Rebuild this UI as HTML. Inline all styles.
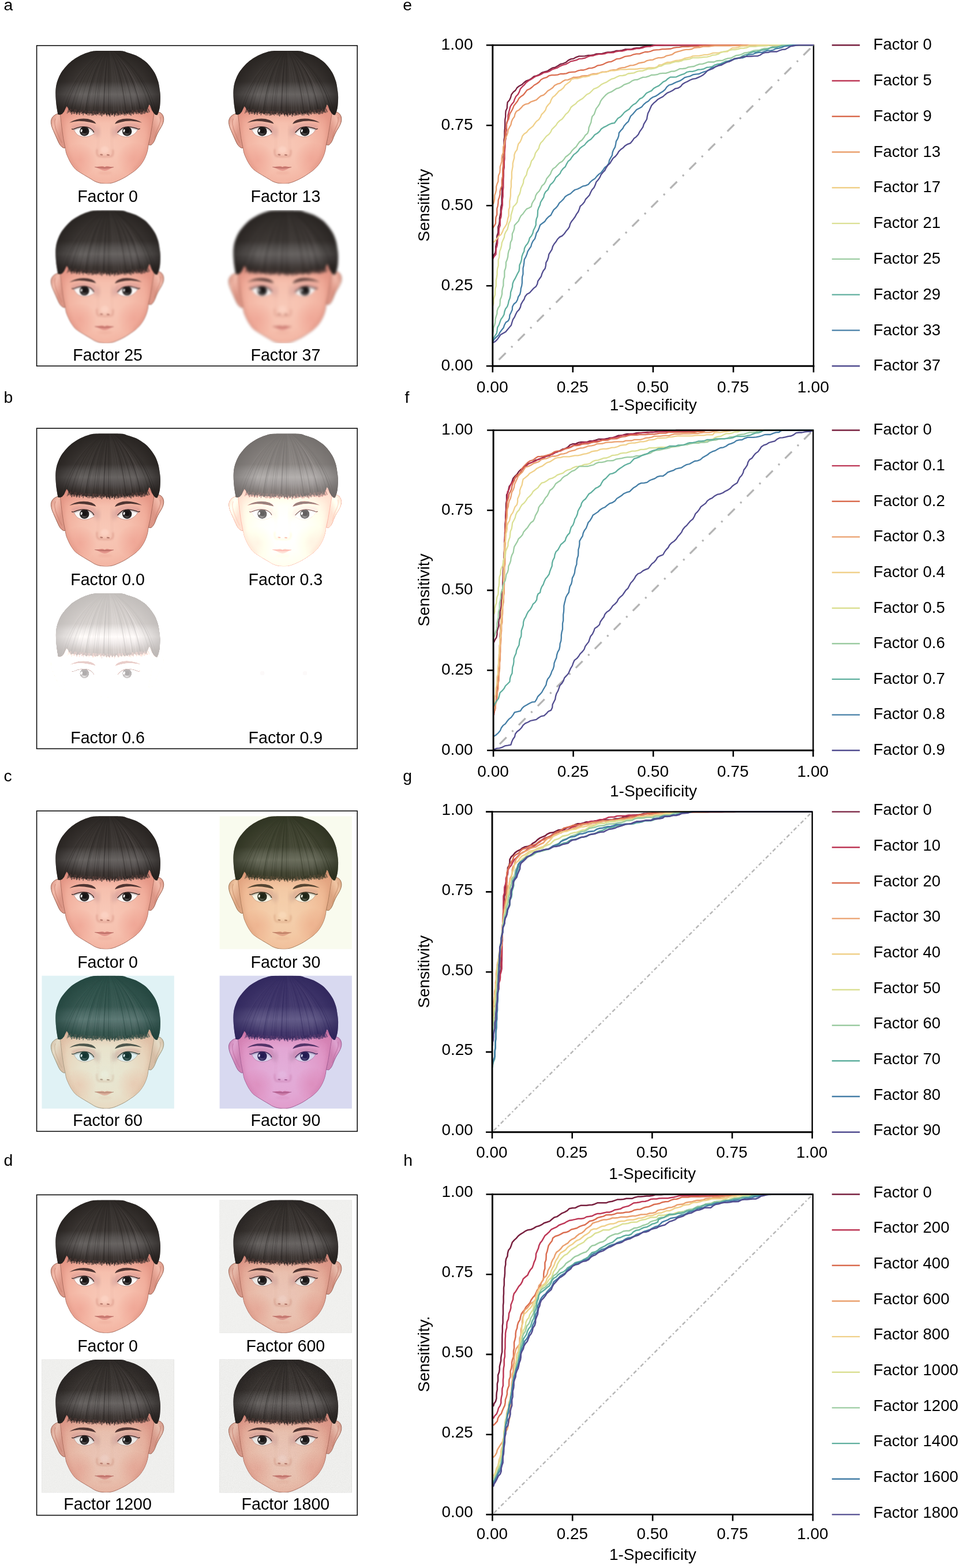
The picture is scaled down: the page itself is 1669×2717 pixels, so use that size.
<!DOCTYPE html>
<html lang="en"><head><meta charset="utf-8"><title>Figure</title>
<style>html,body{margin:0;padding:0;background:#fff}svg{display:block}</style></head><body>
<svg width="1669" height="2717" viewBox="0 0 1669 2717">
<rect width="1669" height="2717" fill="#fff"/>
<defs>
<radialGradient id="skin" gradientUnits="userSpaceOnUse" cx="110" cy="168" r="92">
<stop offset="0" stop-color="#f8c9b8"/><stop offset="0.45" stop-color="#f6c0ae"/><stop offset="0.8" stop-color="#f1ae9c"/><stop offset="1" stop-color="#e89b8a"/></radialGradient>
<radialGradient id="blushL" gradientUnits="userSpaceOnUse" cx="66" cy="190" r="30">
<stop offset="0" stop-color="#ec9a8b" stop-opacity="0.55"/><stop offset="1" stop-color="#ec9485" stop-opacity="0"/></radialGradient>
<radialGradient id="blushR" gradientUnits="userSpaceOnUse" cx="160" cy="188" r="30">
<stop offset="0" stop-color="#ec9a8b" stop-opacity="0.55"/><stop offset="1" stop-color="#ec9485" stop-opacity="0"/></radialGradient>
<linearGradient id="earL" gradientUnits="userSpaceOnUse" x1="17" y1="118" x2="40" y2="128">
<stop offset="0" stop-color="#dd9b8b"/><stop offset="0.35" stop-color="#f2bcac"/><stop offset="0.7" stop-color="#e8a797"/><stop offset="1" stop-color="#dc9686"/></linearGradient>
<linearGradient id="earR" gradientUnits="userSpaceOnUse" x1="211" y1="116" x2="189" y2="126">
<stop offset="0" stop-color="#dd9b8b"/><stop offset="0.35" stop-color="#f2bcac"/><stop offset="0.7" stop-color="#e8a797"/><stop offset="1" stop-color="#dc9686"/></linearGradient>
<linearGradient id="hairg" gradientUnits="userSpaceOnUse" x1="0" y1="0" x2="0" y2="112">
<stop offset="0" stop-color="#2e2a27"/><stop offset="0.3" stop-color="#37322f"/><stop offset="0.48" stop-color="#3d3835"/><stop offset="0.58" stop-color="#575351"/><stop offset="0.68" stop-color="#686462"/><stop offset="0.78" stop-color="#565150"/><stop offset="0.88" stop-color="#3f3835"/><stop offset="1" stop-color="#332b28"/></linearGradient>
<radialGradient id="hairsh" gradientUnits="userSpaceOnUse" cx="115" cy="70" r="100" fx="115" fy="60">
<stop offset="0.5" stop-color="#1d1917" stop-opacity="0"/><stop offset="1" stop-color="#1d1917" stop-opacity="0.8"/></radialGradient>
<radialGradient id="iris" gradientUnits="userSpaceOnUse" cx="-0.5" cy="4.2" r="9.5">
<stop offset="0" stop-color="#545252"/><stop offset="0.28" stop-color="#3f3c3c"/><stop offset="0.55" stop-color="#292525"/><stop offset="1" stop-color="#1f1b1b"/></radialGradient>
<linearGradient id="fhsh" gradientUnits="userSpaceOnUse" x1="0" y1="98" x2="0" y2="126">
<stop offset="0" stop-color="#b8665e" stop-opacity="0.55"/><stop offset="0.3" stop-color="#d88476" stop-opacity="0.3"/><stop offset="1" stop-color="#e8a090" stop-opacity="0"/></linearGradient>
<filter id="soft" x="-20%" y="-20%" width="140%" height="140%" color-interpolation-filters="sRGB"><feGaussianBlur stdDeviation="1.6"/></filter>
<filter id="soft2" x="-30%" y="-30%" width="160%" height="160%" color-interpolation-filters="sRGB"><feGaussianBlur stdDeviation="3"/></filter>
<filter id="soft05" x="-10%" y="-10%" width="120%" height="120%" color-interpolation-filters="sRGB"><feGaussianBlur stdDeviation="0.45"/></filter>
<clipPath id="faceclip"><path d="M31 88 L33 115 L35 132 L37.8 152 L41.3 169.8 C41.6 171.1 42.1 175.2 42.9 177.8 C43.7 180.5 44.8 182.8 46.1 185.7 C47.4 188.6 49.0 192.1 50.9 195.2 C52.8 198.2 55.3 201.8 57.2 204.0 C59.1 206.2 60.7 207.2 62.5 208.5 C64.3 209.8 65.6 210.6 68.0 212.1 C70.4 213.6 73.9 215.7 76.9 217.5 C79.9 219.3 83.4 221.3 85.9 222.8 C88.4 224.3 89.8 225.4 91.8 226.4 C93.8 227.4 95.8 228.2 97.8 228.8 C99.8 229.4 101.7 229.8 103.7 230.1 C105.7 230.4 107.7 230.6 109.7 230.7 C111.7 230.8 113.6 230.8 115.6 230.6 C117.6 230.4 119.5 230.1 121.6 229.6 C123.7 229.1 125.2 228.7 128.0 227.6 C130.8 226.5 135.5 224.4 138.6 222.9 C141.7 221.4 143.8 220.2 146.5 218.6 C149.2 217.0 151.9 215.1 154.5 213.3 C157.1 211.6 159.4 210.1 161.9 208.1 C164.4 206.1 167.2 203.5 169.3 201.2 C171.4 198.9 173.0 196.7 174.6 194.3 C176.2 191.9 177.6 189.5 178.8 186.9 C180.0 184.3 181.1 181.7 182.0 179.0 C182.9 176.3 183.6 173.6 184.1 171.0 C184.6 168.4 184.9 164.8 185.1 163.6 L188.5 148 L191.5 130 L194.5 112 L197 88 Z"/></clipPath>
<clipPath id="imgclip"><rect x="0.5" y="0.6" width="229.3" height="230.2"/></clipPath>
<g id="face">
<path d="M35 106 C31.5 108.5 27 109.6 23.9 111.4 C19.5 113.6 16.2 118.5 16.4 124 C16.6 129.5 18.4 134.2 20.6 139 C23 144.4 25.6 150.6 28.3 156.5 C30.6 161.8 33.2 166.8 38.6 169 L42.4 168.4 L40 150 Z" fill="url(#earL)" stroke="#98604f" stroke-width="1"/>
<path d="M193 104 C197 105.2 203 105.8 206.6 108.2 C210.6 111 212.2 116 211.6 121.2 C211 126.5 208.2 131 205.6 135.5 C202.6 140 200.2 145 198.2 150 C196.2 155.8 193.6 161.6 189.6 163.8 L185.2 163.4 L189.5 140 Z" fill="url(#earR)" stroke="#98604f" stroke-width="1"/>
<path d="M24 118 C21.5 124 23.5 134 27.5 143 C30 149 32.5 155 35.5 160" fill="none" stroke="#c98070" stroke-width="1.6" stroke-opacity="0.6" filter="url(#soft05)"/>
<path d="M205.5 115 C207.5 121 205 128 201.5 134.5 C199 140 197.5 146 195.5 152" fill="none" stroke="#c98070" stroke-width="1.6" stroke-opacity="0.6" filter="url(#soft05)"/>
<path d="M31 88 L33 115 L35 132 L37.8 152 L41.3 169.8 C41.6 171.1 42.1 175.2 42.9 177.8 C43.7 180.5 44.8 182.8 46.1 185.7 C47.4 188.6 49.0 192.1 50.9 195.2 C52.8 198.2 55.3 201.8 57.2 204.0 C59.1 206.2 60.7 207.2 62.5 208.5 C64.3 209.8 65.6 210.6 68.0 212.1 C70.4 213.6 73.9 215.7 76.9 217.5 C79.9 219.3 83.4 221.3 85.9 222.8 C88.4 224.3 89.8 225.4 91.8 226.4 C93.8 227.4 95.8 228.2 97.8 228.8 C99.8 229.4 101.7 229.8 103.7 230.1 C105.7 230.4 107.7 230.6 109.7 230.7 C111.7 230.8 113.6 230.8 115.6 230.6 C117.6 230.4 119.5 230.1 121.6 229.6 C123.7 229.1 125.2 228.7 128.0 227.6 C130.8 226.5 135.5 224.4 138.6 222.9 C141.7 221.4 143.8 220.2 146.5 218.6 C149.2 217.0 151.9 215.1 154.5 213.3 C157.1 211.6 159.4 210.1 161.9 208.1 C164.4 206.1 167.2 203.5 169.3 201.2 C171.4 198.9 173.0 196.7 174.6 194.3 C176.2 191.9 177.6 189.5 178.8 186.9 C180.0 184.3 181.1 181.7 182.0 179.0 C182.9 176.3 183.6 173.6 184.1 171.0 C184.6 168.4 184.9 164.8 185.1 163.6 L188.5 148 L191.5 130 L194.5 112 L197 88 Z" fill="url(#skin)" stroke="#9d6152" stroke-width="0.9"/>
<g clip-path="url(#faceclip)">
<rect x="28" y="96" width="172" height="30" fill="url(#fhsh)"/>
<ellipse cx="66" cy="190" rx="30" ry="28" fill="url(#blushL)"/>
<ellipse cx="160" cy="188" rx="30" ry="28" fill="url(#blushR)"/>
<path d="M33 112 L38 152 L42 172 Q48 194 64 211" fill="none" stroke="#dd8f80" stroke-width="7" stroke-opacity="0.55" filter="url(#soft2)"/>
<path d="M195 110 L189 148 L185 168 Q180 190 160 210" fill="none" stroke="#dd8f80" stroke-width="7" stroke-opacity="0.55" filter="url(#soft2)"/>
<path d="M52 131 Q72 121 93 130 Q95 139 92 146 Q72 128 54 138 Z" fill="#cf9292" fill-opacity="0.42" filter="url(#soft)"/>
<path d="M129 146 Q127 139 129 131 Q149 121 171 130 L168 138 Q150 128 129 146 Z" fill="#cf9292" fill-opacity="0.42" filter="url(#soft)"/>
<ellipse cx="96.5" cy="141" rx="4.5" ry="9" fill="#c99a98" fill-opacity="0.5" filter="url(#soft2)"/>
<ellipse cx="126" cy="141" rx="4.5" ry="9" fill="#c99a98" fill-opacity="0.5" filter="url(#soft2)"/>
<path d="M98 128 Q101 150 97 170 Q95 178 99 183" fill="none" stroke="#e8a595" stroke-width="4" stroke-opacity="0.2" filter="url(#soft2)"/>
<path d="M122 128 Q119 150 123 170 Q125.5 178 121 183" fill="none" stroke="#e8a595" stroke-width="4" stroke-opacity="0.2" filter="url(#soft2)"/>
<ellipse cx="109.5" cy="172" rx="7" ry="6" fill="#fbd3c4" fill-opacity="0.8" filter="url(#soft)"/>
<ellipse cx="110" cy="212" rx="12" ry="3" fill="#eaa595" fill-opacity="0.35" filter="url(#soft)"/>
</g>
<path d="M96.2 171 Q94.6 178.5 97.6 182.2 Q100.5 184 103 183.2 Q109 184.6 116 183.6 Q119.5 184 122.5 182.3 Q125 178.5 123.6 172" fill="none" stroke="#d48f7f" stroke-width="2" stroke-opacity="0.7" filter="url(#soft)"/>
<ellipse cx="103.8" cy="180.4" rx="2.6" ry="1.0" fill="#a3665a" filter="url(#soft05)" transform="rotate(8 103.8 180.4)"/>
<ellipse cx="115.4" cy="180.9" rx="2.7" ry="1.0" fill="#a3665a" filter="url(#soft05)" transform="rotate(6 115.4 180.9)"/>
<path d="M93 201.9 Q99 201 104.5 200.7 Q107.5 200.6 109.4 202 Q111.3 200.6 114.3 200.7 Q119.5 201.2 124.2 202.2 Q120 204.2 116.5 206.2 Q112.5 208.2 109.4 208.2 Q105.5 208.1 102 206 Q97.5 203.8 93 201.9 Z" fill="#e3958b"/>
<path d="M93 201.9 Q99 201 104.5 200.7 Q107.5 200.6 109.4 202 Q111.3 200.6 114.3 200.7 Q119.5 201.2 124.2 202.2 Q117 203.8 109.4 204.1 Q101 203.8 93 201.9 Z" fill="#cf7d74"/>
<path d="M92.2 201.8 Q101 203.6 109.4 203.9 Q117.5 203.7 125 202.1" fill="none" stroke="#a65e58" stroke-width="0.8"/>
<path d="M48.3 125.3 Q56 120.2 66 118.5 Q78 117.1 87 120.4 Q92 122.4 94.6 126.9 Q89 125.3 83.5 124.2 Q74 122.4 65 122.2 Q56 122.6 48.3 125.3 Z" fill="#4f3532" filter="url(#soft05)"/>
<path d="M127 127.3 Q129.2 122.4 134.5 120.3 Q143 116.9 154 118.3 Q165 119.7 174 124.9 Q165 122.6 155 122.1 Q145 122.2 137.5 124.2 Q132 125.8 127 127.3 Z" fill="#4f3532" filter="url(#soft05)"/>
<clipPath id="eyeLc"><path d="M55.3 136.5 C56.5 136.1 60.2 134.7 62.8 134.0 C65.4 133.3 68.1 132.8 70.8 132.6 C73.5 132.4 76.4 132.5 78.7 133.0 C81.0 133.5 83.1 134.5 84.7 135.4 C86.3 136.3 87.4 137.1 88.6 138.5 C89.8 139.9 91.3 143.1 91.8 144.0 L91.8 144.0 C91.3 144.3 90.1 145.1 88.6 145.9 C87.1 146.7 85.0 147.9 82.7 148.6 C80.4 149.2 77.4 149.9 74.7 149.8 C72.0 149.8 69.1 149.2 66.8 148.3 C64.5 147.5 62.8 146.7 60.9 144.7 C59.0 142.7 56.2 137.9 55.3 136.5 Z"/></clipPath>
<path d="M55.3 136.5 C56.5 136.1 60.2 134.7 62.8 134.0 C65.4 133.3 68.1 132.8 70.8 132.6 C73.5 132.4 76.4 132.5 78.7 133.0 C81.0 133.5 83.1 134.5 84.7 135.4 C86.3 136.3 87.4 137.1 88.6 138.5 C89.8 139.9 91.3 143.1 91.8 144.0 L91.8 144.0 C91.3 144.3 90.1 145.1 88.6 145.9 C87.1 146.7 85.0 147.9 82.7 148.6 C80.4 149.2 77.4 149.9 74.7 149.8 C72.0 149.8 69.1 149.2 66.8 148.3 C64.5 147.5 62.8 146.7 60.9 144.7 C59.0 142.7 56.2 137.9 55.3 136.5 Z" fill="#fbf7f5" stroke="#d9a79c" stroke-width="0.7"/>
<g clip-path="url(#eyeLc)">
<path d="M52.6 136.0 C53.0 136.1 53.6 136.7 55.3 136.3 C57.0 135.9 60.2 134.3 62.8 133.6 C65.4 132.9 68.1 132.4 70.8 132.2 C73.5 132.0 76.4 132.1 78.7 132.6 C81.0 133.1 83.1 134.1 84.7 135.0 C86.3 135.9 87.6 137.1 88.6 138.2 C89.6 139.3 90.3 140.9 90.6 141.4" fill="none" stroke="#a89a9c" stroke-width="3.2" stroke-opacity="0.5" filter="url(#soft05)" transform="translate(0 1.3)"/>
<g transform="translate(74.3 140.0)"><circle r="8.2" fill="#1f1b1b"/><circle r="7.3" fill="url(#iris)"/><circle cx="0.3" cy="-0.4" r="4" fill="#171414"/><ellipse cx="-5.1" cy="-1.0" rx="1.5" ry="2.5" fill="#fff" fill-opacity="0.96" transform="rotate(14 -5.1 -1)"/></g>
</g>
<path d="M52.6 136.0 C53.0 136.1 53.6 136.7 55.3 136.3 C57.0 135.9 60.2 134.3 62.8 133.6 C65.4 132.9 68.1 132.4 70.8 132.2 C73.5 132.0 76.4 132.1 78.7 132.6 C81.0 133.1 83.1 134.1 84.7 135.0 C86.3 135.9 87.6 137.1 88.6 138.2 C89.6 139.3 90.3 140.9 90.6 141.4" fill="none" stroke="#2f1d1b" stroke-width="1.25" stroke-linecap="round"/>
<path d="M91.8 144.0 C91.3 144.3 90.1 145.1 88.6 145.9 C87.1 146.7 85.0 147.9 82.7 148.6 C80.4 149.2 77.4 149.9 74.7 149.8 C72.0 149.8 69.1 149.2 66.8 148.3 C64.5 147.5 62.8 146.7 60.9 144.7 C59.0 142.7 56.2 137.9 55.3 136.5" fill="none" stroke="#c48a80" stroke-width="0.7" stroke-opacity="0.8"/>
<clipPath id="eyeRc"><path d="M130.7 144.0 C131.6 143.0 134.1 139.8 135.9 138.1 C137.8 136.4 139.5 135.0 141.8 134.1 C144.1 133.2 147.2 132.6 149.8 132.5 C152.5 132.4 155.4 133.1 157.7 133.5 C160.0 133.9 162.0 134.6 163.7 135.1 C165.3 135.6 166.9 136.3 167.6 136.5 L167.6 136.5 C167.3 137.0 166.6 138.2 165.6 139.4 C164.6 140.6 163.3 142.5 161.7 143.9 C160.0 145.3 158.0 146.8 155.7 147.8 C153.4 148.8 150.8 149.7 147.8 149.8 C144.8 149.9 140.8 149.3 137.9 148.3 C135.1 147.3 131.9 144.7 130.7 144.0 Z"/></clipPath>
<path d="M130.7 144.0 C131.6 143.0 134.1 139.8 135.9 138.1 C137.8 136.4 139.5 135.0 141.8 134.1 C144.1 133.2 147.2 132.6 149.8 132.5 C152.5 132.4 155.4 133.1 157.7 133.5 C160.0 133.9 162.0 134.6 163.7 135.1 C165.3 135.6 166.9 136.3 167.6 136.5 L167.6 136.5 C167.3 137.0 166.6 138.2 165.6 139.4 C164.6 140.6 163.3 142.5 161.7 143.9 C160.0 145.3 158.0 146.8 155.7 147.8 C153.4 148.8 150.8 149.7 147.8 149.8 C144.8 149.9 140.8 149.3 137.9 148.3 C135.1 147.3 131.9 144.7 130.7 144.0 Z" fill="#fbf7f5" stroke="#d9a79c" stroke-width="0.7"/>
<g clip-path="url(#eyeRc)">
<path d="M131.8 141.9 C132.5 141.2 134.2 139.1 135.9 137.7 C137.6 136.3 139.5 134.6 141.8 133.7 C144.1 132.8 147.2 132.2 149.8 132.1 C152.5 132.0 155.4 132.7 157.7 133.1 C160.0 133.5 162.0 134.2 163.7 134.7 C165.3 135.2 166.5 136.0 167.6 136.2 C168.7 136.3 169.8 135.7 170.2 135.6" fill="none" stroke="#a89a9c" stroke-width="3.2" stroke-opacity="0.5" filter="url(#soft05)" transform="translate(0 1.3)"/>
<g transform="translate(148.2 140.0)"><circle r="8.2" fill="#1f1b1b"/><circle r="7.3" fill="url(#iris)"/><circle cx="0.3" cy="-0.4" r="4" fill="#171414"/><ellipse cx="-5.1" cy="-1.0" rx="1.5" ry="2.5" fill="#fff" fill-opacity="0.96" transform="rotate(14 -5.1 -1)"/></g>
</g>
<path d="M131.8 141.9 C132.5 141.2 134.2 139.1 135.9 137.7 C137.6 136.3 139.5 134.6 141.8 133.7 C144.1 132.8 147.2 132.2 149.8 132.1 C152.5 132.0 155.4 132.7 157.7 133.1 C160.0 133.5 162.0 134.2 163.7 134.7 C165.3 135.2 166.5 136.0 167.6 136.2 C168.7 136.3 169.8 135.7 170.2 135.6" fill="none" stroke="#2f1d1b" stroke-width="1.25" stroke-linecap="round"/>
<path d="M167.6 136.5 C167.3 137.0 166.6 138.2 165.6 139.4 C164.6 140.6 163.3 142.5 161.7 143.9 C160.0 145.3 158.0 146.8 155.7 147.8 C153.4 148.8 150.8 149.7 147.8 149.8 C144.8 149.9 140.8 149.3 137.9 148.3 C135.1 147.3 131.9 144.7 130.7 144.0" fill="none" stroke="#c48a80" stroke-width="0.7" stroke-opacity="0.8"/>
<path d="M28.4 110.7 C28.0 108.2 26.5 100.4 25.9 95.9 C25.3 91.5 25.0 88.0 24.7 84.0 C24.4 80.0 24.2 76.1 24.3 72.1 C24.4 68.1 24.8 63.9 25.5 60.2 C26.2 56.5 27.3 53.2 28.6 49.8 C29.9 46.3 31.5 42.7 33.4 39.5 C35.2 36.3 37.3 33.7 39.7 30.8 C42.1 27.9 45.1 24.6 47.7 22.1 C50.4 19.6 52.3 17.9 55.6 15.7 C58.9 13.4 63.5 10.6 67.5 8.6 C71.5 6.6 74.8 5.1 79.4 3.8 C84.0 2.5 85.9 1.1 95.3 0.6 C104.7 0.1 126.8 0.1 135.8 0.6 C144.8 1.1 144.7 2.5 149.3 3.8 C153.9 5.1 159.2 6.6 163.6 8.6 C168.0 10.6 172.2 13.4 175.5 15.7 C178.8 17.9 180.8 19.5 183.4 22.1 C186.0 24.8 188.9 28.3 191.3 31.6 C193.7 34.9 195.8 38.1 197.7 41.9 C199.5 45.7 201.2 50.2 202.4 54.6 C203.6 59.0 204.2 63.9 204.8 68.1 C205.4 72.3 205.9 75.4 206.0 80.0 C206.1 84.6 205.7 91.7 205.2 95.9 C204.7 100.1 204.0 102.8 203.2 105.4 C202.4 108.1 201.0 110.7 200.6 111.8 L197.5 111.5 L194.5 108.5 L191.0 103.0 L188.5 96.0 L186.5 93.5 L184.5 99.0 L182.0 104.5 L180.0 107.2 L177.0 103.2 L174.8 107.9 L171.7 105.5 L169.4 108.8 L166.1 106.3 L164.1 108.2 L160.8 105.5 L159.1 110.6 L155.5 106.1 L153.1 109.4 L150.9 106.9 L149.2 109.8 L146.6 108.4 L144.4 110.7 L141.0 107.6 L138.5 111.2 L135.4 108.1 L133.4 112.6 L129.8 107.5 L127.2 111.3 L124.7 109.0 L123.0 112.4 L120.2 107.9 L118.1 112.9 L114.7 109.9 L112.8 112.8 L110.0 107.6 L107.8 110.9 L104.7 108.0 L102.7 110.8 L100.1 107.5 L97.4 110.7 L94.9 109.3 L93.2 111.9 L90.7 108.0 L88.5 110.3 L85.3 108.7 L82.8 109.8 L80.0 108.1 L78.0 111.2 L74.7 107.5 L71.9 109.0 L69.1 105.7 L66.6 108.2 L63.0 106.6 L61.1 109.1 L58.4 105.9 L56.7 107.1 L53.7 105.5 L51.2 107.1 L48.4 103.2 L48.0 104.0 L45.5 99.0 L43.5 96.5 L41.5 100.5 L39.0 106.0 L35.5 110.0 L32.0 111.2 L28.4 110.7 Z" fill="url(#hairg)"/>
<clipPath id="hairclip"><path d="M28.4 110.7 C28.0 108.2 26.5 100.4 25.9 95.9 C25.3 91.5 25.0 88.0 24.7 84.0 C24.4 80.0 24.2 76.1 24.3 72.1 C24.4 68.1 24.8 63.9 25.5 60.2 C26.2 56.5 27.3 53.2 28.6 49.8 C29.9 46.3 31.5 42.7 33.4 39.5 C35.2 36.3 37.3 33.7 39.7 30.8 C42.1 27.9 45.1 24.6 47.7 22.1 C50.4 19.6 52.3 17.9 55.6 15.7 C58.9 13.4 63.5 10.6 67.5 8.6 C71.5 6.6 74.8 5.1 79.4 3.8 C84.0 2.5 85.9 1.1 95.3 0.6 C104.7 0.1 126.8 0.1 135.8 0.6 C144.8 1.1 144.7 2.5 149.3 3.8 C153.9 5.1 159.2 6.6 163.6 8.6 C168.0 10.6 172.2 13.4 175.5 15.7 C178.8 17.9 180.8 19.5 183.4 22.1 C186.0 24.8 188.9 28.3 191.3 31.6 C193.7 34.9 195.8 38.1 197.7 41.9 C199.5 45.7 201.2 50.2 202.4 54.6 C203.6 59.0 204.2 63.9 204.8 68.1 C205.4 72.3 205.9 75.4 206.0 80.0 C206.1 84.6 205.7 91.7 205.2 95.9 C204.7 100.1 204.0 102.8 203.2 105.4 C202.4 108.1 201.0 110.7 200.6 111.8 L197.5 111.5 L194.5 108.5 L191.0 103.0 L188.5 96.0 L186.5 93.5 L184.5 99.0 L182.0 104.5 L180.0 107.2 L177.0 103.2 L174.8 107.9 L171.7 105.5 L169.4 108.8 L166.1 106.3 L164.1 108.2 L160.8 105.5 L159.1 110.6 L155.5 106.1 L153.1 109.4 L150.9 106.9 L149.2 109.8 L146.6 108.4 L144.4 110.7 L141.0 107.6 L138.5 111.2 L135.4 108.1 L133.4 112.6 L129.8 107.5 L127.2 111.3 L124.7 109.0 L123.0 112.4 L120.2 107.9 L118.1 112.9 L114.7 109.9 L112.8 112.8 L110.0 107.6 L107.8 110.9 L104.7 108.0 L102.7 110.8 L100.1 107.5 L97.4 110.7 L94.9 109.3 L93.2 111.9 L90.7 108.0 L88.5 110.3 L85.3 108.7 L82.8 109.8 L80.0 108.1 L78.0 111.2 L74.7 107.5 L71.9 109.0 L69.1 105.7 L66.6 108.2 L63.0 106.6 L61.1 109.1 L58.4 105.9 L56.7 107.1 L53.7 105.5 L51.2 107.1 L48.4 103.2 L48.0 104.0 L45.5 99.0 L43.5 96.5 L41.5 100.5 L39.0 106.0 L35.5 110.0 L32.0 111.2 L28.4 110.7 Z"/></clipPath>
<linearGradient id="strfade" gradientUnits="userSpaceOnUse" x1="0" y1="0" x2="0" y2="60"><stop offset="0" stop-color="#fff" stop-opacity="0.15"/><stop offset="1" stop-color="#fff" stop-opacity="1"/></linearGradient>
<mask id="strmask" maskUnits="userSpaceOnUse" x="0" y="0" width="230" height="125"><rect x="0" y="0" width="230" height="125" fill="url(#strfade)"/></mask>
<g clip-path="url(#hairclip)" fill="none">
<g mask="url(#strmask)">
<path d="M105.9 1.5 Q47.8 42.4 30.5 108.2" stroke="#4a4442" stroke-opacity="0.34" stroke-width="1.0"/>
<path d="M106.4 1.5 Q51.5 38.0 35.1 108.6" stroke="#5e5856" stroke-opacity="0.40" stroke-width="0.7"/>
<path d="M106.7 1.5 Q53.3 40.4 37.4 107.3" stroke="#171312" stroke-opacity="0.24" stroke-width="1.2"/>
<path d="M107.1 1.5 Q56.2 42.9 41.0 107.4" stroke="#100d0c" stroke-opacity="0.22" stroke-width="1.2"/>
<path d="M107.4 1.5 Q58.3 37.0 43.7 109.0" stroke="#5e5856" stroke-opacity="0.41" stroke-width="0.6"/>
<path d="M108.2 1.5 Q63.4 37.3 50.0 110.2" stroke="#14110f" stroke-opacity="0.25" stroke-width="1.4"/>
<path d="M108.5 1.5 Q65.6 37.6 52.8 109.7" stroke="#4a4442" stroke-opacity="0.23" stroke-width="1.4"/>
<path d="M108.9 1.5 Q68.2 39.3 56.0 107.9" stroke="#14110f" stroke-opacity="0.24" stroke-width="0.9"/>
<path d="M109.6 1.5 Q72.6 40.8 61.5 109.9" stroke="#4a4442" stroke-opacity="0.26" stroke-width="0.8"/>
<path d="M110.0 1.5 Q75.6 38.5 65.3 109.8" stroke="#100d0c" stroke-opacity="0.29" stroke-width="0.7"/>
<path d="M110.2 1.5 Q76.8 43.6 66.8 111.4" stroke="#686260" stroke-opacity="0.38" stroke-width="0.6"/>
<path d="M110.9 1.5 Q81.5 40.6 72.7 109.9" stroke="#5e5856" stroke-opacity="0.29" stroke-width="1.2"/>
<path d="M111.3 1.5 Q84.0 37.0 75.8 111.8" stroke="#14110f" stroke-opacity="0.40" stroke-width="1.4"/>
<path d="M111.6 1.5 Q86.2 40.2 78.5 110.2" stroke="#100d0c" stroke-opacity="0.21" stroke-width="1.2"/>
<path d="M112.3 1.5 Q90.6 36.3 84.1 111.9" stroke="#5e5856" stroke-opacity="0.23" stroke-width="1.0"/>
<path d="M112.5 1.5 Q92.3 38.2 86.1 109.9" stroke="#4a4442" stroke-opacity="0.31" stroke-width="0.8"/>
<path d="M113.0 1.5 Q95.1 36.6 89.7 110.1" stroke="#14110f" stroke-opacity="0.35" stroke-width="0.8"/>
<path d="M113.5 1.5 Q98.7 36.6 94.2 111.9" stroke="#171312" stroke-opacity="0.31" stroke-width="0.9"/>
<path d="M113.8 1.5 Q100.9 42.6 96.9 111.6" stroke="#100d0c" stroke-opacity="0.34" stroke-width="0.7"/>
<path d="M114.6 1.5 Q106.3 42.4 103.7 111.8" stroke="#686260" stroke-opacity="0.38" stroke-width="0.7"/>
<path d="M115.0 1.5 Q108.6 41.0 106.5 112.8" stroke="#100d0c" stroke-opacity="0.21" stroke-width="0.9"/>
<path d="M115.2 1.5 Q109.7 38.4 107.9 112.5" stroke="#100d0c" stroke-opacity="0.40" stroke-width="1.1"/>
<path d="M115.6 1.5 Q112.8 43.7 111.8 111.6" stroke="#4a4442" stroke-opacity="0.36" stroke-width="1.0"/>
<path d="M116.1 1.5 Q116.2 37.2 116.1 111.2" stroke="#100d0c" stroke-opacity="0.38" stroke-width="1.0"/>
<path d="M116.5 1.5 Q118.9 42.9 119.4 112.8" stroke="#14110f" stroke-opacity="0.20" stroke-width="0.8"/>
<path d="M117.3 1.5 Q123.8 38.9 125.6 112.5" stroke="#686260" stroke-opacity="0.35" stroke-width="1.1"/>
<path d="M117.7 1.5 Q126.8 41.6 129.3 111.0" stroke="#686260" stroke-opacity="0.38" stroke-width="0.8"/>
<path d="M118.3 1.5 Q130.5 43.7 133.9 112.0" stroke="#686260" stroke-opacity="0.34" stroke-width="1.1"/>
<path d="M118.3 1.5 Q130.4 38.0 133.8 111.3" stroke="#4a4442" stroke-opacity="0.25" stroke-width="0.8"/>
<path d="M118.9 1.5 Q135.0 38.9 139.6 111.6" stroke="#686260" stroke-opacity="0.33" stroke-width="1.2"/>
<path d="M119.6 1.5 Q139.1 42.7 144.6 110.5" stroke="#4a4442" stroke-opacity="0.29" stroke-width="0.9"/>
<path d="M119.8 1.5 Q140.5 43.8 146.4 109.7" stroke="#14110f" stroke-opacity="0.38" stroke-width="1.3"/>
<path d="M120.3 1.5 Q144.0 41.8 150.8 111.2" stroke="#4a4442" stroke-opacity="0.28" stroke-width="1.1"/>
<path d="M121.0 1.5 Q148.5 43.5 156.4 110.5" stroke="#686260" stroke-opacity="0.33" stroke-width="1.2"/>
<path d="M121.3 1.5 Q150.6 36.2 159.0 110.9" stroke="#14110f" stroke-opacity="0.32" stroke-width="1.1"/>
<path d="M121.5 1.5 Q152.1 37.4 160.9 110.8" stroke="#4a4442" stroke-opacity="0.19" stroke-width="1.0"/>
<path d="M122.0 1.5 Q155.3 37.1 164.9 108.5" stroke="#686260" stroke-opacity="0.41" stroke-width="1.0"/>
<path d="M122.6 1.5 Q159.4 38.8 170.0 109.4" stroke="#4a4442" stroke-opacity="0.33" stroke-width="1.1"/>
<path d="M122.9 1.5 Q161.4 36.0 172.5 110.6" stroke="#100d0c" stroke-opacity="0.41" stroke-width="1.3"/>
<path d="M123.7 1.5 Q166.4 40.4 178.8 109.7" stroke="#5e5856" stroke-opacity="0.31" stroke-width="0.8"/>
<path d="M123.8 1.5 Q167.6 43.6 180.3 108.9" stroke="#686260" stroke-opacity="0.41" stroke-width="1.3"/>
<path d="M124.3 1.5 Q171.0 41.1 184.6 109.5" stroke="#686260" stroke-opacity="0.29" stroke-width="0.7"/>
<path d="M124.8 1.5 Q173.9 37.6 188.2 108.3" stroke="#14110f" stroke-opacity="0.33" stroke-width="0.9"/>
<path d="M125.5 1.5 Q178.6 36.9 194.0 106.6" stroke="#171312" stroke-opacity="0.40" stroke-width="1.0"/>
<path d="M125.7 1.5 Q179.8 40.5 195.5 108.9" stroke="#100d0c" stroke-opacity="0.28" stroke-width="0.8"/>
<path d="M126.1 1.5 Q182.7 39.0 199.2 108.9" stroke="#14110f" stroke-opacity="0.32" stroke-width="0.8"/>
</g>
<rect x="0" y="0" width="230" height="125" fill="url(#hairsh)"/>
</g>
<g fill="none" stroke-linecap="round" filter="url(#soft05)">
<path d="M47.0 101.4 L44.4 108.8" stroke="#3b2f2c" stroke-width="1.2" stroke-opacity="0.62"/>
<path d="M48.7 101.6 L46.8 106.9" stroke="#2f2725" stroke-width="1.7" stroke-opacity="0.59"/>
<path d="M50.6 101.8 L48.7 105.9" stroke="#5a403b" stroke-width="1.7" stroke-opacity="0.71"/>
<path d="M52.8 102.1 L50.5 107.4" stroke="#3b2f2c" stroke-width="1.9" stroke-opacity="0.76"/>
<path d="M54.9 102.3 L52.1 109.8" stroke="#2f2725" stroke-width="2.4" stroke-opacity="0.61"/>
<path d="M57.4 102.6 L55.6 108.7" stroke="#4a3633" stroke-width="2.1" stroke-opacity="0.74"/>
<path d="M59.3 102.8 L56.9 109.1" stroke="#4a3633" stroke-width="1.8" stroke-opacity="0.77"/>
<path d="M61.2 103.0 L58.9 109.1" stroke="#5a403b" stroke-width="1.2" stroke-opacity="0.61"/>
<path d="M63.2 103.3 L60.9 110.2" stroke="#2f2725" stroke-width="2.3" stroke-opacity="0.72"/>
<path d="M65.6 103.5 L63.7 109.2" stroke="#4a3633" stroke-width="1.3" stroke-opacity="0.81"/>
<path d="M67.8 103.7 L65.6 110.7" stroke="#4a3633" stroke-width="2.3" stroke-opacity="0.74"/>
<path d="M70.4 104.0 L69.5 108.6" stroke="#3b2f2c" stroke-width="2.0" stroke-opacity="0.66"/>
<path d="M71.8 104.1 L70.1 109.0" stroke="#4a3633" stroke-width="2.2" stroke-opacity="0.88"/>
<path d="M73.7 104.3 L72.1 111.9" stroke="#2f2725" stroke-width="1.2" stroke-opacity="0.82"/>
<path d="M75.6 104.5 L74.5 108.6" stroke="#4a3633" stroke-width="2.1" stroke-opacity="0.68"/>
<path d="M77.2 104.6 L76.3 109.0" stroke="#4a3633" stroke-width="2.0" stroke-opacity="0.72"/>
<path d="M78.8 104.8 L77.6 109.1" stroke="#3b2f2c" stroke-width="1.7" stroke-opacity="0.64"/>
<path d="M81.2 105.0 L80.1 111.9" stroke="#5a403b" stroke-width="1.3" stroke-opacity="0.88"/>
<path d="M83.7 105.2 L82.5 111.9" stroke="#5a403b" stroke-width="1.7" stroke-opacity="0.81"/>
<path d="M85.7 105.3 L84.9 111.3" stroke="#3b2f2c" stroke-width="1.2" stroke-opacity="0.56"/>
<path d="M88.2 105.5 L87.1 112.1" stroke="#4a3633" stroke-width="2.3" stroke-opacity="0.53"/>
<path d="M90.2 105.6 L89.1 111.6" stroke="#5a403b" stroke-width="2.2" stroke-opacity="0.90"/>
<path d="M91.8 105.7 L90.7 110.9" stroke="#4a3633" stroke-width="2.1" stroke-opacity="0.66"/>
<path d="M94.1 105.8 L93.7 109.9" stroke="#5a403b" stroke-width="2.3" stroke-opacity="0.67"/>
<path d="M95.7 105.9 L95.4 112.1" stroke="#4a3633" stroke-width="1.8" stroke-opacity="0.62"/>
<path d="M98.1 106.0 L98.0 110.3" stroke="#5a403b" stroke-width="1.7" stroke-opacity="0.51"/>
<path d="M100.0 106.1 L99.6 111.6" stroke="#5a403b" stroke-width="1.6" stroke-opacity="0.62"/>
<path d="M102.5 106.2 L102.0 111.4" stroke="#5a403b" stroke-width="2.3" stroke-opacity="0.77"/>
<path d="M104.8 106.3 L104.4 113.4" stroke="#3b2f2c" stroke-width="1.7" stroke-opacity="0.86"/>
<path d="M107.4 106.3 L107.0 110.9" stroke="#5a403b" stroke-width="2.4" stroke-opacity="0.61"/>
<path d="M109.6 106.4 L109.1 110.4" stroke="#3b2f2c" stroke-width="1.5" stroke-opacity="0.89"/>
<path d="M111.7 106.4 L111.9 110.5" stroke="#2f2725" stroke-width="1.4" stroke-opacity="0.73"/>
<path d="M113.8 106.4 L113.5 113.2" stroke="#5a403b" stroke-width="1.9" stroke-opacity="0.64"/>
<path d="M116.4 106.4 L116.6 112.6" stroke="#4a3633" stroke-width="1.2" stroke-opacity="0.55"/>
<path d="M118.6 106.4 L118.5 113.9" stroke="#4a3633" stroke-width="2.3" stroke-opacity="0.62"/>
<path d="M121.1 106.4 L121.5 111.4" stroke="#3b2f2c" stroke-width="2.2" stroke-opacity="0.74"/>
<path d="M123.1 106.3 L123.1 111.5" stroke="#3b2f2c" stroke-width="1.4" stroke-opacity="0.59"/>
<path d="M125.7 106.3 L126.3 113.8" stroke="#4a3633" stroke-width="1.8" stroke-opacity="0.84"/>
<path d="M127.5 106.2 L128.0 111.5" stroke="#2f2725" stroke-width="1.7" stroke-opacity="0.76"/>
<path d="M130.0 106.1 L130.5 112.4" stroke="#2f2725" stroke-width="2.2" stroke-opacity="0.52"/>
<path d="M131.8 106.0 L132.6 112.6" stroke="#4a3633" stroke-width="1.5" stroke-opacity="0.66"/>
<path d="M133.0 106.0 L133.5 111.1" stroke="#4a3633" stroke-width="1.9" stroke-opacity="0.67"/>
<path d="M134.6 105.9 L135.3 111.0" stroke="#5a403b" stroke-width="2.2" stroke-opacity="0.66"/>
<path d="M136.3 105.8 L136.6 111.6" stroke="#5a403b" stroke-width="2.2" stroke-opacity="0.57"/>
<path d="M138.1 105.7 L139.0 110.4" stroke="#3b2f2c" stroke-width="1.7" stroke-opacity="0.50"/>
<path d="M140.2 105.6 L141.1 110.5" stroke="#5a403b" stroke-width="1.7" stroke-opacity="0.89"/>
<path d="M142.4 105.4 L143.7 112.0" stroke="#2f2725" stroke-width="2.1" stroke-opacity="0.56"/>
<path d="M145.0 105.3 L146.5 112.0" stroke="#5a403b" stroke-width="1.9" stroke-opacity="0.55"/>
<path d="M146.3 105.2 L147.1 110.9" stroke="#2f2725" stroke-width="1.3" stroke-opacity="0.51"/>
<path d="M148.2 105.0 L149.3 109.8" stroke="#2f2725" stroke-width="2.1" stroke-opacity="0.62"/>
<path d="M150.4 104.8 L151.9 110.4" stroke="#2f2725" stroke-width="1.6" stroke-opacity="0.80"/>
<path d="M151.9 104.7 L153.6 111.1" stroke="#4a3633" stroke-width="1.3" stroke-opacity="0.81"/>
<path d="M153.3 104.6 L155.2 111.9" stroke="#2f2725" stroke-width="2.4" stroke-opacity="0.54"/>
<path d="M155.7 104.4 L156.4 108.7" stroke="#3b2f2c" stroke-width="2.1" stroke-opacity="0.88"/>
<path d="M157.8 104.2 L159.1 110.0" stroke="#5a403b" stroke-width="2.4" stroke-opacity="0.76"/>
<path d="M160.2 103.9 L161.7 108.7" stroke="#3b2f2c" stroke-width="2.0" stroke-opacity="0.55"/>
<path d="M162.6 103.7 L164.4 109.5" stroke="#4a3633" stroke-width="1.5" stroke-opacity="0.87"/>
<path d="M164.6 103.5 L165.8 108.9" stroke="#5a403b" stroke-width="2.2" stroke-opacity="0.75"/>
<path d="M166.0 103.4 L168.0 110.2" stroke="#5a403b" stroke-width="1.2" stroke-opacity="0.70"/>
<path d="M167.8 103.2 L169.6 108.2" stroke="#3b2f2c" stroke-width="2.2" stroke-opacity="0.58"/>
<path d="M170.2 102.9 L172.2 109.8" stroke="#4a3633" stroke-width="2.2" stroke-opacity="0.77"/>
<path d="M171.5 102.7 L174.1 109.8" stroke="#4a3633" stroke-width="2.2" stroke-opacity="0.71"/>
<path d="M173.5 102.5 L176.0 108.7" stroke="#4a3633" stroke-width="2.2" stroke-opacity="0.61"/>
<path d="M175.5 102.3 L178.2 109.3" stroke="#4a3633" stroke-width="1.3" stroke-opacity="0.67"/>
<path d="M176.8 102.2 L179.1 108.6" stroke="#2f2725" stroke-width="2.1" stroke-opacity="0.54"/>
<path d="M178.4 102.0 L180.7 107.3" stroke="#5a403b" stroke-width="1.5" stroke-opacity="0.72"/>
<path d="M180.7 101.7 L182.8 106.9" stroke="#3b2f2c" stroke-width="2.1" stroke-opacity="0.79"/>
<path d="M182.1 101.5 L184.6 107.6" stroke="#3b2f2c" stroke-width="1.7" stroke-opacity="0.52"/>
<path d="M184.6 101.2 L186.8 106.2" stroke="#5a403b" stroke-width="2.0" stroke-opacity="0.77"/>
</g>
</g>
<filter id="blur13" filterUnits="userSpaceOnUse" x="0.5" y="0.6" width="229.3" height="230.2" color-interpolation-filters="sRGB"><feGaussianBlur stdDeviation="0.7"/></filter>
<filter id="blur25" filterUnits="userSpaceOnUse" x="0.5" y="0.6" width="229.3" height="230.2" color-interpolation-filters="sRGB"><feGaussianBlur stdDeviation="1.3"/></filter>
<filter id="blur37" filterUnits="userSpaceOnUse" x="0.5" y="0.6" width="229.3" height="230.2" color-interpolation-filters="sRGB"><feGaussianBlur stdDeviation="1.9"/></filter>
<filter id="br3" filterUnits="userSpaceOnUse" x="0.5" y="0.6" width="229.3" height="230.2" color-interpolation-filters="sRGB"><feComponentTransfer><feFuncR type="linear" slope="1" intercept="0.3"/><feFuncG type="linear" slope="1" intercept="0.3"/><feFuncB type="linear" slope="1" intercept="0.3"/></feComponentTransfer></filter>
<filter id="br6" filterUnits="userSpaceOnUse" x="0.5" y="0.6" width="229.3" height="230.2" color-interpolation-filters="sRGB"><feComponentTransfer><feFuncR type="linear" slope="1" intercept="0.6"/><feFuncG type="linear" slope="1" intercept="0.6"/><feFuncB type="linear" slope="1" intercept="0.6"/></feComponentTransfer></filter>
<filter id="br9" filterUnits="userSpaceOnUse" x="0.5" y="0.6" width="229.3" height="230.2" color-interpolation-filters="sRGB"><feComponentTransfer><feFuncR type="linear" slope="1" intercept="0.9"/><feFuncG type="linear" slope="1" intercept="0.9"/><feFuncB type="linear" slope="1" intercept="0.9"/></feComponentTransfer></filter>
<filter id="hue30" filterUnits="userSpaceOnUse" x="0.5" y="0.6" width="229.3" height="230.2" color-interpolation-filters="sRGB"><feColorMatrix type="matrix" values="0.9514 0.1076 -0.1207 0.0000 0.0382 0.0751 1.0287 -0.1898 0.0000 0.0722 0.0381 -0.0647 0.9462 0.0000 0.0134 0.0000 0.0000 0.0000 1.0000 0.0000"/></filter>
<filter id="hue60" filterUnits="userSpaceOnUse" x="0.5" y="0.6" width="229.3" height="230.2" color-interpolation-filters="sRGB"><feColorMatrix type="matrix" values="1.1540 -0.2131 -0.0616 0.0000 -0.0004 0.0094 2.7385 -1.9462 0.0000 0.1465 -0.1291 2.0262 -1.0647 0.0000 0.1273 0.0000 0.0000 0.0000 1.0000 0.0000"/></filter>
<filter id="hue90" filterUnits="userSpaceOnUse" x="0.5" y="0.6" width="229.3" height="230.2" color-interpolation-filters="sRGB"><feColorMatrix type="matrix" values="0.8386 0.7385 -0.7906 0.0000 0.0622 -0.1397 1.4010 -0.4514 0.0000 0.0421 -0.1306 2.0222 -1.2172 0.0000 0.2655 0.0000 0.0000 0.0000 1.0000 0.0000"/></filter>
<filter id="n600" filterUnits="userSpaceOnUse" x="0.5" y="0.6" width="229.3" height="230.2" color-interpolation-filters="sRGB"><feTurbulence type="fractalNoise" baseFrequency="0.9" numOctaves="2" seed="3" result="n"/><feColorMatrix in="n" type="matrix" values="0.33 0.33 0.33 0 0  0.33 0.33 0.33 0 0  0.33 0.33 0.33 0 0  0 0 0 0 1" result="ng"/><feComponentTransfer in="SourceGraphic" result="s"><feFuncR type="table" tableValues="0.012 0.255 0.505 0.75 0.945"/><feFuncG type="table" tableValues="0.012 0.255 0.505 0.75 0.945"/><feFuncB type="table" tableValues="0.012 0.255 0.505 0.75 0.937"/></feComponentTransfer><feComposite in="s" in2="ng" operator="arithmetic" k1="0" k2="1" k3="0.070" k4="-0.035"/></filter>
<filter id="n1200" filterUnits="userSpaceOnUse" x="0.5" y="0.6" width="229.3" height="230.2" color-interpolation-filters="sRGB"><feTurbulence type="fractalNoise" baseFrequency="0.9" numOctaves="2" seed="7" result="n"/><feColorMatrix in="n" type="matrix" values="0.33 0.33 0.33 0 0  0.33 0.33 0.33 0 0  0.33 0.33 0.33 0 0  0 0 0 0 1" result="ng"/><feComponentTransfer in="SourceGraphic" result="s"><feFuncR type="table" tableValues="0.012 0.255 0.505 0.75 0.940"/><feFuncG type="table" tableValues="0.012 0.255 0.505 0.75 0.940"/><feFuncB type="table" tableValues="0.012 0.255 0.505 0.75 0.932"/></feComponentTransfer><feComposite in="s" in2="ng" operator="arithmetic" k1="0" k2="1" k3="0.100" k4="-0.050"/></filter>
<filter id="n1800" filterUnits="userSpaceOnUse" x="0.5" y="0.6" width="229.3" height="230.2" color-interpolation-filters="sRGB"><feTurbulence type="fractalNoise" baseFrequency="0.9" numOctaves="2" seed="13" result="n"/><feColorMatrix in="n" type="matrix" values="0.33 0.33 0.33 0 0  0.33 0.33 0.33 0 0  0.33 0.33 0.33 0 0  0 0 0 0 1" result="ng"/><feComponentTransfer in="SourceGraphic" result="s"><feFuncR type="table" tableValues="0.012 0.255 0.505 0.75 0.935"/><feFuncG type="table" tableValues="0.012 0.255 0.505 0.75 0.935"/><feFuncB type="table" tableValues="0.012 0.255 0.505 0.75 0.927"/></feComponentTransfer><feComposite in="s" in2="ng" operator="arithmetic" k1="0" k2="1" k3="0.130" k4="-0.065"/></filter>
</defs>
<g font-family='"Liberation Sans", sans-serif' font-size="28.6" fill="#000">
<text x="6.6" y="17.5" font-size="28.4">a</text>
<g transform="translate(72.0 87.5)"><rect x="0.5" y="0.6" width="229.3" height="230.2" fill="#fff"/><use href="#face" clip-path="url(#imgclip)"/></g>
<text x="186.6" y="350.4" text-anchor="middle">Factor 0</text>
<g transform="translate(380.1 87.5)" filter="url(#blur13)"><rect x="0.5" y="0.6" width="229.3" height="230.2" fill="#fff"/><use href="#face" clip-path="url(#imgclip)"/></g>
<text x="494.9" y="350.4" text-anchor="middle">Factor 13</text>
<g transform="translate(72.0 363.9)" filter="url(#blur25)"><rect x="0.5" y="0.6" width="229.3" height="230.2" fill="#fff"/><use href="#face" clip-path="url(#imgclip)"/></g>
<text x="186.6" y="624.8" text-anchor="middle">Factor 25</text>
<g transform="translate(380.1 363.9)" filter="url(#blur37)"><rect x="0.5" y="0.6" width="229.3" height="230.2" fill="#fff"/><use href="#face" clip-path="url(#imgclip)"/></g>
<text x="494.9" y="624.8" text-anchor="middle">Factor 37</text>
<rect x="63.6" y="79.0" width="555.6" height="555.2" fill="none" stroke="#000" stroke-width="1.5"/>
</g>
<g font-family='"Liberation Sans", sans-serif' font-size="28.6" fill="#000">
<text x="6.6" y="698.3" font-size="28.4">b</text>
<g transform="translate(72.0 750.7)"><rect x="0.5" y="0.6" width="229.3" height="230.2" fill="#fff"/><use href="#face" clip-path="url(#imgclip)"/></g>
<text x="186.6" y="1013.6" text-anchor="middle">Factor 0.0</text>
<g transform="translate(380.1 750.7)" filter="url(#br3)"><rect x="0.5" y="0.6" width="229.3" height="230.2" fill="#fff"/><use href="#face" clip-path="url(#imgclip)"/></g>
<text x="494.9" y="1013.6" text-anchor="middle">Factor 0.3</text>
<g transform="translate(72.0 1027.1)" filter="url(#br6)"><rect x="0.5" y="0.6" width="229.3" height="230.2" fill="#fff"/><use href="#face" clip-path="url(#imgclip)"/></g>
<text x="186.6" y="1288.0" text-anchor="middle">Factor 0.6</text>
<g transform="translate(380.1 1027.1)" filter="url(#br9)"><rect x="0.5" y="0.6" width="229.3" height="230.2" fill="#fff"/><use href="#face" clip-path="url(#imgclip)"/></g>
<text x="494.9" y="1288.0" text-anchor="middle">Factor 0.9</text>
<rect x="63.6" y="742.2" width="555.6" height="555.2" fill="none" stroke="#000" stroke-width="1.5"/>
</g>
<g font-family='"Liberation Sans", sans-serif' font-size="28.6" fill="#000">
<text x="6.6" y="1353.5" font-size="28.4">c</text>
<g transform="translate(72.0 1413.7)"><rect x="0.5" y="0.6" width="229.3" height="230.2" fill="#fff"/><use href="#face" clip-path="url(#imgclip)"/></g>
<text x="186.6" y="1676.6" text-anchor="middle">Factor 0</text>
<g transform="translate(380.1 1413.7)" filter="url(#hue30)"><rect x="0.5" y="0.6" width="229.3" height="230.2" fill="#fff"/><use href="#face" clip-path="url(#imgclip)"/></g>
<text x="494.9" y="1676.6" text-anchor="middle">Factor 30</text>
<g transform="translate(72.0 1690.1)" filter="url(#hue60)"><rect x="0.5" y="0.6" width="229.3" height="230.2" fill="#fff"/><use href="#face" clip-path="url(#imgclip)"/></g>
<text x="186.6" y="1951.0" text-anchor="middle">Factor 60</text>
<g transform="translate(380.1 1690.1)" filter="url(#hue90)"><rect x="0.5" y="0.6" width="229.3" height="230.2" fill="#fff"/><use href="#face" clip-path="url(#imgclip)"/></g>
<text x="494.9" y="1951.0" text-anchor="middle">Factor 90</text>
<rect x="63.6" y="1405.2" width="555.6" height="555.2" fill="none" stroke="#000" stroke-width="1.5"/>
</g>
<g font-family='"Liberation Sans", sans-serif' font-size="28.6" fill="#000">
<text x="6.6" y="2020.2" font-size="28.4">d</text>
<g transform="translate(72.0 2078.9)"><rect x="0.5" y="0.6" width="229.3" height="230.2" fill="#fff"/><use href="#face" clip-path="url(#imgclip)"/></g>
<text x="186.6" y="2341.8" text-anchor="middle">Factor 0</text>
<g transform="translate(380.1 2078.9)" filter="url(#n600)"><rect x="0.5" y="0.6" width="229.3" height="230.2" fill="#fff"/><use href="#face" clip-path="url(#imgclip)"/></g>
<text x="494.9" y="2341.8" text-anchor="middle">Factor 600</text>
<g transform="translate(72.0 2355.3)" filter="url(#n1200)"><rect x="0.5" y="0.6" width="229.3" height="230.2" fill="#fff"/><use href="#face" clip-path="url(#imgclip)"/></g>
<text x="186.6" y="2616.2" text-anchor="middle">Factor 1200</text>
<g transform="translate(380.1 2355.3)" filter="url(#n1800)"><rect x="0.5" y="0.6" width="229.3" height="230.2" fill="#fff"/><use href="#face" clip-path="url(#imgclip)"/></g>
<text x="494.9" y="2616.2" text-anchor="middle">Factor 1800</text>
<rect x="63.6" y="2070.4" width="555.6" height="555.2" fill="none" stroke="#000" stroke-width="1.5"/>
</g>
<g>
<line x1="853.8" y1="634.2" x2="1410.0" y2="78.2" stroke="#b4b4b4" stroke-width="3.2" stroke-dasharray="16.6 13.7 3 13.35" stroke-dashoffset="31.25"/>
<path d="M853.8 78.2 H1410.0 V634.2" fill="none" stroke="#000" stroke-width="2.4"/>
<g fill="none" stroke-width="2.3" stroke-linejoin="round" stroke-linecap="butt">
<path d="M853.9 447.2 L855.6 442.5 L858.3 438.2 L859.1 433.2 L859.1 428.0 L860.0 423.1 L861.1 418.2 L861.1 413.1 L861.5 408.1 L863.2 403.2 L863.3 398.2 L863.3 393.1 L865.1 388.2 L865.8 383.2 L865.8 378.1 L866.8 373.2 L867.8 368.3 L867.8 363.1 L868.3 358.2 L869.6 353.2 L869.6 348.2 L869.6 343.1 L869.9 338.1 L870.1 333.1 L870.1 328.0 L870.3 323.0 L870.8 318.0 L870.8 312.9 L870.8 307.9 L871.7 302.9 L871.7 297.8 L871.7 292.8 L872.3 287.8 L872.3 282.7 L872.3 277.7 L872.4 272.7 L873.0 267.7 L873.0 262.6 L873.0 257.6 L873.5 252.6 L873.5 247.5 L873.5 242.5 L874.4 237.5 L874.4 232.4 L874.4 227.4 L874.9 222.4 L875.2 217.4 L875.2 212.3 L875.3 207.3 L876.2 202.3 L876.2 197.2 L876.6 192.2 L878.8 187.5 L879.0 182.4 L879.6 177.3 L883.1 173.3 L885.1 168.7 L886.4 163.7 L889.5 159.7 L893.4 156.5 L896.1 152.0 L900.1 148.9 L904.6 146.6 L908.3 143.0 L912.3 140.0 L917.2 138.4 L921.5 135.7 L925.4 132.4 L930.4 131.1 L935.0 129.0 L939.1 125.8 L943.9 124.3 L948.9 123.0 L953.1 120.3 L957.4 117.6 L962.5 116.6 L966.9 114.0 L971.2 111.2 L976.1 110.0 L980.8 108.1 L984.7 104.6 L989.2 102.4 L994.2 101.6 L998.7 99.1 L1003.5 97.4 L1008.7 97.4 L1013.6 97.1 L1018.6 96.0 L1023.7 96.0 L1028.6 95.2 L1033.4 93.3 L1038.5 93.1 L1043.5 92.9 L1048.4 91.5 L1053.4 90.5 L1058.5 90.5 L1063.4 89.5 L1068.2 87.8 L1073.4 87.8 L1078.3 87.1 L1083.2 85.5 L1088.3 85.5 L1093.4 85.5 L1098.2 83.9 L1103.2 83.2 L1108.3 83.2 L1113.1 81.5 L1118.0 80.2 L1123.2 80.2 L1128.1 79.8 L1133.0 78.4 L1138.1 78.4 L1143.1 78.4 L1148.2 78.2 L1153.2 78.2 L1158.2 78.2 L1163.3 78.2 L1168.3 78.2 L1173.4 78.2 L1178.4 78.2 L1183.4 78.2 L1188.5 78.2 L1193.5 78.2 L1198.5 78.2 L1203.6 78.2 L1208.6 78.2 L1213.6 78.2 L1218.7 78.2 L1223.7 78.2 L1228.8 78.2 L1233.8 78.2 L1238.8 78.2 L1243.9 78.2 L1248.9 78.2 L1253.9 78.2 L1259.0 78.2 L1264.0 78.2 L1269.1 78.2 L1274.1 78.2 L1279.1 78.2 L1284.2 78.2 L1289.2 78.2 L1294.2 78.2 L1299.3 78.2 L1304.3 78.2 L1309.3 78.2 L1314.4 78.2 L1319.4 78.2 L1324.5 78.2 L1329.5 78.2 L1334.5 78.2 L1339.6 78.2 L1344.6 78.2 L1349.6 78.2 L1354.7 78.2 L1359.7 78.2 L1364.7 78.2 L1369.8 78.2 L1374.8 78.2 L1379.9 78.2 L1384.9 78.2 L1389.9 78.2 L1395.0 78.2 L1400.0 78.2 L1405.0 78.2 L1410.1 78.2" stroke="#771f3e"/>
<path d="M853.9 449.2 L856.2 444.7 L859.5 440.7 L859.7 435.6 L859.9 430.5 L861.6 425.6 L862.3 420.6 L862.3 415.5 L863.3 410.6 L864.6 405.7 L864.6 400.5 L865.0 395.6 L866.8 390.7 L866.8 385.6 L866.9 380.5 L868.5 375.7 L868.9 370.6 L868.9 365.5 L869.9 360.6 L870.9 355.6 L870.9 350.5 L870.9 345.5 L871.7 340.5 L871.7 335.4 L871.7 330.3 L872.4 325.4 L872.4 320.3 L872.4 315.2 L872.5 310.2 L872.9 305.2 L872.9 300.1 L872.9 295.1 L873.9 290.1 L873.9 285.0 L873.9 280.0 L874.5 275.0 L874.5 269.9 L874.5 264.8 L874.9 259.8 L875.5 254.8 L875.5 249.7 L875.7 244.7 L876.7 239.7 L876.7 234.7 L876.7 229.6 L877.9 224.7 L877.9 219.6 L877.9 214.5 L879.6 209.7 L880.5 204.7 L880.5 199.6 L881.8 194.7 L883.1 189.9 L884.3 185.0 L886.9 180.7 L890.3 176.8 L891.9 171.9 L894.1 167.3 L897.6 163.6 L900.0 159.1 L901.7 154.3 L905.0 150.4 L908.7 147.1 L912.0 143.1 L915.9 140.0 L920.3 137.5 L924.5 134.7 L928.8 132.1 L933.7 130.7 L938.3 128.5 L942.6 125.8 L947.7 125.1 L952.5 123.4 L956.7 120.5 L961.5 118.8 L966.4 117.3 L970.7 114.6 L975.3 112.6 L980.4 111.5 L984.8 109.1 L989.1 106.4 L994.1 105.3 L999.0 104.2 L1003.7 101.9 L1008.7 101.6 L1013.7 100.7 L1018.3 98.4 L1023.1 96.8 L1028.2 96.5 L1033.1 95.0 L1038.0 93.8 L1043.1 93.8 L1048.1 93.1 L1052.9 91.4 L1058.0 91.4 L1063.1 91.2 L1067.9 89.3 L1072.9 88.7 L1078.0 88.7 L1082.9 87.4 L1087.8 86.0 L1093.0 86.0 L1097.9 85.5 L1102.8 84.1 L1107.9 84.0 L1112.9 83.2 L1117.7 81.4 L1122.7 80.7 L1127.8 80.5 L1132.7 79.1 L1137.7 78.5 L1142.8 78.5 L1147.8 78.5 L1152.8 78.2 L1157.9 78.2 L1162.9 78.2 L1168.0 78.2 L1173.0 78.2 L1178.1 78.2 L1183.1 78.2 L1188.1 78.2 L1193.2 78.2 L1198.2 78.2 L1203.3 78.2 L1208.3 78.2 L1213.4 78.2 L1218.4 78.2 L1223.5 78.2 L1228.5 78.2 L1233.5 78.2 L1238.6 78.2 L1243.6 78.2 L1248.7 78.2 L1253.7 78.2 L1258.8 78.2 L1263.8 78.2 L1268.8 78.2 L1273.9 78.2 L1278.9 78.2 L1284.0 78.2 L1289.0 78.2 L1294.1 78.2 L1299.1 78.2 L1304.2 78.2 L1309.2 78.2 L1314.2 78.2 L1319.3 78.2 L1324.3 78.2 L1329.4 78.2 L1334.4 78.2 L1339.5 78.2 L1344.5 78.2 L1349.6 78.2 L1354.6 78.2 L1359.6 78.2 L1364.7 78.2 L1369.7 78.2 L1374.8 78.2 L1379.8 78.2 L1384.9 78.2 L1389.9 78.2 L1394.9 78.2 L1400.0 78.2 L1405.0 78.2 L1410.1 78.2" stroke="#bd3756"/>
<path d="M853.9 395.6 L856.7 391.4 L859.0 386.9 L859.0 381.7 L859.5 376.7 L861.3 371.9 L861.3 366.7 L861.3 361.6 L862.7 356.7 L863.4 351.7 L863.6 346.6 L865.3 341.8 L866.6 336.9 L866.6 331.7 L867.8 326.8 L869.8 322.1 L869.8 316.9 L869.8 311.8 L871.2 306.9 L871.2 301.8 L871.2 296.7 L871.6 291.7 L872.0 286.7 L872.0 281.6 L872.1 276.5 L873.4 271.5 L873.4 266.4 L873.4 261.4 L874.4 256.4 L874.4 251.3 L874.4 246.2 L875.0 241.2 L875.7 236.2 L875.7 231.1 L876.1 226.1 L877.7 221.3 L877.8 216.1 L878.7 211.1 L881.4 206.7 L882.5 201.7 L883.8 196.8 L886.5 192.5 L888.8 188.0 L890.6 183.2 L893.8 179.2 L896.9 175.2 L899.2 170.7 L902.9 167.2 L907.2 164.3 L910.3 160.2 L913.4 156.1 L918.2 154.0 L922.2 151.0 L925.9 147.5 L930.4 145.0 L934.4 142.0 L937.7 137.9 L942.2 135.6 L947.2 134.2 L951.4 131.2 L956.4 130.2 L961.5 130.2 L966.5 129.7 L971.4 128.0 L976.5 128.0 L981.5 127.4 L986.3 125.4 L991.3 124.9 L996.5 124.7 L1001.2 122.7 L1006.1 121.5 L1011.3 121.5 L1016.2 120.0 L1020.9 118.1 L1026.0 117.8 L1030.9 116.3 L1035.3 113.7 L1040.4 112.8 L1045.3 111.6 L1049.8 109.2 L1054.6 107.4 L1059.7 106.8 L1064.3 104.5 L1068.8 102.1 L1074.0 101.6 L1078.7 99.9 L1083.4 97.8 L1088.4 97.1 L1093.4 96.3 L1098.2 94.3 L1103.1 93.4 L1108.3 93.4 L1113.1 91.6 L1117.9 90.0 L1123.1 90.0 L1128.0 88.8 L1132.8 86.9 L1137.8 86.4 L1142.8 86.2 L1147.9 85.2 L1152.9 85.2 L1162.8 84.5 L1167.6 82.8 L1172.6 82.2 L1177.6 81.8 L1182.6 80.9 L1187.7 80.9 L1192.7 80.9 L1197.8 80.4 L1202.8 80.4 L1207.9 80.4 L1212.9 79.4 L1217.9 78.8 L1223.1 78.8 L1228.0 78.3 L1233.1 78.2 L1238.1 78.2 L1243.2 78.2 L1248.2 78.2 L1253.3 78.2 L1258.3 78.2 L1263.4 78.2 L1268.5 78.2 L1273.5 78.2 L1278.6 78.2 L1283.6 78.2 L1288.7 78.2 L1293.8 78.2 L1298.8 78.2 L1303.9 78.2 L1308.9 78.2 L1314.0 78.2 L1319.0 78.2 L1324.1 78.2 L1329.2 78.2 L1334.2 78.2 L1339.3 78.2 L1344.3 78.2 L1349.4 78.2 L1354.4 78.2 L1359.5 78.2 L1364.6 78.2 L1369.6 78.2 L1374.7 78.2 L1379.7 78.2 L1384.8 78.2 L1389.8 78.2 L1394.9 78.2 L1400.0 78.2 L1405.0 78.2 L1410.1 78.2" stroke="#da6d50"/>
<path d="M854.9 353.7 L856.4 348.8 L857.2 343.8 L857.2 338.7 L858.9 333.9 L860.1 329.0 L860.1 323.8 L861.4 319.0 L863.4 314.2 L863.5 309.1 L864.0 304.0 L866.2 299.3 L866.7 294.3 L866.7 289.2 L868.3 284.3 L869.5 279.4 L869.5 274.3 L870.2 269.3 L872.1 264.5 L872.1 259.4 L872.3 254.4 L874.1 249.6 L875.0 244.6 L875.9 239.6 L878.2 235.0 L879.8 230.3 L880.6 225.2 L882.9 220.7 L885.4 216.3 L886.4 211.3 L888.3 206.6 L891.4 202.4 L892.6 197.4 L894.9 193.0 L899.5 190.4 L903.1 186.9 L906.4 183.0 L910.8 180.6 L915.8 179.5 L920.0 176.5 L924.7 174.8 L929.6 173.2 L933.3 169.7 L937.2 166.3 L942.1 164.6 L945.9 161.3 L949.3 157.4 L953.7 154.9 L957.9 152.0 L961.2 148.1 L965.7 145.7 L970.7 144.4 L974.8 141.3 L979.2 138.7 L984.4 138.4 L989.1 136.4 L993.6 134.0 L998.8 133.9 L1003.8 133.5 L1008.6 131.6 L1013.6 131.1 L1018.8 131.1 L1023.5 129.2 L1028.4 127.9 L1033.6 127.9 L1038.4 126.6 L1043.2 124.7 L1048.4 124.7 L1053.3 123.9 L1058.1 121.9 L1063.1 121.2 L1068.2 120.9 L1072.8 118.5 L1077.7 117.3 L1082.8 116.8 L1087.6 115.2 L1092.3 113.4 L1097.4 113.1 L1102.3 111.7 L1106.9 109.4 L1111.8 108.5 L1116.9 107.6 L1121.4 105.1 L1126.3 104.0 L1131.4 103.6 L1136.1 101.5 L1141.0 100.1 L1146.1 100.1 L1150.9 99.1 L1155.3 96.6 L1160.3 95.6 L1165.2 94.3 L1169.4 91.2 L1174.2 89.6 L1179.1 88.4 L1183.9 86.9 L1188.9 85.8 L1194.0 85.8 L1199.0 85.0 L1203.6 82.8 L1208.7 82.3 L1213.6 82.0 L1218.6 80.7 L1223.6 80.7 L1228.7 80.7 L1233.7 79.9 L1238.7 79.4 L1243.8 79.4 L1248.8 79.4 L1253.9 79.4 L1258.9 79.4 L1264.0 79.4 L1269.0 79.2 L1274.0 79.2 L1279.1 79.2 L1284.0 78.9 L1289.1 78.3 L1294.1 78.3 L1299.2 78.2 L1304.2 78.2 L1309.2 78.2 L1314.3 78.2 L1319.3 78.2 L1324.4 78.2 L1329.4 78.2 L1334.5 78.2 L1339.5 78.2 L1344.5 78.2 L1349.6 78.2 L1354.6 78.2 L1359.7 78.2 L1364.7 78.2 L1369.7 78.2 L1374.8 78.2 L1379.8 78.2 L1384.9 78.2 L1389.9 78.2 L1395.0 78.2 L1400.0 78.2 L1405.0 78.2 L1410.1 78.2" stroke="#eaa06e"/>
<path d="M853.9 420.4 L858.1 417.5 L861.3 413.6 L864.2 409.5 L868.3 406.3 L870.8 401.9 L872.5 397.1 L875.3 392.8 L878.0 388.5 L879.3 383.6 L880.1 378.7 L881.7 373.8 L881.7 368.7 L881.7 363.6 L883.3 358.8 L883.3 353.7 L883.3 348.6 L884.3 343.6 L884.9 338.6 L884.9 333.5 L885.0 328.5 L885.9 323.5 L885.9 318.4 L885.9 313.4 L886.9 308.4 L886.9 303.3 L886.9 298.2 L887.8 293.4 L888.7 288.4 L888.7 283.2 L889.9 278.4 L891.3 273.5 L891.3 268.3 L893.0 263.6 L896.1 259.4 L897.1 254.3 L898.4 249.4 L901.7 245.4 L903.8 240.7 L905.3 235.8 L908.5 232.0 L912.7 229.2 L915.9 225.1 L919.7 221.9 L923.7 218.7 L926.5 214.5 L929.6 210.4 L933.7 207.3 L936.6 203.2 L938.6 198.4 L942.3 194.8 L945.4 190.8 L947.0 185.8 L950.0 181.8 L953.5 178.0 L955.2 173.1 L957.7 168.7 L961.7 165.6 L965.2 161.9 L968.4 158.0 L972.8 155.4 L976.6 152.1 L979.4 147.7 L983.5 144.6 L987.6 141.6 L990.5 137.3 L995.5 136.2 L1000.7 136.2 L1005.5 134.9 L1010.3 133.1 L1015.5 133.0 L1020.4 131.9 L1025.0 129.5 L1030.1 129.1 L1035.1 128.6 L1039.7 126.2 L1044.7 125.1 L1049.8 124.8 L1054.6 123.4 L1059.6 122.3 L1064.7 122.3 L1069.7 121.7 L1074.7 120.4 L1079.7 120.4 L1084.8 120.4 L1089.8 119.9 L1094.8 119.9 L1099.9 119.9 L1104.9 119.5 L1109.9 118.7 L1115.0 118.7 L1120.0 118.4 L1125.0 117.3 L1130.1 117.3 L1135.2 117.3 L1139.3 115.5 L1142.2 112.7 L1147.4 112.1 L1151.9 109.7 L1156.6 107.9 L1161.9 107.9 L1166.7 106.3 L1171.5 104.8 L1176.6 104.5 L1181.5 103.5 L1186.1 101.2 L1191.1 100.1 L1196.1 99.2 L1200.7 97.1 L1205.8 96.8 L1210.9 96.8 L1215.9 96.0 L1220.8 94.9 L1225.9 94.9 L1230.8 93.7 L1235.6 91.9 L1240.7 91.6 L1245.8 91.6 L1250.7 90.1 L1255.7 89.7 L1260.8 89.4 L1264.8 86.1 L1269.0 83.1 L1274.3 83.1 L1279.2 82.1 L1283.9 80.1 L1289.0 79.9 L1294.1 79.8 L1299.0 78.4 L1304.1 78.3 L1309.2 78.3 L1314.2 78.2 L1319.2 78.2 L1324.3 78.2 L1329.3 78.2 L1334.4 78.2 L1339.4 78.2 L1344.5 78.2 L1349.5 78.2 L1354.6 78.2 L1359.6 78.2 L1364.7 78.2 L1369.7 78.2 L1374.8 78.2 L1379.8 78.2 L1384.8 78.2 L1389.9 78.2 L1394.9 78.2 L1400.0 78.2 L1405.0 78.2 L1410.1 78.2" stroke="#f0d08a"/>
<path d="M853.9 530.6 L855.4 525.7 L855.4 520.5 L856.4 515.6 L858.0 510.7 L858.0 505.6 L858.2 500.6 L859.8 495.7 L859.8 490.6 L859.8 485.5 L860.9 480.5 L861.6 475.5 L861.6 470.4 L862.1 465.4 L863.6 460.5 L863.6 455.3 L863.6 450.3 L865.2 445.5 L865.6 440.4 L866.1 435.4 L867.9 430.6 L869.2 425.7 L869.8 420.6 L871.8 415.9 L873.9 411.3 L874.6 406.2 L876.7 401.6 L879.5 397.3 L880.7 392.3 L881.7 387.4 L884.2 382.8 L885.4 377.9 L885.6 372.8 L887.1 367.9 L888.5 363.1 L889.6 358.3 L893.2 354.7 L896.2 350.6 L897.0 345.5 L898.1 340.6 L900.6 336.1 L902.0 331.2 L902.8 326.2 L905.1 321.6 L907.0 316.9 L907.5 311.7 L909.7 307.1 L912.5 302.8 L913.5 297.8 L915.1 292.9 L918.1 288.7 L919.7 283.9 L921.1 279.0 L924.4 275.0 L926.6 270.4 L927.9 265.4 L930.8 261.2 L933.8 257.1 L935.0 252.0 L937.3 247.5 L940.9 243.9 L943.9 239.9 L947.1 235.9 L951.2 232.9 L954.4 228.9 L956.5 224.2 L960.1 220.6 L963.7 217.0 L966.4 212.7 L970.0 209.1 L974.3 206.2 L977.4 202.3 L980.3 198.1 L984.3 194.8 L987.2 190.7 L989.5 186.0 L993.4 182.7 L997.6 179.9 L1001.0 176.1 L1005.3 173.3 L1009.7 170.8 L1013.3 167.2 L1016.9 163.7 L1021.7 161.5 L1025.3 158.0 L1028.9 154.3 L1033.7 152.4 L1038.1 149.9 L1042.0 146.6 L1046.5 144.3 L1051.2 142.4 L1055.4 139.5 L1059.8 136.9 L1064.8 135.6 L1069.2 133.3 L1073.9 131.2 L1079.1 131.0 L1084.0 130.0 L1088.6 127.5 L1093.7 127.0 L1098.8 126.4 L1103.4 124.2 L1108.3 123.0 L1113.5 122.8 L1118.3 121.2 L1123.1 119.4 L1128.2 119.4 L1133.2 118.7 L1138.0 117.2 L1141.4 115.1 L1146.4 114.3 L1150.9 111.7 L1155.9 110.5 L1161.0 110.1 L1165.7 108.3 L1170.6 106.9 L1175.8 106.9 L1180.7 105.6 L1185.4 103.5 L1190.4 103.0 L1195.5 102.3 L1200.2 100.1 L1205.3 100.1 L1210.4 100.1 L1215.4 99.7 L1220.3 98.9 L1225.4 98.7 L1230.3 97.5 L1235.1 95.5 L1240.2 95.2 L1245.0 93.7 L1249.4 90.9 L1254.3 89.6 L1259.3 88.6 L1264.1 87.0 L1269.1 86.1 L1274.2 86.1 L1279.2 85.2 L1284.0 83.6 L1289.1 83.5 L1294.1 82.6 L1298.9 80.6 L1304.0 80.6 L1309.1 80.6 L1314.1 79.8 L1319.1 79.5 L1324.2 79.5 L1329.2 79.3 L1334.3 78.4 L1339.4 78.4 L1344.4 78.4 L1349.4 78.2 L1354.5 78.2 L1359.5 78.2 L1364.6 78.2 L1369.6 78.2 L1374.7 78.2 L1379.8 78.2 L1384.8 78.2 L1389.9 78.2 L1394.9 78.2 L1400.0 78.2 L1405.0 78.2 L1410.1 78.2" stroke="#dbe094"/>
<path d="M853.9 578.2 L855.0 573.3 L855.2 568.2 L857.1 563.4 L858.3 558.5 L858.4 553.4 L859.8 548.5 L861.4 543.7 L861.6 538.6 L863.3 533.8 L866.2 529.5 L866.7 524.4 L866.9 519.3 L868.9 514.5 L870.1 509.6 L870.1 504.4 L871.0 499.5 L872.4 494.6 L872.4 489.5 L872.7 484.5 L874.3 479.6 L874.3 474.5 L874.4 469.4 L876.2 464.6 L876.9 459.6 L876.9 454.5 L878.9 449.8 L880.2 444.9 L880.6 439.8 L881.7 434.9 L883.8 430.2 L884.2 425.1 L884.8 420.1 L887.1 415.4 L887.8 410.4 L887.8 405.3 L889.9 400.6 L891.4 395.8 L891.7 390.6 L895.1 386.7 L898.6 383.0 L900.6 378.3 L903.0 373.8 L906.6 370.2 L909.4 366.1 L912.6 362.1 L917.1 360.2 L920.8 357.9 L922.0 352.8 L924.5 348.3 L927.3 344.1 L928.4 339.0 L930.9 334.7 L934.6 331.0 L937.1 326.6 L939.3 322.0 L943.2 318.6 L945.8 314.2 L947.5 309.4 L950.8 305.5 L954.0 301.5 L955.8 296.7 L958.5 292.4 L962.8 289.6 L966.2 285.8 L969.7 282.2 L974.2 279.7 L977.6 275.9 L980.5 271.7 L984.7 268.7 L988.5 265.4 L991.3 261.1 L994.8 257.5 L998.7 254.2 L1001.4 249.9 L1004.4 245.8 L1008.6 242.8 L1011.7 238.8 L1014.4 234.4 L1018.3 231.1 L1020.1 226.4 L1020.5 221.3 L1022.4 216.6 L1024.4 211.9 L1025.1 206.9 L1026.3 201.9 L1029.8 198.0 L1031.5 193.2 L1033.2 188.4 L1036.3 184.4 L1039.1 180.2 L1040.9 175.4 L1043.8 171.2 L1047.1 167.5 L1050.6 163.9 L1054.6 161.0 L1059.5 159.2 L1063.7 156.5 L1068.0 153.7 L1072.9 152.3 L1077.4 150.0 L1081.4 146.8 L1086.3 145.2 L1091.0 143.4 L1095.1 140.3 L1099.8 138.4 L1105.0 138.0 L1109.6 135.8 L1114.3 133.9 L1119.4 133.7 L1124.2 132.2 L1128.9 130.0 L1134.0 129.8 L1139.0 129.2 L1143.8 127.3 L1148.8 126.8 L1154.0 126.8 L1158.8 125.4 L1163.6 123.7 L1168.7 123.5 L1173.4 121.6 L1178.0 119.2 L1183.2 119.0 L1188.2 118.5 L1192.9 116.4 L1197.9 115.7 L1202.9 115.0 L1207.6 112.8 L1212.3 111.2 L1217.5 110.8 L1222.3 109.3 L1227.1 107.5 L1232.3 107.5 L1237.3 107.5 L1242.0 105.5 L1247.1 105.0 L1252.2 104.8 L1256.9 102.6 L1261.7 101.2 L1266.8 100.7 L1271.3 98.3 L1275.9 96.1 L1281.0 95.5 L1285.8 93.9 L1290.4 91.6 L1295.4 90.8 L1300.3 89.9 L1305.1 88.0 L1310.1 87.1 L1315.2 87.0 L1320.0 85.4 L1324.8 83.8 L1330.0 83.8 L1334.9 82.8 L1339.6 80.8 L1344.8 80.8 L1349.8 80.4 L1354.6 78.5 L1359.6 78.2 L1364.7 78.2 L1369.7 78.2 L1374.8 78.2 L1379.8 78.2 L1384.9 78.2 L1389.9 78.2 L1395.0 78.2 L1400.0 78.2 L1405.0 78.2 L1410.1 78.2" stroke="#9ccca2"/>
<path d="M853.9 591.1 L855.6 586.3 L857.8 581.8 L860.8 577.6 L861.6 572.5 L862.2 567.4 L864.8 563.0 L866.4 558.3 L868.1 553.5 L871.1 549.4 L873.6 545.0 L874.4 540.0 L876.1 535.2 L879.2 531.1 L880.8 526.3 L881.8 521.4 L883.7 516.7 L884.7 511.7 L885.0 506.7 L886.6 501.9 L888.1 497.1 L888.4 491.9 L890.1 487.2 L892.6 482.9 L894.8 478.4 L897.0 474.0 L899.5 469.6 L900.2 464.6 L900.4 459.5 L902.5 454.8 L903.9 450.0 L904.4 444.9 L906.0 440.1 L908.3 435.6 L908.9 430.5 L911.1 425.9 L914.4 422.0 L916.6 417.5 L917.9 412.5 L921.2 408.5 L923.4 404.0 L924.6 399.0 L926.9 394.5 L928.8 389.8 L928.8 384.7 L929.6 379.7 L931.5 374.9 L931.9 369.9 L932.0 364.8 L933.6 360.0 L935.8 355.5 L936.9 350.5 L939.5 346.2 L942.2 341.9 L943.3 336.8 L945.6 332.4 L949.5 328.9 L951.7 324.3 L954.0 319.8 L958.0 316.4 L960.9 312.3 L963.2 307.7 L967.0 304.3 L970.6 300.7 L972.8 296.1 L975.9 292.2 L979.8 288.8 L982.0 284.1 L984.5 279.7 L988.5 276.4 L991.2 272.2 L994.2 268.2 L998.3 265.1 L1002.0 261.7 L1004.8 257.4 L1008.7 254.1 L1013.0 251.4 L1016.2 247.4 L1019.8 243.9 L1024.2 241.3 L1027.6 237.5 L1030.8 233.5 L1035.2 231.0 L1039.1 227.7 L1042.0 223.5 L1046.2 220.6 L1050.7 218.5 L1055.0 216.0 L1059.6 214.0 L1064.9 213.2 L1068.0 209.0 L1071.0 204.9 L1075.5 202.2 L1079.0 198.6 L1082.2 194.6 L1086.3 191.7 L1090.6 189.0 L1093.7 184.9 L1097.4 181.5 L1101.9 179.0 L1105.3 175.2 L1108.6 171.4 L1113.3 169.2 L1116.9 165.6 L1120.2 161.6 L1124.7 159.3 L1129.3 157.1 L1132.8 153.3 L1137.1 150.7 L1141.8 148.6 L1145.6 145.3 L1149.4 141.9 L1154.0 139.7 L1157.7 136.2 L1161.8 133.6 L1167.0 133.6 L1172.1 133.3 L1176.6 131.2 L1181.2 129.4 L1186.1 127.9 L1190.3 125.0 L1195.2 123.8 L1200.4 123.8 L1205.2 122.5 L1210.0 120.7 L1215.1 120.4 L1220.0 119.3 L1224.6 116.9 L1229.6 116.3 L1234.6 115.3 L1239.0 112.6 L1243.8 111.1 L1248.9 110.4 L1253.5 108.3 L1258.1 106.1 L1263.2 105.6 L1268.1 104.4 L1272.5 101.8 L1277.4 100.7 L1282.4 99.7 L1286.8 97.0 L1291.4 95.0 L1296.2 93.5 L1300.7 91.3 L1305.5 89.9 L1310.7 89.9 L1315.6 88.7 L1320.3 86.8 L1325.3 86.2 L1330.3 85.5 L1334.9 83.0 L1339.9 82.3 L1345.0 82.3 L1349.9 80.9 L1354.8 79.8 L1360.0 79.8 L1364.9 79.0 L1369.8 78.2 L1374.9 78.2 L1379.9 78.2 L1384.9 78.2 L1390.0 78.2 L1395.0 78.2 L1400.0 78.2 L1405.0 78.2 L1410.1 78.2" stroke="#5faf9e"/>
<path d="M853.9 592.1 L856.6 587.8 L860.2 584.1 L864.0 580.7 L866.3 576.1 L869.3 572.0 L872.6 568.1 L874.2 563.2 L876.6 558.8 L881.0 555.8 L883.0 551.2 L883.4 546.0 L885.7 541.4 L887.8 536.7 L888.1 531.5 L890.5 527.0 L894.5 523.7 L896.9 519.2 L898.2 514.3 L901.1 510.0 L902.3 505.1 L902.8 500.0 L904.2 495.1 L904.9 490.1 L904.9 485.0 L905.1 480.0 L906.5 475.0 L906.5 469.9 L906.5 464.8 L907.6 459.9 L908.3 454.9 L908.7 449.8 L911.2 445.3 L913.1 440.6 L914.6 435.7 L917.3 431.4 L920.2 427.2 L921.5 422.2 L923.7 417.7 L927.0 413.6 L928.5 408.7 L929.7 403.8 L932.6 399.5 L934.4 394.8 L936.1 390.0 L940.2 386.7 L944.3 383.7 L947.1 379.4 L950.6 375.7 L954.8 372.7 L957.1 368.1 L959.6 363.6 L963.5 360.2 L966.7 356.4 L969.3 351.9 L973.1 348.5 L976.7 344.9 L979.6 340.7 L983.9 337.9 L988.6 335.8 L992.3 332.2 L996.2 329.0 L1001.1 327.5 L1005.7 325.3 L1010.0 322.6 L1015.1 321.6 L1019.7 319.5 L1023.0 315.5 L1026.8 312.2 L1031.2 309.4 L1034.4 305.4 L1038.0 301.9 L1042.1 298.8 L1045.1 294.8 L1048.0 290.5 L1052.0 287.3 L1055.0 283.2 L1056.0 278.1 L1058.3 273.6 L1060.9 269.2 L1061.6 264.0 L1063.4 259.3 L1066.0 254.8 L1067.1 249.9 L1067.9 244.8 L1070.5 240.3 L1072.2 235.6 L1072.8 230.3 L1075.9 226.3 L1079.4 222.6 L1081.7 218.0 L1085.0 214.2 L1088.9 210.7 L1090.9 206.0 L1093.0 201.3 L1096.7 197.7 L1099.9 193.9 L1103.3 190.1 L1107.8 187.7 L1112.2 185.2 L1115.5 181.1 L1119.3 177.8 L1123.7 175.2 L1127.1 171.4 L1131.3 168.5 L1136.2 166.7 L1140.4 164.0 L1144.5 161.0 L1148.8 158.5 L1152.7 155.2 L1155.5 150.9 L1159.3 147.5 L1164.2 146.2 L1168.8 143.9 L1173.4 141.8 L1178.2 140.2 L1182.5 137.5 L1186.6 134.4 L1191.5 133.0 L1196.4 131.8 L1201.0 129.4 L1206.0 128.7 L1211.1 128.2 L1215.8 126.0 L1220.5 124.3 L1225.4 123.0 L1229.7 120.3 L1233.9 117.3 L1238.9 116.1 L1243.6 114.2 L1248.0 111.5 L1252.9 110.1 L1257.8 108.7 L1262.1 106.0 L1266.8 104.0 L1271.8 103.0 L1276.6 101.6 L1281.5 100.3 L1286.7 100.3 L1291.4 98.6 L1295.6 95.5 L1300.6 94.4 L1305.6 93.8 L1310.3 91.6 L1315.3 90.9 L1320.5 90.9 L1325.3 89.0 L1330.2 87.7 L1335.4 87.7 L1340.3 86.5 L1344.9 84.3 L1350.0 83.6 L1354.9 82.3 L1359.6 80.2 L1364.6 79.7 L1369.7 79.7 L1374.6 78.2 L1379.7 78.2 L1384.8 78.2 L1389.8 78.2 L1394.9 78.2 L1400.0 78.2 L1405.0 78.2 L1410.1 78.2" stroke="#447ea6"/>
<path d="M853.9 594.0 L858.1 591.9 L861.7 588.4 L864.6 584.3 L867.5 580.1 L872.0 577.6 L876.4 575.1 L879.7 571.1 L882.7 567.4 L886.0 563.5 L887.4 558.5 L889.0 553.7 L891.8 549.4 L893.8 544.8 L896.1 540.3 L899.6 536.6 L902.0 532.1 L903.1 527.1 L905.6 522.7 L908.5 518.5 L910.1 513.7 L913.4 509.8 L918.0 507.2 L921.3 503.5 L924.7 499.7 L928.7 496.7 L931.2 492.3 L932.2 487.2 L935.1 483.0 L938.0 478.8 L939.4 473.9 L941.6 469.3 L944.7 465.2 L945.9 460.2 L946.3 455.1 L948.8 450.6 L950.4 445.8 L951.3 440.7 L954.0 436.4 L956.6 432.1 L957.9 427.1 L960.4 422.7 L963.6 418.8 L966.2 414.5 L969.8 410.9 L974.4 408.6 L978.0 405.0 L980.9 400.8 L984.2 397.1 L986.9 392.8 L988.2 387.8 L990.7 383.4 L993.9 379.5 L996.8 375.5 L999.1 371.1 L1002.1 367.0 L1004.0 362.4 L1005.6 357.4 L1009.5 354.0 L1012.8 350.1 L1014.9 345.4 L1018.3 341.7 L1021.7 337.9 L1023.7 333.2 L1026.1 328.7 L1029.5 324.9 L1031.7 320.3 L1033.3 315.4 L1036.7 311.6 L1039.6 307.4 L1041.6 302.7 L1044.9 298.8 L1048.4 295.1 L1050.6 290.5 L1053.5 286.3 L1057.2 282.9 L1059.8 278.5 L1062.6 274.2 L1066.5 271.0 L1069.8 267.1 L1072.3 262.6 L1075.9 259.0 L1079.9 256.1 L1083.5 252.4 L1087.8 249.8 L1092.7 248.1 L1096.0 244.1 L1098.8 239.9 L1102.9 236.8 L1106.3 233.0 L1108.5 228.4 L1111.4 224.3 L1114.3 220.1 L1115.8 215.2 L1118.4 210.9 L1121.0 206.5 L1121.8 201.5 L1122.9 196.5 L1125.2 192.0 L1127.1 187.4 L1129.2 182.8 L1132.6 178.9 L1136.3 175.8 L1140.0 172.3 L1144.4 169.8 L1148.9 167.5 L1152.7 164.0 L1156.7 160.9 L1161.4 159.0 L1165.8 156.7 L1170.0 153.7 L1175.1 152.7 L1179.5 150.1 L1182.7 146.0 L1187.0 143.3 L1191.5 141.3 L1195.9 138.7 L1200.6 136.9 L1205.7 136.1 L1210.3 134.1 L1214.9 132.0 L1219.1 129.4 L1222.9 126.1 L1226.3 122.3 L1231.2 120.5 L1235.9 118.7 L1240.0 115.6 L1244.8 113.9 L1249.8 112.9 L1254.3 110.4 L1258.7 107.9 L1263.7 106.9 L1268.3 104.8 L1272.6 101.7 L1277.7 101.1 L1282.7 100.6 L1287.4 98.5 L1292.5 97.9 L1297.6 97.9 L1302.6 97.5 L1307.6 97.2 L1312.8 97.2 L1317.3 95.5 L1321.5 92.6 L1326.3 91.0 L1331.3 90.9 L1336.2 89.5 L1341.3 89.5 L1346.4 89.5 L1351.0 87.5 L1355.8 85.9 L1361.0 85.5 L1365.5 83.1 L1369.9 80.4 L1374.9 79.5 L1379.8 78.7 L1384.8 78.2 L1389.9 78.2 L1394.9 78.2 L1400.0 78.2 L1405.0 78.2 L1410.1 78.2" stroke="#524d90"/>
</g>
<path d="M853.8 78.2 V634.2 H1410.0" fill="none" stroke="#000" stroke-width="2.9" stroke-linecap="square"/>
<path d="M853.8 634.2 h-11.0 M853.8 634.2 v11.0 M853.8 495.2 h-11.0 M992.8 634.2 v11.0 M853.8 356.2 h-11.0 M1131.9 634.2 v11.0 M853.8 217.2 h-11.0 M1271.0 634.2 v11.0 M853.8 78.2 h-11.0 M1410.0 634.2 v11.0" stroke="#000" stroke-width="2.6" fill="none"/>
<g font-family='"Liberation Sans", sans-serif' font-size="28.4" fill="#000">
<text x="819.7" y="642.0" text-anchor="end" font-size="28.4">0.00</text>
<text x="853.3" y="679.8" text-anchor="middle" font-size="28.4">0.00</text>
<text x="819.7" y="503.0" text-anchor="end" font-size="28.4">0.25</text>
<text x="992.3" y="679.8" text-anchor="middle" font-size="28.4">0.25</text>
<text x="819.7" y="364.0" text-anchor="end" font-size="28.4">0.50</text>
<text x="1131.4" y="679.8" text-anchor="middle" font-size="28.4">0.50</text>
<text x="819.7" y="225.0" text-anchor="end" font-size="28.4">0.75</text>
<text x="1270.5" y="679.8" text-anchor="middle" font-size="28.4">0.75</text>
<text x="819.7" y="86.0" text-anchor="end" font-size="28.4">1.00</text>
<text x="1409.5" y="679.8" text-anchor="middle" font-size="28.4">1.00</text>
<text x="1132.2" y="711.4" text-anchor="middle" font-size="28">1-Specificity</text>
<text transform="translate(744.4 355.7) rotate(-90)" text-anchor="middle" font-size="28">Sensitivity</text>
<line x1="1441.8" y1="78.2" x2="1490.2" y2="78.2" stroke="#771f3e" stroke-width="2.4"/>
<text x="1513.6" y="86.3" font-size="27.6">Factor 0</text>
<line x1="1441.8" y1="140.0" x2="1490.2" y2="140.0" stroke="#bd3756" stroke-width="2.4"/>
<text x="1513.6" y="148.1" font-size="27.6">Factor 5</text>
<line x1="1441.8" y1="201.8" x2="1490.2" y2="201.8" stroke="#da6d50" stroke-width="2.4"/>
<text x="1513.6" y="209.9" font-size="27.6">Factor 9</text>
<line x1="1441.8" y1="263.5" x2="1490.2" y2="263.5" stroke="#eaa06e" stroke-width="2.4"/>
<text x="1513.6" y="271.6" font-size="27.6">Factor 13</text>
<line x1="1441.8" y1="325.3" x2="1490.2" y2="325.3" stroke="#f0d08a" stroke-width="2.4"/>
<text x="1513.6" y="333.4" font-size="27.6">Factor 17</text>
<line x1="1441.8" y1="387.1" x2="1490.2" y2="387.1" stroke="#dbe094" stroke-width="2.4"/>
<text x="1513.6" y="395.2" font-size="27.6">Factor 21</text>
<line x1="1441.8" y1="448.9" x2="1490.2" y2="448.9" stroke="#9ccca2" stroke-width="2.4"/>
<text x="1513.6" y="457.0" font-size="27.6">Factor 25</text>
<line x1="1441.8" y1="510.6" x2="1490.2" y2="510.6" stroke="#5faf9e" stroke-width="2.4"/>
<text x="1513.6" y="518.7" font-size="27.6">Factor 29</text>
<line x1="1441.8" y1="572.4" x2="1490.2" y2="572.4" stroke="#447ea6" stroke-width="2.4"/>
<text x="1513.6" y="580.5" font-size="27.6">Factor 33</text>
<line x1="1441.8" y1="634.2" x2="1490.2" y2="634.2" stroke="#524d90" stroke-width="2.4"/>
<text x="1513.6" y="642.3" font-size="27.6">Factor 37</text>
<text x="698.3" y="17.5">e</text>
</g>
</g>
<g>
<line x1="855.1" y1="1300.2" x2="1409.3" y2="745.5" stroke="#b4b4b4" stroke-width="3.2" stroke-dasharray="16.6 13.7 3 13.35" stroke-dashoffset="31.25"/>
<g fill="none" stroke-width="2.3" stroke-linejoin="round" stroke-linecap="butt">
<path d="M855.9 1113.2 L857.9 1108.6 L860.5 1104.3 L861.5 1099.3 L861.5 1094.1 L862.9 1089.3 L864.3 1084.4 L864.3 1079.2 L864.7 1074.2 L866.4 1069.3 L866.5 1064.2 L866.5 1059.1 L868.2 1054.3 L868.8 1049.2 L868.8 1044.1 L869.4 1039.1 L870.3 1034.1 L870.3 1029.0 L870.3 1024.0 L871.3 1019.0 L871.3 1013.9 L871.3 1008.8 L871.6 1003.8 L871.8 998.7 L871.8 993.6 L872.0 988.6 L872.5 983.6 L872.5 978.5 L872.5 973.5 L873.5 968.4 L873.5 963.3 L873.5 958.3 L874.1 953.3 L874.1 948.2 L874.1 943.1 L874.3 938.1 L874.9 933.1 L874.9 928.0 L874.9 922.9 L875.4 917.9 L875.4 912.8 L875.4 907.8 L876.1 902.8 L876.1 897.7 L876.1 892.6 L876.6 887.6 L876.9 882.5 L876.9 877.4 L877.0 872.4 L878.0 867.4 L878.0 862.3 L878.0 857.3 L880.6 852.8 L881.4 847.8 L882.6 842.8 L885.8 838.6 L887.6 833.9 L889.2 829.0 L892.6 825.1 L896.2 821.7 L898.9 817.3 L902.5 813.8 L906.7 810.9 L910.2 807.1 L914.0 803.7 L919.0 802.4 L923.6 800.3 L927.9 797.4 L932.9 796.4 L937.6 794.6 L942.0 791.9 L947.0 790.7 L952.0 789.7 L956.2 786.8 L960.6 784.1 L965.7 783.3 L970.3 781.0 L974.7 778.4 L979.7 777.3 L984.1 774.8 L987.7 771.1 L992.4 769.2 L997.6 769.1 L1002.3 766.9 L1007.3 765.9 L1012.4 765.9 L1017.4 765.8 L1022.2 764.1 L1027.3 763.8 L1032.3 762.6 L1037.1 761.0 L1042.2 761.0 L1047.3 761.0 L1052.2 760.0 L1057.0 758.6 L1062.2 758.4 L1067.0 756.6 L1071.7 754.6 L1076.9 754.5 L1081.7 753.2 L1086.7 751.8 L1091.8 751.8 L1096.9 751.8 L1101.7 750.5 L1106.8 750.0 L1111.9 750.0 L1116.9 749.5 L1121.9 749.0 L1127.0 749.0 L1132.1 749.0 L1137.0 747.9 L1142.1 747.9 L1147.2 747.9 L1152.2 747.5 L1157.3 747.5 L1162.4 747.5 L1167.2 746.8 L1172.0 745.5 L1177.1 745.5 L1182.1 745.5 L1187.2 745.5 L1192.2 745.5 L1197.3 745.5 L1202.3 745.5 L1207.4 745.5 L1212.5 745.5 L1217.5 745.5 L1222.6 745.5 L1227.6 745.5 L1232.7 745.5 L1237.7 745.5 L1242.8 745.5 L1247.9 745.5 L1252.9 745.5 L1258.0 745.5 L1263.0 745.5 L1268.1 745.5 L1273.1 745.5 L1278.2 745.5 L1283.3 745.5 L1288.3 745.5 L1293.4 745.5 L1298.4 745.5 L1303.5 745.5 L1308.5 745.5 L1313.6 745.5 L1318.7 745.5 L1323.7 745.5 L1328.8 745.5 L1333.8 745.5 L1338.9 745.5 L1343.9 745.5 L1349.0 745.5 L1354.1 745.5 L1359.1 745.5 L1364.2 745.5 L1369.2 745.5 L1374.3 745.5 L1379.3 745.5 L1384.4 745.5 L1389.5 745.5 L1394.5 745.5 L1399.6 745.5 L1404.6 745.5 L1409.7 745.5" stroke="#771f3e"/>
<path d="M855.9 1239.2 L856.2 1234.2 L858.0 1229.3 L858.2 1224.3 L858.4 1219.2 L860.2 1214.4 L860.6 1209.3 L860.6 1204.2 L860.9 1199.2 L861.9 1194.3 L861.9 1189.2 L861.9 1184.2 L863.3 1179.2 L863.3 1174.1 L863.3 1169.1 L863.9 1164.1 L863.9 1159.0 L863.9 1154.0 L864.2 1149.0 L865.0 1144.0 L865.0 1138.9 L865.0 1133.9 L865.8 1128.9 L865.8 1123.8 L865.8 1118.7 L866.5 1113.8 L866.5 1108.7 L866.5 1103.6 L866.7 1098.7 L867.2 1093.6 L867.2 1088.6 L867.3 1083.6 L868.4 1078.6 L868.4 1073.5 L868.4 1068.4 L869.3 1063.5 L869.3 1058.4 L869.3 1053.4 L870.0 1048.4 L870.6 1043.4 L870.6 1038.3 L870.8 1033.3 L871.6 1028.3 L871.6 1023.2 L871.6 1018.2 L872.2 1013.2 L872.2 1008.1 L872.2 1003.1 L872.5 998.1 L872.7 993.0 L872.7 988.0 L872.7 982.9 L873.3 977.9 L873.3 972.9 L873.3 967.8 L874.0 962.8 L874.0 957.8 L874.0 952.7 L874.4 947.7 L874.4 942.7 L874.4 937.6 L874.7 932.6 L875.2 927.6 L875.2 922.5 L875.2 917.5 L876.0 912.5 L876.0 907.4 L876.0 902.4 L876.7 897.4 L876.7 892.4 L876.7 887.3 L877.5 882.3 L878.2 877.3 L878.2 872.2 L878.4 867.2 L879.4 862.3 L879.4 857.2 L879.6 852.1 L882.4 847.8 L883.8 842.9 L885.7 838.2 L889.1 834.3 L891.6 830.0 L894.6 826.0 L899.1 823.5 L902.3 819.6 L904.1 814.8 L907.3 810.8 L911.6 808.1 L915.1 804.5 L919.4 801.9 L924.3 800.5 L928.9 798.4 L933.2 795.6 L938.1 794.2 L943.0 793.1 L947.4 790.3 L952.1 788.7 L957.1 787.5 L961.4 784.9 L965.8 782.2 L971.0 781.6 L975.6 779.5 L980.1 777.2 L985.0 775.9 L989.7 774.2 L994.1 771.5 L999.0 770.3 L1004.1 769.7 L1008.7 767.4 L1013.7 766.5 L1018.8 766.5 L1023.7 765.7 L1028.6 764.3 L1033.7 764.3 L1038.8 764.2 L1043.5 762.0 L1048.6 761.6 L1053.6 761.3 L1058.4 759.4 L1063.2 757.9 L1068.3 757.7 L1073.1 756.1 L1077.9 754.1 L1083.0 754.1 L1088.0 753.8 L1092.9 751.9 L1097.9 751.8 L1103.0 751.8 L1107.9 750.3 L1112.9 749.8 L1118.0 749.8 L1123.0 749.6 L1128.0 748.7 L1133.1 748.7 L1138.1 748.7 L1143.2 748.0 L1148.2 748.0 L1158.3 748.0 L1163.3 748.0 L1173.4 748.0 L1178.4 748.0 L1188.5 748.0 L1193.5 747.7 L1198.6 747.7 L1203.7 747.7 L1208.2 745.9 L1213.2 745.7 L1218.2 745.7 L1223.3 745.6 L1228.3 745.5 L1233.4 745.5 L1238.4 745.5 L1243.4 745.5 L1248.5 745.5 L1253.5 745.5 L1258.5 745.5 L1263.6 745.5 L1268.6 745.5 L1273.7 745.5 L1278.7 745.5 L1283.7 745.5 L1288.8 745.5 L1293.8 745.5 L1298.8 745.5 L1303.9 745.5 L1308.9 745.5 L1314.0 745.5 L1319.0 745.5 L1324.0 745.5 L1329.1 745.5 L1334.1 745.5 L1339.2 745.5 L1344.2 745.5 L1349.2 745.5 L1354.3 745.5 L1359.3 745.5 L1364.3 745.5 L1369.4 745.5 L1374.4 745.5 L1379.5 745.5 L1384.5 745.5 L1389.5 745.5 L1394.6 745.5 L1399.6 745.5 L1404.6 745.5 L1409.7 745.5" stroke="#bd3756"/>
<path d="M855.9 1237.2 L856.9 1232.3 L858.5 1227.5 L858.5 1222.3 L859.4 1217.4 L861.3 1212.6 L861.3 1207.5 L861.3 1202.4 L862.1 1197.5 L862.4 1192.5 L862.4 1187.4 L863.2 1182.4 L864.0 1177.4 L864.0 1172.4 L864.0 1167.4 L865.2 1162.4 L865.2 1157.3 L865.2 1152.3 L865.9 1147.3 L865.9 1142.2 L865.9 1137.2 L866.2 1132.2 L866.5 1127.2 L866.5 1122.1 L866.5 1117.1 L867.8 1112.1 L867.8 1107.1 L867.8 1102.0 L868.4 1097.1 L868.4 1092.0 L868.4 1086.9 L868.8 1082.0 L869.5 1077.0 L869.5 1071.9 L869.5 1066.9 L870.4 1061.9 L870.4 1056.8 L870.4 1051.8 L871.8 1046.9 L871.8 1041.8 L871.8 1036.7 L872.4 1031.8 L872.7 1026.7 L872.7 1021.7 L872.7 1016.7 L873.2 1011.7 L873.2 1006.6 L873.2 1001.6 L873.6 996.6 L873.6 991.5 L873.6 986.5 L873.9 981.5 L873.9 976.4 L873.9 971.4 L873.9 966.4 L874.4 961.4 L874.4 956.3 L874.4 951.3 L875.0 946.3 L875.0 941.2 L875.0 936.2 L875.4 931.2 L875.4 926.1 L875.4 921.1 L875.9 916.1 L876.4 911.1 L876.4 906.0 L876.5 901.0 L877.7 896.1 L877.7 891.0 L877.7 885.9 L878.4 881.0 L878.4 875.9 L878.4 870.8 L880.0 866.1 L881.6 861.4 L882.2 856.3 L884.6 851.8 L886.7 847.2 L887.4 842.1 L888.9 837.3 L891.4 832.8 L892.4 827.9 L895.3 823.8 L900.0 821.3 L902.6 817.0 L904.5 812.3 L907.7 808.3 L911.1 804.8 L914.7 801.3 L918.9 798.5 L923.9 797.1 L928.0 794.0 L932.2 791.2 L937.3 791.0 L942.3 790.3 L947.1 789.0 L951.9 787.7 L956.6 785.8 L960.8 782.9 L965.8 781.6 L970.9 781.4 L975.5 779.2 L980.3 777.7 L985.3 776.6 L989.9 774.7 L994.4 772.2 L999.5 772.0 L1004.5 771.3 L1009.3 769.5 L1014.3 769.0 L1019.4 769.0 L1024.2 767.1 L1029.1 766.1 L1034.3 766.1 L1039.1 764.7 L1043.9 762.9 L1049.0 762.9 L1054.0 762.5 L1058.8 760.4 L1063.9 760.4 L1069.0 760.2 L1073.7 758.1 L1078.5 756.8 L1083.6 756.4 L1088.4 754.8 L1093.4 753.9 L1098.5 753.9 L1103.5 753.9 L1108.5 753.2 L1113.5 753.2 L1118.6 753.2 L1123.5 752.5 L1128.6 752.4 L1133.7 752.4 L1138.6 751.7 L1143.6 750.7 L1148.7 750.7 L1153.7 750.7 L1158.6 749.2 L1163.7 749.2 L1168.7 749.2 L1173.7 749.2 L1178.8 749.2 L1188.8 749.2 L1193.8 748.8 L1198.9 748.8 L1203.9 748.8 L1208.9 747.8 L1214.0 747.8 L1219.0 747.8 L1223.4 745.5 L1228.6 745.5 L1233.6 745.5 L1238.6 745.5 L1243.6 745.5 L1248.7 745.5 L1253.7 745.5 L1258.7 745.5 L1263.8 745.5 L1268.8 745.5 L1273.8 745.5 L1278.9 745.5 L1283.9 745.5 L1288.9 745.5 L1294.0 745.5 L1299.0 745.5 L1304.0 745.5 L1309.1 745.5 L1314.1 745.5 L1319.1 745.5 L1324.1 745.5 L1329.2 745.5 L1334.2 745.5 L1339.2 745.5 L1344.3 745.5 L1349.3 745.5 L1354.3 745.5 L1359.4 745.5 L1364.4 745.5 L1369.4 745.5 L1374.5 745.5 L1379.5 745.5 L1384.5 745.5 L1389.6 745.5 L1394.6 745.5 L1399.6 745.5 L1404.7 745.5 L1409.7 745.5" stroke="#da6d50"/>
<path d="M855.9 1233.3 L857.7 1228.5 L858.8 1223.6 L859.2 1218.5 L861.1 1213.8 L861.9 1208.8 L861.9 1203.7 L862.2 1198.8 L863.6 1193.8 L863.6 1188.7 L863.6 1183.7 L864.8 1178.8 L864.9 1173.7 L864.9 1168.7 L865.4 1163.7 L866.1 1158.7 L866.1 1153.6 L866.1 1148.6 L867.0 1143.6 L867.0 1138.6 L867.0 1133.5 L867.4 1128.6 L867.4 1123.5 L867.4 1118.5 L868.0 1113.5 L868.4 1108.5 L868.4 1103.4 L868.4 1098.4 L869.2 1093.4 L869.2 1088.3 L869.2 1083.3 L870.4 1078.4 L870.4 1073.3 L870.4 1068.2 L871.1 1063.3 L871.2 1058.3 L871.2 1053.2 L871.7 1048.2 L872.8 1043.2 L872.8 1038.1 L872.8 1033.1 L873.8 1028.2 L873.8 1023.1 L874.0 1013.1 L874.0 1008.0 L874.0 1003.0 L874.0 998.0 L874.4 993.0 L874.4 987.9 L874.4 982.9 L875.3 977.9 L875.3 972.8 L875.3 967.8 L875.5 962.8 L875.5 957.8 L875.5 952.7 L875.5 947.7 L875.9 942.7 L875.9 937.6 L875.9 932.6 L876.5 927.6 L876.5 922.6 L876.5 917.5 L877.5 912.6 L877.5 907.6 L877.5 902.5 L878.5 897.5 L878.9 892.5 L878.9 887.4 L879.3 882.5 L880.9 877.7 L881.3 872.6 L882.7 867.8 L884.9 863.2 L886.0 858.3 L886.9 853.3 L889.4 848.8 L891.1 844.1 L891.8 839.0 L893.9 834.4 L896.0 830.0 L898.0 825.3 L901.3 821.5 L905.2 818.2 L907.8 813.8 L910.6 809.5 L915.6 808.1 L920.1 806.0 L924.4 803.2 L929.2 801.6 L934.0 799.9 L937.9 796.4 L942.8 795.1 L947.8 794.3 L952.4 792.2 L957.2 790.5 L962.4 790.5 L967.2 789.1 L971.8 786.9 L976.9 786.4 L981.7 785.0 L986.2 782.5 L991.1 781.2 L996.0 780.2 L1000.6 777.8 L1005.4 776.5 L1010.5 776.1 L1015.3 774.6 L1020.0 772.8 L1025.1 772.4 L1030.0 771.3 L1034.7 769.2 L1039.8 768.9 L1044.8 768.5 L1049.7 766.9 L1054.7 766.3 L1059.7 766.3 L1064.7 765.7 L1069.7 765.3 L1074.8 765.3 L1079.8 765.3 L1084.6 763.7 L1089.6 763.6 L1094.7 763.5 L1099.6 761.8 L1104.6 761.8 L1109.7 761.8 L1114.5 760.5 L1119.3 758.8 L1124.4 758.5 L1129.3 757.6 L1134.1 755.9 L1139.2 755.9 L1144.2 755.9 L1149.2 755.2 L1154.2 754.9 L1159.3 754.9 L1164.1 753.4 L1169.1 752.2 L1174.2 752.2 L1179.2 752.2 L1184.2 751.7 L1189.3 751.7 L1194.3 751.7 L1199.3 751.4 L1204.3 751.2 L1209.4 751.2 L1214.3 750.0 L1219.3 749.4 L1224.4 749.4 L1229.4 749.3 L1234.2 748.3 L1239.1 747.3 L1243.8 746.3 L1248.8 745.5 L1253.8 745.5 L1258.8 745.5 L1263.8 745.5 L1268.9 745.5 L1273.9 745.5 L1278.9 745.5 L1284.0 745.5 L1289.0 745.5 L1294.0 745.5 L1299.0 745.5 L1304.1 745.5 L1309.1 745.5 L1314.1 745.5 L1319.2 745.5 L1324.2 745.5 L1329.2 745.5 L1334.2 745.5 L1339.3 745.5 L1344.3 745.5 L1349.3 745.5 L1354.4 745.5 L1359.4 745.5 L1364.4 745.5 L1369.5 745.5 L1374.5 745.5 L1379.5 745.5 L1384.5 745.5 L1389.6 745.5 L1394.6 745.5 L1399.6 745.5 L1404.7 745.5 L1409.7 745.5" stroke="#eaa06e"/>
<path d="M855.9 1223.3 L857.0 1218.4 L857.1 1213.3 L857.4 1208.2 L859.1 1203.4 L859.4 1198.3 L859.4 1193.2 L860.5 1188.3 L861.4 1183.3 L861.4 1178.2 L861.5 1173.1 L862.9 1168.2 L862.9 1163.1 L862.9 1158.0 L864.0 1153.1 L864.0 1148.0 L864.0 1142.9 L864.6 1137.9 L865.0 1132.9 L865.0 1127.8 L865.2 1122.8 L866.1 1117.8 L866.1 1112.7 L866.1 1107.6 L867.4 1102.7 L867.4 1097.6 L867.4 1092.5 L868.0 1087.5 L868.3 1082.5 L868.3 1077.3 L868.6 1072.4 L869.5 1067.4 L869.5 1062.3 L869.5 1057.2 L870.8 1052.3 L870.8 1047.2 L870.8 1042.1 L871.8 1037.1 L872.0 1032.1 L872.0 1027.0 L872.1 1022.0 L872.8 1016.9 L872.8 1011.9 L872.8 1006.8 L873.0 1001.8 L873.0 996.7 L873.0 991.7 L873.3 986.6 L873.3 981.6 L873.3 976.5 L873.4 971.5 L874.0 966.4 L874.0 956.3 L874.5 951.3 L874.5 946.2 L874.5 941.2 L876.2 936.3 L876.4 931.3 L876.4 926.1 L878.0 921.3 L878.9 916.3 L878.9 911.1 L880.5 906.4 L883.1 902.0 L884.1 896.9 L885.8 892.2 L888.9 888.1 L890.7 883.3 L892.5 878.5 L895.9 874.6 L897.1 869.7 L897.1 864.5 L899.1 859.8 L900.9 855.0 L900.9 849.8 L902.5 845.0 L904.6 840.4 L905.5 835.3 L906.7 830.3 L910.6 827.3 L914.6 824.2 L917.9 820.3 L922.4 817.8 L926.7 815.2 L930.5 811.7 L935.0 809.4 L939.8 807.7 L943.9 804.5 L948.0 801.6 L953.0 800.2 L957.3 797.5 L961.5 794.7 L966.3 793.0 L971.3 792.9 L976.2 791.3 L981.3 791.3 L986.4 791.3 L991.3 790.3 L996.3 789.3 L1001.5 789.3 L1006.3 788.4 L1011.2 786.9 L1016.2 786.1 L1021.0 784.7 L1025.6 782.4 L1030.6 781.5 L1035.7 780.8 L1040.3 778.6 L1045.4 777.9 L1050.5 777.9 L1055.4 777.0 L1060.3 775.6 L1065.4 775.4 L1070.3 774.0 L1075.0 771.9 L1080.0 771.2 L1085.1 770.6 L1089.7 768.3 L1094.8 767.7 L1099.9 767.7 L1104.8 766.7 L1109.7 765.3 L1114.9 765.3 L1119.8 764.4 L1124.6 762.4 L1129.6 762.1 L1134.6 761.3 L1139.4 759.2 L1144.5 759.2 L1154.5 758.6 L1159.4 757.3 L1164.5 757.2 L1169.4 756.1 L1174.4 755.3 L1179.5 755.3 L1184.6 755.3 L1189.6 755.3 L1194.6 755.3 L1199.7 755.3 L1204.7 754.7 L1209.8 754.3 L1214.9 754.3 L1219.9 754.3 L1224.9 753.4 L1230.0 753.4 L1235.2 753.4 L1238.3 749.7 L1243.5 749.4 L1248.6 749.4 L1253.5 748.4 L1258.5 747.8 L1263.4 747.1 L1268.2 745.9 L1273.3 745.5 L1278.3 745.5 L1283.4 745.5 L1288.4 745.5 L1293.5 745.5 L1298.5 745.5 L1303.6 745.5 L1308.6 745.5 L1313.7 745.5 L1318.7 745.5 L1323.8 745.5 L1328.9 745.5 L1333.9 745.5 L1339.0 745.5 L1344.0 745.5 L1349.1 745.5 L1354.1 745.5 L1359.2 745.5 L1364.2 745.5 L1369.3 745.5 L1374.3 745.5 L1379.4 745.5 L1384.4 745.5 L1389.5 745.5 L1394.5 745.5 L1399.6 745.5 L1404.6 745.5 L1409.7 745.5" stroke="#f0d08a"/>
<path d="M855.9 1064.6 L857.5 1059.8 L857.5 1054.6 L858.6 1049.7 L860.3 1044.8 L860.6 1039.7 L861.4 1034.7 L863.4 1029.9 L863.7 1024.8 L863.7 1019.7 L864.7 1014.7 L865.2 1009.7 L865.2 1004.6 L865.6 999.6 L867.5 994.8 L867.6 989.6 L868.9 984.7 L871.2 980.1 L871.9 975.1 L872.7 970.0 L874.9 965.4 L876.1 960.4 L876.5 955.3 L878.4 950.6 L880.4 945.9 L880.5 940.6 L881.8 935.8 L883.6 931.0 L884.1 925.9 L884.6 920.8 L886.7 916.1 L887.5 911.1 L888.1 906.0 L890.6 901.5 L892.8 897.0 L893.9 891.9 L896.1 887.4 L899.7 883.6 L901.9 879.0 L904.6 874.7 L908.6 871.4 L911.7 867.4 L914.3 863.0 L918.1 859.6 L921.6 855.8 L924.1 851.3 L928.1 848.1 L932.3 845.1 L935.2 840.9 L938.6 836.9 L943.6 835.6 L948.0 832.9 L952.1 829.8 L957.1 828.6 L961.7 826.3 L965.7 823.1 L970.5 821.4 L975.5 819.9 L979.5 816.6 L984.0 814.3 L989.0 813.1 L993.3 810.3 L998.1 808.5 L1003.2 808.1 L1008.1 806.9 L1012.8 804.8 L1017.9 804.5 L1022.8 803.0 L1026.9 799.8 L1031.6 797.8 L1036.7 797.4 L1041.5 795.6 L1046.3 793.9 L1051.4 793.5 L1056.2 791.7 L1060.7 789.2 L1065.9 788.7 L1070.8 787.8 L1075.5 785.6 L1080.6 784.8 L1085.7 784.6 L1090.5 783.1 L1095.4 781.7 L1100.6 781.7 L1105.5 780.6 L1110.4 778.9 L1115.5 778.8 L1120.5 778.0 L1125.4 776.2 L1130.5 776.2 L1135.6 776.2 L1140.6 775.4 L1145.7 775.0 L1150.7 775.0 L1155.8 775.0 L1160.7 774.7 L1165.9 774.7 L1170.9 773.9 L1175.6 771.7 L1180.7 771.4 L1185.8 771.0 L1190.6 769.1 L1195.5 768.0 L1200.7 768.0 L1205.7 767.4 L1210.7 766.4 L1215.8 766.4 L1220.8 766.4 L1225.2 763.6 L1230.1 762.2 L1235.0 761.0 L1239.4 758.1 L1244.2 756.7 L1249.3 755.9 L1253.9 753.5 L1258.6 751.4 L1263.7 751.4 L1268.7 750.3 L1273.5 748.5 L1278.6 748.4 L1283.2 746.4 L1288.1 745.5 L1293.2 745.5 L1298.2 745.5 L1303.3 745.5 L1308.3 745.5 L1313.4 745.5 L1318.5 745.5 L1323.5 745.5 L1328.6 745.5 L1333.7 745.5 L1338.7 745.5 L1343.8 745.5 L1348.9 745.5 L1353.9 745.5 L1359.0 745.5 L1364.1 745.5 L1369.2 745.5 L1374.2 745.5 L1379.3 745.5 L1384.4 745.5 L1389.4 745.5 L1394.5 745.5 L1399.6 745.5 L1404.6 745.5 L1409.7 745.5" stroke="#dbe094"/>
<path d="M855.9 1104.3 L857.9 1099.6 L859.0 1094.7 L860.6 1090.0 L861.5 1085.0 L861.5 1079.9 L862.4 1074.9 L863.7 1070.0 L863.7 1064.9 L864.0 1059.9 L865.7 1055.0 L865.7 1049.9 L865.7 1044.8 L867.1 1039.9 L867.9 1034.9 L867.9 1029.8 L869.2 1024.9 L871.1 1020.2 L871.5 1015.1 L873.2 1010.4 L875.7 1005.9 L876.6 1000.9 L877.4 995.8 L879.8 991.3 L881.0 986.4 L881.3 981.2 L883.5 976.6 L885.1 971.8 L885.7 966.7 L887.2 961.9 L889.6 957.3 L890.3 952.3 L891.3 947.3 L894.0 942.9 L896.5 938.7 L898.5 933.9 L902.3 930.4 L905.6 926.6 L907.5 921.7 L910.8 917.9 L914.3 914.2 L917.0 909.9 L920.0 905.8 L924.2 902.7 L926.5 898.2 L927.9 893.3 L930.5 888.9 L932.7 884.4 L933.6 879.3 L936.5 875.1 L940.4 871.7 L942.7 867.1 L945.2 862.8 L948.7 859.0 L951.0 854.5 L953.1 849.8 L957.3 846.7 L960.5 842.8 L963.0 838.2 L967.2 835.3 L971.4 832.5 L974.6 828.4 L978.5 825.2 L983.2 823.0 L987.0 819.7 L991.0 816.6 L995.8 814.8 L999.9 811.7 L1003.8 808.1 L1008.9 808.1 L1014.0 808.1 L1019.0 808.0 L1023.7 806.7 L1028.7 805.5 L1033.0 802.8 L1037.8 801.2 L1043.0 801.2 L1047.9 800.2 L1052.7 798.4 L1057.8 798.4 L1062.9 798.0 L1067.5 795.7 L1072.5 794.9 L1077.5 794.2 L1082.4 792.9 L1087.4 792.2 L1092.6 792.2 L1097.5 791.6 L1102.3 790.0 L1107.4 789.9 L1112.4 789.1 L1117.2 787.1 L1122.1 786.3 L1127.1 785.3 L1131.4 782.4 L1136.1 780.4 L1141.2 780.1 L1146.1 779.1 L1150.9 777.8 L1156.0 777.2 L1160.8 775.8 L1165.6 773.9 L1170.7 773.8 L1175.7 773.4 L1180.5 771.6 L1185.5 770.7 L1190.7 770.7 L1195.5 769.2 L1200.4 767.9 L1205.6 767.9 L1210.6 767.9 L1215.5 766.5 L1220.6 766.5 L1225.6 766.1 L1230.2 763.8 L1235.2 762.8 L1240.3 762.7 L1245.2 761.2 L1250.1 760.2 L1255.3 760.2 L1260.2 759.6 L1264.9 757.3 L1270.0 756.8 L1275.0 756.0 L1279.5 753.6 L1284.5 752.8 L1289.6 752.3 L1294.4 750.5 L1299.3 749.3 L1304.5 749.3 L1309.4 748.9 L1314.2 747.4 L1318.9 746.2 L1323.9 746.2 L1328.9 745.5 L1334.0 745.5 L1339.0 745.5 L1344.1 745.5 L1349.1 745.5 L1354.2 745.5 L1359.2 745.5 L1364.3 745.5 L1369.3 745.5 L1374.4 745.5 L1379.4 745.5 L1384.4 745.5 L1389.5 745.5 L1394.5 745.5 L1399.6 745.5 L1404.6 745.5 L1409.7 745.5" stroke="#9ccca2"/>
<path d="M855.9 1223.3 L858.1 1218.8 L860.8 1214.5 L863.9 1210.4 L865.3 1205.5 L866.5 1200.4 L870.3 1196.9 L873.6 1193.1 L876.0 1188.5 L879.7 1185.0 L883.4 1181.3 L883.9 1176.1 L885.2 1171.2 L887.6 1166.6 L887.9 1161.5 L888.2 1156.5 L889.8 1151.6 L890.5 1146.6 L890.5 1141.5 L892.2 1136.7 L894.4 1132.1 L895.1 1127.0 L897.2 1122.3 L899.6 1117.8 L900.1 1112.7 L900.9 1107.7 L903.1 1103.0 L903.6 1098.0 L903.6 1092.8 L905.4 1088.0 L906.9 1083.2 L907.1 1078.0 L908.6 1073.2 L911.2 1068.9 L913.1 1064.2 L915.5 1059.7 L919.0 1056.0 L921.6 1051.6 L923.7 1046.9 L927.6 1043.5 L930.2 1039.2 L930.8 1034.0 L932.5 1029.2 L936.1 1026.7 L937.1 1021.5 L938.9 1016.8 L941.7 1012.5 L943.3 1007.7 L945.5 1003.1 L948.8 999.2 L951.7 995.0 L953.0 990.1 L954.8 985.4 L956.7 980.7 L957.0 975.6 L958.3 970.7 L960.8 966.1 L961.6 961.1 L963.4 956.3 L967.1 952.6 L969.5 948.2 L971.9 943.7 L975.8 940.3 L979.5 936.8 L981.0 931.8 L983.6 927.4 L987.1 923.6 L988.4 918.5 L989.9 913.7 L993.1 909.6 L994.9 904.9 L996.1 899.9 L998.7 895.5 L1000.7 890.8 L1001.6 885.7 L1004.0 881.2 L1006.7 876.9 L1008.0 871.9 L1010.8 867.7 L1014.8 864.5 L1017.6 860.3 L1020.5 856.0 L1024.8 853.2 L1028.5 849.7 L1032.1 846.1 L1036.7 844.0 L1040.7 841.0 L1043.0 836.3 L1045.7 832.0 L1049.8 829.0 L1053.3 825.3 L1056.8 821.5 L1061.9 820.4 L1066.5 818.3 L1070.2 814.8 L1074.3 811.8 L1078.4 809.1 L1082.5 806.2 L1087.1 804.2 L1092.0 802.5 L1095.5 798.7 L1099.0 794.9 L1103.9 793.4 L1108.5 791.6 L1113.0 789.1 L1117.8 787.6 L1122.6 785.9 L1126.7 782.7 L1131.4 780.9 L1136.3 779.7 L1140.9 777.5 L1145.9 777.1 L1151.0 776.8 L1155.7 775.0 L1160.4 773.0 L1165.6 773.0 L1170.6 773.0 L1175.5 771.4 L1180.6 771.2 L1185.7 770.8 L1190.4 768.7 L1195.2 767.2 L1200.4 767.2 L1205.3 766.0 L1210.2 764.5 L1215.3 764.5 L1220.3 764.0 L1225.1 762.0 L1230.2 762.0 L1235.3 762.0 L1240.2 760.3 L1245.3 760.3 L1250.4 760.3 L1255.4 760.3 L1260.3 759.7 L1265.4 759.4 L1270.3 758.4 L1275.1 756.2 L1280.2 756.2 L1290.3 756.2 L1295.0 755.0 L1300.1 754.2 L1304.7 752.1 L1309.5 750.4 L1314.6 749.9 L1319.4 748.1 L1323.7 745.5 L1328.8 745.5 L1333.9 745.5 L1338.9 745.5 L1344.0 745.5 L1349.0 745.5 L1354.1 745.5 L1359.1 745.5 L1364.2 745.5 L1369.2 745.5 L1374.3 745.5 L1379.4 745.5 L1384.4 745.5 L1389.5 745.5 L1394.5 745.5 L1399.6 745.5 L1404.6 745.5 L1409.7 745.5" stroke="#5faf9e"/>
<path d="M855.9 1275.9 L860.1 1273.2 L863.6 1270.0 L866.9 1266.1 L868.8 1261.3 L871.8 1257.2 L875.9 1254.1 L878.8 1250.0 L882.1 1246.1 L886.1 1242.9 L889.1 1238.9 L891.8 1234.3 L896.9 1233.2 L902.0 1231.8 L904.8 1227.3 L908.5 1223.9 L912.9 1221.6 L917.2 1219.0 L921.8 1216.7 L927.1 1216.1 L929.9 1211.8 L932.0 1207.1 L935.6 1203.4 L938.9 1199.7 L941.4 1195.2 L943.9 1191.0 L946.5 1186.6 L947.4 1181.5 L949.2 1176.7 L952.4 1172.8 L954.7 1168.3 L956.3 1163.5 L958.7 1159.0 L960.1 1154.1 L960.5 1149.0 L962.3 1144.3 L964.4 1139.7 L965.1 1134.6 L966.6 1129.8 L969.2 1125.3 L970.3 1120.3 L970.6 1115.3 L972.3 1110.4 L972.8 1105.4 L972.8 1100.3 L973.6 1095.3 L975.0 1090.4 L975.0 1085.3 L975.0 1080.3 L976.2 1075.3 L976.2 1070.2 L976.2 1065.1 L977.0 1060.2 L977.3 1055.1 L977.3 1050.0 L978.3 1045.1 L979.6 1040.3 L980.7 1035.3 L983.0 1030.8 L985.9 1026.5 L986.6 1021.4 L987.6 1016.5 L990.1 1011.9 L991.3 1007.0 L991.8 1001.9 L994.2 997.3 L995.9 992.6 L996.5 987.5 L997.6 982.6 L999.4 977.8 L999.6 972.7 L1000.4 967.7 L1002.0 962.9 L1002.3 957.8 L1002.3 952.7 L1003.7 947.8 L1004.4 942.8 L1004.4 937.6 L1006.9 933.2 L1009.7 928.9 L1010.7 923.8 L1012.8 919.2 L1015.9 915.1 L1017.7 910.4 L1019.4 905.5 L1022.8 901.7 L1025.4 897.4 L1027.6 892.7 L1032.0 889.9 L1036.2 887.1 L1039.8 883.4 L1044.0 880.8 L1048.8 878.7 L1052.6 875.4 L1056.7 872.3 L1061.6 870.8 L1065.8 868.0 L1069.0 863.9 L1073.3 861.2 L1077.5 858.5 L1081.4 855.2 L1086.0 853.2 L1091.1 851.9 L1094.7 848.4 L1098.4 844.9 L1102.8 842.4 L1106.6 839.1 L1111.2 837.1 L1116.3 836.8 L1121.4 835.9 L1125.5 832.8 L1130.2 830.8 L1135.0 829.1 L1139.2 826.2 L1144.1 824.8 L1149.3 824.8 L1153.5 821.8 L1157.3 818.4 L1162.1 816.7 L1166.9 815.2 L1171.3 812.5 L1176.2 811.4 L1181.3 810.3 L1185.5 807.4 L1190.0 805.1 L1195.0 804.0 L1199.4 801.4 L1203.9 799.0 L1209.0 798.3 L1213.8 796.5 L1217.6 793.1 L1221.9 790.5 L1226.3 788.0 L1230.2 784.7 L1234.7 782.4 L1239.6 780.9 L1243.9 778.2 L1248.4 776.0 L1253.6 775.3 L1258.2 773.2 L1262.4 770.2 L1267.2 768.6 L1271.9 766.8 L1276.1 763.6 L1281.0 762.4 L1286.2 762.0 L1290.7 759.6 L1295.5 757.9 L1300.6 757.9 L1305.7 757.9 L1310.6 757.3 L1315.6 756.4 L1320.4 755.0 L1325.1 753.2 L1330.2 753.0 L1335.3 753.0 L1340.0 750.9 L1344.8 749.4 L1350.0 749.0 L1354.2 746.0 L1359.2 745.5 L1364.2 745.5 L1369.3 745.5 L1374.3 745.5 L1379.4 745.5 L1384.4 745.5 L1389.5 745.5 L1394.5 745.5 L1399.6 745.5 L1404.6 745.5 L1409.7 745.5" stroke="#447ea6"/>
<path d="M855.9 1298.7 L860.6 1296.9 L865.7 1296.3 L870.5 1294.8 L875.1 1292.4 L880.1 1291.6 L885.4 1290.6 L886.9 1285.6 L888.9 1281.0 L892.0 1276.8 L893.1 1271.8 L896.1 1267.7 L900.3 1264.7 L903.8 1261.0 L906.6 1256.7 L910.4 1253.4 L914.9 1251.5 L919.3 1249.0 L924.3 1247.9 L929.3 1246.9 L933.5 1243.8 L937.8 1241.1 L943.0 1240.1 L946.8 1236.7 L950.3 1232.8 L955.1 1230.6 L957.2 1226.0 L957.6 1220.8 L959.9 1216.2 L962.2 1211.7 L963.0 1206.6 L964.5 1201.7 L967.0 1197.3 L968.7 1192.6 L970.4 1187.7 L974.0 1183.9 L976.5 1179.6 L978.2 1174.6 L981.7 1170.9 L985.1 1167.1 L987.1 1162.4 L989.2 1157.8 L991.9 1153.5 L993.5 1148.7 L995.6 1144.1 L999.8 1140.9 L1003.0 1137.0 L1005.7 1132.7 L1009.4 1129.1 L1012.5 1125.1 L1014.2 1120.2 L1017.1 1116.1 L1020.3 1112.1 L1021.9 1107.2 L1023.6 1102.4 L1026.9 1098.4 L1029.1 1093.8 L1030.8 1088.9 L1035.2 1086.0 L1038.9 1082.5 L1040.4 1077.5 L1043.3 1073.3 L1046.5 1069.3 L1048.3 1064.5 L1051.6 1060.6 L1055.9 1057.7 L1059.2 1053.9 L1062.0 1049.6 L1066.0 1046.4 L1069.4 1042.7 L1071.7 1038.0 L1075.2 1034.3 L1079.0 1031.1 L1081.8 1027.0 L1084.6 1022.8 L1088.4 1019.3 L1090.7 1014.7 L1093.1 1010.2 L1096.6 1006.5 L1099.6 1002.4 L1102.0 997.9 L1105.6 994.3 L1110.3 992.5 L1114.2 989.1 L1118.8 986.9 L1123.6 985.1 L1126.7 981.0 L1129.8 976.9 L1133.9 973.8 L1137.1 969.9 L1139.7 965.4 L1144.2 963.1 L1149.1 961.2 L1151.6 956.7 L1154.5 952.6 L1158.0 948.9 L1160.4 944.4 L1163.9 940.7 L1168.2 937.9 L1171.8 934.4 L1174.6 930.1 L1178.0 926.3 L1181.1 922.4 L1183.3 917.7 L1186.4 913.7 L1190.3 910.4 L1193.4 906.4 L1196.8 902.6 L1200.8 899.4 L1203.3 895.0 L1205.3 890.2 L1209.0 886.6 L1212.0 882.6 L1214.7 878.2 L1218.8 875.1 L1222.9 872.1 L1225.9 867.9 L1230.0 864.9 L1234.7 862.7 L1238.5 859.4 L1242.9 856.9 L1247.9 855.8 L1252.7 854.0 L1256.9 851.2 L1261.4 849.1 L1265.7 846.3 L1269.1 842.5 L1273.2 839.4 L1277.6 836.8 L1279.8 832.1 L1282.0 827.5 L1285.5 823.8 L1287.9 819.3 L1289.2 814.3 L1292.3 810.2 L1295.1 805.9 L1296.4 800.9 L1299.0 796.5 L1303.4 793.7 L1306.3 789.5 L1309.6 785.6 L1313.8 782.6 L1316.8 778.5 L1319.6 774.2 L1323.7 771.4 L1328.5 769.9 L1332.8 767.0 L1337.7 765.7 L1342.7 764.3 L1346.7 761.1 L1351.2 758.7 L1356.3 758.4 L1361.2 757.4 L1366.1 756.1 L1371.0 755.5 L1375.6 753.4 L1379.7 750.1 L1384.8 749.5 L1389.9 749.5 L1394.8 748.4 L1399.8 747.8 L1405.0 747.8 L1409.7 745.9" stroke="#524d90"/>
</g>
<path d="M855.1 745.5 H1409.3 V1300.2" fill="none" stroke="#000" stroke-width="2.4"/>
<path d="M855.1 745.5 V1300.2 H1409.3" fill="none" stroke="#000" stroke-width="2.9" stroke-linecap="square"/>
<path d="M855.1 1300.2 h-11.0 M855.1 1300.2 v11.0 M855.1 1161.5 h-11.0 M993.6 1300.2 v11.0 M855.1 1022.9 h-11.0 M1132.2 1300.2 v11.0 M855.1 884.2 h-11.0 M1270.8 1300.2 v11.0 M855.1 745.5 h-11.0 M1409.3 1300.2 v11.0" stroke="#000" stroke-width="2.6" fill="none"/>
<g font-family='"Liberation Sans", sans-serif' font-size="28.4" fill="#000">
<text x="819.7" y="1307.7" text-anchor="end" font-size="28.1">0.00</text>
<text x="854.6" y="1345.8" text-anchor="middle" font-size="28.1">0.00</text>
<text x="819.7" y="1169.0" text-anchor="end" font-size="28.1">0.25</text>
<text x="993.1" y="1345.8" text-anchor="middle" font-size="28.1">0.25</text>
<text x="819.7" y="1030.3" text-anchor="end" font-size="28.1">0.50</text>
<text x="1131.7" y="1345.8" text-anchor="middle" font-size="28.1">0.50</text>
<text x="819.7" y="891.7" text-anchor="end" font-size="28.1">0.75</text>
<text x="1270.2" y="1345.8" text-anchor="middle" font-size="28.1">0.75</text>
<text x="819.7" y="753.0" text-anchor="end" font-size="28.1">1.00</text>
<text x="1408.8" y="1345.8" text-anchor="middle" font-size="28.1">1.00</text>
<text x="1132.5" y="1380.2" text-anchor="middle" font-size="28">1-Specificity</text>
<text transform="translate(744.4 1022.4) rotate(-90)" text-anchor="middle" font-size="28">Sensitivity</text>
<line x1="1441.8" y1="745.5" x2="1490.2" y2="745.5" stroke="#771f3e" stroke-width="2.4"/>
<text x="1513.6" y="753.3" font-size="27.6">Factor 0</text>
<line x1="1441.8" y1="807.1" x2="1490.2" y2="807.1" stroke="#bd3756" stroke-width="2.4"/>
<text x="1513.6" y="814.9" font-size="27.6">Factor 0.1</text>
<line x1="1441.8" y1="868.8" x2="1490.2" y2="868.8" stroke="#da6d50" stroke-width="2.4"/>
<text x="1513.6" y="876.6" font-size="27.6">Factor 0.2</text>
<line x1="1441.8" y1="930.4" x2="1490.2" y2="930.4" stroke="#eaa06e" stroke-width="2.4"/>
<text x="1513.6" y="938.2" font-size="27.6">Factor 0.3</text>
<line x1="1441.8" y1="992.0" x2="1490.2" y2="992.0" stroke="#f0d08a" stroke-width="2.4"/>
<text x="1513.6" y="999.8" font-size="27.6">Factor 0.4</text>
<line x1="1441.8" y1="1053.7" x2="1490.2" y2="1053.7" stroke="#dbe094" stroke-width="2.4"/>
<text x="1513.6" y="1061.5" font-size="27.6">Factor 0.5</text>
<line x1="1441.8" y1="1115.3" x2="1490.2" y2="1115.3" stroke="#9ccca2" stroke-width="2.4"/>
<text x="1513.6" y="1123.1" font-size="27.6">Factor 0.6</text>
<line x1="1441.8" y1="1176.9" x2="1490.2" y2="1176.9" stroke="#5faf9e" stroke-width="2.4"/>
<text x="1513.6" y="1184.7" font-size="27.6">Factor 0.7</text>
<line x1="1441.8" y1="1238.6" x2="1490.2" y2="1238.6" stroke="#447ea6" stroke-width="2.4"/>
<text x="1513.6" y="1246.4" font-size="27.6">Factor 0.8</text>
<line x1="1441.8" y1="1300.2" x2="1490.2" y2="1300.2" stroke="#524d90" stroke-width="2.4"/>
<text x="1513.6" y="1308.0" font-size="27.6">Factor 0.9</text>
<text x="701.5" y="698.1">f</text>
</g>
</g>
<g>
<line x1="853.0" y1="1961.7" x2="1407.7" y2="1406.6" stroke="#b7b7b7" stroke-width="2.5" stroke-dasharray="6.5 4.2 2.2 4.2" stroke-dashoffset="-4"/>
<g fill="none" stroke-width="2.6" stroke-linejoin="round" stroke-linecap="butt">
<path d="M853.3 1774.2 L853.9 1769.2 L855.8 1764.5 L857.0 1759.5 L857.0 1754.4 L858.1 1749.5 L859.3 1744.6 L859.3 1739.5 L859.8 1734.5 L861.5 1729.6 L861.6 1724.6 L861.6 1719.5 L863.4 1714.7 L864.1 1709.7 L864.1 1704.5 L865.0 1699.6 L866.2 1694.7 L866.2 1689.6 L866.8 1684.6 L868.5 1679.8 L868.5 1674.7 L868.5 1669.6 L868.7 1664.6 L868.9 1659.6 L868.9 1654.5 L869.1 1649.5 L869.5 1644.5 L869.5 1639.4 L869.5 1634.4 L870.5 1629.4 L870.5 1624.3 L870.5 1619.3 L871.1 1614.3 L871.1 1609.3 L871.1 1604.2 L871.5 1599.2 L872.2 1594.2 L872.2 1589.1 L872.2 1584.1 L872.9 1579.1 L872.9 1574.1 L872.9 1569.0 L873.9 1564.1 L873.9 1559.0 L873.9 1553.9 L875.2 1549.0 L875.9 1544.1 L875.9 1538.9 L876.8 1534.0 L878.1 1529.1 L878.1 1524.0 L878.4 1519.0 L879.9 1514.1 L879.9 1509.0 L879.9 1503.9 L882.4 1499.4 L883.4 1494.4 L883.5 1489.3 L885.9 1484.8 L889.6 1481.4 L892.8 1477.4 L896.9 1474.5 L901.6 1472.5 L905.6 1469.4 L910.2 1467.2 L915.3 1466.5 L919.9 1464.4 L923.7 1461.1 L928.0 1458.6 L931.5 1455.1 L935.6 1452.1 L940.2 1450.1 L944.9 1448.3 L948.9 1445.1 L953.5 1443.0 L958.7 1442.6 L963.3 1440.4 L967.9 1438.3 L973.0 1437.9 L978.0 1436.9 L982.4 1434.3 L987.2 1432.7 L992.3 1431.8 L996.6 1428.9 L1001.4 1427.3 L1006.6 1427.3 L1011.4 1425.9 L1016.2 1424.2 L1021.3 1424.2 L1026.3 1423.8 L1031.2 1422.4 L1036.3 1422.4 L1041.4 1422.4 L1046.3 1421.5 L1051.3 1420.9 L1056.4 1420.9 L1061.4 1420.3 L1066.2 1418.8 L1071.4 1418.8 L1076.2 1417.6 L1080.9 1415.4 L1086.0 1415.2 L1091.0 1414.8 L1095.8 1412.9 L1100.8 1412.3 L1106.0 1412.3 L1110.8 1411.0 L1115.7 1409.8 L1120.9 1409.8 L1125.8 1409.4 L1130.8 1408.2 L1135.8 1408.2 L1140.8 1408.2 L1145.9 1407.4 L1150.9 1407.4 L1155.9 1407.4 L1161.0 1407.4 L1166.0 1407.4 L1171.0 1407.4 L1176.1 1407.4 L1181.1 1407.3 L1186.1 1407.3 L1191.2 1407.3 L1196.2 1407.0 L1201.2 1407.0 L1211.3 1407.0 L1216.4 1407.0 L1221.4 1407.0 L1226.4 1407.0 L1231.5 1406.6 L1236.5 1406.6 L1246.6 1406.6 L1251.6 1406.6 L1261.7 1406.6 L1266.7 1406.6 L1276.8 1406.6 L1281.8 1406.6 L1286.9 1406.6 L1291.9 1406.6 L1296.9 1406.6 L1302.0 1406.6 L1307.0 1406.6 L1312.0 1406.6 L1317.1 1406.6 L1322.1 1406.6 L1327.1 1406.6 L1332.2 1406.6 L1337.2 1406.6 L1342.2 1406.6 L1347.3 1406.6 L1352.3 1406.6 L1357.3 1406.6 L1362.4 1406.6 L1367.4 1406.6 L1372.5 1406.6 L1377.5 1406.6 L1382.5 1406.6 L1387.6 1406.6 L1392.6 1406.6 L1397.6 1406.6 L1402.7 1406.6 L1407.7 1406.6" stroke="#771f3e"/>
<path d="M853.3 1773.2 L854.2 1768.2 L856.6 1763.6 L857.4 1758.6 L857.6 1753.5 L859.3 1748.7 L860.0 1743.7 L860.0 1738.5 L861.0 1733.6 L862.3 1728.7 L862.3 1723.5 L862.8 1718.5 L864.6 1713.7 L864.6 1708.5 L864.6 1703.5 L866.4 1698.6 L867.0 1693.6 L867.0 1688.5 L868.6 1683.6 L869.6 1678.6 L869.6 1673.5 L869.6 1668.5 L869.9 1663.4 L869.9 1658.4 L870.1 1648.3 L870.1 1643.2 L870.1 1633.1 L870.1 1628.1 L870.1 1623.0 L870.1 1617.9 L871.0 1612.9 L871.0 1607.8 L871.0 1602.8 L871.8 1597.8 L871.8 1592.7 L871.8 1587.6 L872.1 1582.6 L872.4 1577.6 L872.4 1567.4 L872.5 1562.4 L872.5 1557.3 L872.6 1552.3 L874.2 1547.4 L874.2 1542.3 L874.3 1537.2 L876.1 1532.4 L876.9 1527.4 L876.9 1522.2 L878.4 1517.4 L879.9 1512.6 L880.4 1507.4 L882.9 1503.0 L886.4 1499.1 L888.4 1494.5 L891.0 1490.1 L894.9 1486.7 L898.3 1483.1 L901.7 1479.3 L906.3 1477.1 L910.7 1474.5 L914.5 1471.2 L919.1 1468.9 L923.9 1467.2 L928.0 1464.2 L931.9 1461.0 L936.1 1458.3 L939.8 1455.0 L944.0 1452.1 L949.1 1451.0 L953.7 1449.0 L957.9 1445.9 L962.8 1444.6 L967.8 1443.5 L972.3 1441.0 L977.0 1439.4 L982.1 1438.6 L986.7 1436.3 L990.9 1433.5 L995.9 1432.1 L1000.5 1430.2 L1005.0 1427.6 L1010.1 1427.2 L1015.2 1426.5 L1019.8 1424.2 L1024.7 1423.0 L1029.9 1423.0 L1034.8 1421.7 L1039.6 1420.2 L1044.8 1420.1 L1049.6 1418.6 L1054.2 1416.3 L1059.3 1415.8 L1064.4 1415.7 L1069.3 1414.0 L1074.4 1413.8 L1079.5 1413.8 L1084.5 1413.5 L1089.5 1412.6 L1094.6 1412.6 L1099.6 1412.6 L1104.6 1411.7 L1109.7 1411.7 L1114.7 1411.3 L1119.6 1409.9 L1124.7 1409.6 L1129.8 1409.6 L1134.8 1408.5 L1139.7 1407.6 L1144.8 1407.6 L1149.9 1407.6 L1154.9 1407.2 L1160.0 1407.2 L1165.1 1407.2 L1170.1 1407.1 L1175.2 1407.1 L1185.3 1407.1 L1190.3 1407.1 L1195.4 1407.1 L1200.4 1407.1 L1205.5 1406.9 L1210.5 1406.9 L1215.6 1406.9 L1220.7 1406.9 L1225.7 1406.9 L1235.8 1406.9 L1240.9 1406.9 L1245.9 1406.9 L1251.0 1406.9 L1256.0 1406.7 L1266.2 1406.7 L1271.2 1406.6 L1276.3 1406.6 L1286.4 1406.6 L1291.4 1406.6 L1301.5 1406.6 L1306.6 1406.6 L1311.7 1406.6 L1316.7 1406.6 L1321.8 1406.6 L1326.8 1406.6 L1331.9 1406.6 L1336.9 1406.6 L1342.0 1406.6 L1352.1 1406.6 L1357.1 1406.6 L1362.2 1406.6 L1367.3 1406.6 L1372.3 1406.6 L1377.4 1406.6 L1382.4 1406.6 L1387.5 1406.6 L1392.5 1406.6 L1397.6 1406.6 L1402.6 1406.6 L1407.7 1406.6" stroke="#bd3756"/>
<path d="M853.3 1762.3 L854.3 1757.4 L855.9 1752.6 L855.9 1747.4 L856.6 1742.5 L858.4 1737.6 L858.4 1732.5 L858.4 1727.5 L859.9 1722.6 L860.4 1717.6 L860.4 1712.5 L861.5 1707.6 L862.4 1702.6 L862.4 1697.5 L862.9 1692.5 L864.6 1687.7 L864.6 1682.6 L864.6 1677.5 L866.3 1672.7 L866.3 1667.6 L866.3 1662.5 L867.2 1657.6 L867.8 1652.6 L867.8 1647.5 L868.1 1642.5 L869.6 1637.6 L869.6 1632.5 L869.6 1627.4 L870.6 1622.5 L870.6 1617.4 L870.6 1612.4 L871.0 1607.4 L871.7 1602.4 L871.7 1597.3 L871.7 1592.3 L872.7 1587.3 L872.7 1582.2 L872.8 1577.2 L874.8 1572.4 L874.8 1567.3 L875.2 1562.3 L876.7 1557.4 L877.4 1552.4 L877.4 1547.4 L877.6 1542.4 L878.3 1537.3 L878.3 1532.3 L878.3 1527.3 L878.5 1522.3 L878.5 1517.2 L878.5 1512.1 L880.0 1507.4 L881.9 1502.8 L883.3 1497.9 L886.2 1493.7 L888.8 1489.4 L890.2 1484.4 L894.0 1480.9 L898.5 1478.5 L901.9 1474.6 L905.7 1471.3 L910.7 1470.0 L915.2 1467.7 L919.6 1465.2 L924.7 1464.4 L929.4 1462.5 L933.2 1459.1 L937.4 1456.4 L942.3 1455.1 L946.6 1452.2 L951.0 1449.9 L955.8 1448.2 L960.0 1445.3 L963.9 1442.1 L968.7 1440.4 L973.2 1438.1 L977.2 1434.9 L982.2 1433.7 L987.1 1432.6 L991.8 1430.6 L996.8 1429.6 L1001.9 1429.6 L1006.8 1428.6 L1011.7 1427.2 L1016.9 1427.2 L1021.8 1427.2 L1026.7 1425.7 L1031.8 1425.5 L1036.8 1425.1 L1041.6 1423.5 L1046.6 1422.8 L1051.8 1422.8 L1056.6 1421.7 L1061.6 1420.5 L1066.7 1420.5 L1071.6 1419.8 L1076.4 1418.0 L1081.5 1417.8 L1086.5 1417.3 L1091.3 1415.5 L1096.2 1414.6 L1101.4 1414.6 L1106.1 1412.6 L1110.9 1411.3 L1116.0 1411.2 L1121.0 1410.3 L1125.9 1409.1 L1131.0 1409.1 L1136.0 1409.1 L1141.0 1407.8 L1146.0 1407.8 L1151.0 1407.8 L1156.1 1407.6 L1161.1 1407.5 L1166.1 1407.5 L1171.2 1407.5 L1176.2 1407.1 L1181.2 1407.1 L1186.3 1407.1 L1191.3 1407.0 L1196.3 1407.0 L1206.4 1407.0 L1211.4 1407.0 L1216.5 1407.0 L1221.5 1407.0 L1226.5 1406.9 L1231.6 1406.9 L1236.6 1406.9 L1241.6 1406.9 L1246.7 1406.9 L1256.7 1406.9 L1261.8 1406.9 L1266.8 1406.9 L1271.8 1406.9 L1276.9 1406.6 L1281.9 1406.6 L1286.9 1406.6 L1291.9 1406.6 L1297.0 1406.6 L1302.0 1406.6 L1307.0 1406.6 L1312.1 1406.6 L1322.1 1406.6 L1327.2 1406.6 L1332.2 1406.6 L1337.2 1406.6 L1342.3 1406.6 L1347.3 1406.6 L1352.3 1406.6 L1357.4 1406.6 L1362.4 1406.6 L1367.4 1406.6 L1372.5 1406.6 L1377.5 1406.6 L1382.5 1406.6 L1387.6 1406.6 L1392.6 1406.6 L1397.6 1406.6 L1402.7 1406.6 L1407.7 1406.6" stroke="#da6d50"/>
<path d="M853.3 1752.4 L854.5 1747.4 L855.0 1742.4 L855.0 1737.3 L856.2 1732.4 L857.1 1727.4 L857.1 1722.2 L857.4 1717.2 L858.9 1712.3 L858.9 1707.2 L858.9 1702.1 L860.0 1697.1 L860.0 1692.1 L860.0 1687.0 L860.6 1682.0 L861.8 1677.1 L861.8 1671.9 L862.7 1667.0 L864.6 1662.2 L864.6 1657.0 L865.0 1652.0 L866.8 1647.2 L867.3 1642.1 L867.6 1637.0 L869.1 1632.1 L869.8 1627.1 L869.8 1622.0 L870.0 1617.0 L871.0 1612.0 L871.0 1606.9 L871.0 1601.8 L872.6 1596.9 L872.6 1591.8 L872.6 1586.7 L874.2 1581.8 L874.6 1576.8 L874.6 1571.7 L876.0 1566.8 L877.5 1561.9 L877.5 1556.7 L877.9 1551.7 L880.0 1547.0 L880.0 1541.8 L880.4 1536.7 L882.7 1532.1 L883.5 1527.1 L884.2 1522.0 L886.6 1517.5 L887.8 1512.6 L887.8 1507.4 L888.9 1502.5 L891.6 1498.1 L892.7 1493.1 L894.7 1488.4 L898.2 1484.7 L901.3 1480.8 L904.9 1477.2 L909.6 1475.2 L914.2 1473.2 L918.5 1470.3 L923.3 1468.8 L928.4 1467.7 L932.7 1464.9 L937.0 1462.5 L941.8 1460.5 L944.9 1456.5 L948.8 1453.1 L953.7 1451.5 L958.1 1449.0 L962.1 1445.7 L967.0 1444.3 L972.0 1443.3 L976.4 1440.6 L981.3 1439.1 L986.4 1438.6 L991.1 1436.7 L995.7 1434.5 L1000.7 1433.4 L1005.4 1431.6 L1009.9 1429.1 L1014.9 1428.2 L1020.0 1427.7 L1024.7 1425.5 L1029.7 1424.8 L1034.8 1424.8 L1039.7 1423.6 L1044.7 1422.6 L1049.8 1422.6 L1054.9 1422.6 L1059.9 1421.4 L1065.0 1421.4 L1070.1 1421.4 L1075.0 1420.2 L1080.0 1419.9 L1085.1 1419.7 L1090.0 1418.3 L1094.9 1417.2 L1100.1 1417.2 L1104.9 1415.9 L1109.8 1414.2 L1115.0 1414.2 L1120.0 1413.9 L1124.8 1412.1 L1129.9 1411.7 L1135.0 1411.7 L1139.9 1410.2 L1144.8 1409.1 L1149.9 1409.1 L1154.9 1408.1 L1159.9 1407.5 L1165.0 1407.5 L1170.0 1407.5 L1175.1 1407.2 L1180.1 1407.2 L1185.2 1407.2 L1190.2 1407.2 L1195.3 1407.2 L1200.4 1407.2 L1205.4 1407.2 L1210.5 1407.2 L1215.5 1407.2 L1220.6 1407.2 L1225.6 1406.8 L1230.7 1406.8 L1240.8 1406.8 L1245.9 1406.8 L1250.9 1406.8 L1256.0 1406.8 L1261.0 1406.8 L1266.1 1406.8 L1271.2 1406.8 L1276.2 1406.6 L1281.3 1406.6 L1286.3 1406.6 L1291.4 1406.6 L1296.4 1406.6 L1306.6 1406.6 L1311.6 1406.6 L1316.7 1406.6 L1321.7 1406.6 L1326.8 1406.6 L1331.8 1406.6 L1336.9 1406.6 L1342.0 1406.6 L1347.0 1406.6 L1352.1 1406.6 L1357.1 1406.6 L1362.2 1406.6 L1367.2 1406.6 L1372.3 1406.6 L1377.4 1406.6 L1382.4 1406.6 L1387.5 1406.6 L1392.5 1406.6 L1397.6 1406.6 L1402.6 1406.6 L1407.7 1406.6" stroke="#eaa06e"/>
<path d="M853.3 1758.3 L854.4 1753.4 L854.5 1748.3 L854.8 1743.2 L856.6 1738.4 L856.8 1733.3 L856.8 1728.2 L857.8 1723.3 L858.7 1718.3 L858.7 1713.2 L858.9 1708.2 L860.2 1703.2 L860.2 1698.1 L860.2 1693.0 L861.1 1688.1 L861.1 1683.0 L861.1 1677.8 L862.5 1673.0 L863.4 1668.0 L863.4 1662.9 L864.6 1658.0 L866.0 1653.1 L866.0 1648.0 L866.7 1643.0 L868.6 1638.2 L868.6 1633.1 L868.6 1628.0 L869.8 1623.0 L870.3 1618.0 L870.3 1612.9 L870.9 1607.9 L872.0 1603.0 L872.0 1597.8 L872.6 1592.9 L874.8 1588.1 L874.8 1583.0 L875.0 1577.9 L877.2 1573.2 L877.9 1568.1 L877.9 1563.0 L879.1 1558.1 L880.2 1553.1 L880.2 1548.0 L880.5 1543.0 L882.1 1538.1 L882.3 1533.0 L882.9 1528.0 L885.2 1523.4 L886.9 1518.7 L887.1 1513.5 L889.2 1508.8 L890.9 1504.1 L891.3 1498.8 L894.6 1494.8 L898.5 1491.5 L901.1 1487.0 L904.6 1483.4 L909.3 1481.3 L913.4 1478.3 L917.4 1475.2 L922.4 1473.9 L927.3 1472.7 L931.7 1470.0 L936.5 1468.6 L941.4 1467.0 L945.4 1463.8 L948.9 1460.3 L952.6 1456.9 L955.7 1453.0 L959.0 1449.0 L963.8 1447.0 L968.3 1444.9 L972.6 1441.9 L977.6 1441.0 L982.7 1440.4 L987.3 1438.1 L992.3 1437.1 L997.4 1436.7 L1002.0 1434.7 L1006.8 1433.0 L1011.9 1432.6 L1016.8 1431.5 L1021.6 1429.5 L1026.7 1429.3 L1031.7 1428.8 L1036.6 1426.9 L1041.6 1426.4 L1046.7 1426.4 L1051.6 1425.1 L1056.5 1423.9 L1061.7 1423.9 L1066.6 1423.1 L1071.6 1421.9 L1076.7 1421.9 L1081.8 1421.9 L1086.6 1420.3 L1091.6 1419.7 L1096.7 1419.2 L1101.3 1417.1 L1106.1 1415.3 L1111.3 1415.3 L1116.2 1414.9 L1121.2 1413.8 L1126.3 1413.8 L1131.3 1413.3 L1136.2 1411.9 L1141.3 1411.9 L1146.4 1411.8 L1151.2 1409.9 L1156.2 1409.1 L1161.4 1409.1 L1165.3 1407.1 L1170.3 1406.6 L1175.4 1406.6 L1180.4 1406.6 L1185.5 1406.6 L1190.5 1406.6 L1195.6 1406.6 L1200.6 1406.6 L1205.7 1406.6 L1210.7 1406.6 L1215.8 1406.6 L1220.8 1406.6 L1225.9 1406.6 L1230.9 1406.6 L1236.0 1406.6 L1241.0 1406.6 L1246.1 1406.6 L1251.1 1406.6 L1256.2 1406.6 L1261.2 1406.6 L1266.3 1406.6 L1271.3 1406.6 L1276.4 1406.6 L1281.4 1406.6 L1286.5 1406.6 L1291.5 1406.6 L1296.6 1406.6 L1301.6 1406.6 L1306.7 1406.6 L1311.7 1406.6 L1316.8 1406.6 L1321.8 1406.6 L1326.9 1406.6 L1331.9 1406.6 L1337.0 1406.6 L1342.0 1406.6 L1347.1 1406.6 L1352.1 1406.6 L1357.2 1406.6 L1362.2 1406.6 L1367.3 1406.6 L1372.3 1406.6 L1377.4 1406.6 L1382.4 1406.6 L1387.5 1406.6 L1392.5 1406.6 L1397.6 1406.6 L1402.6 1406.6 L1407.7 1406.6" stroke="#f0d08a"/>
<path d="M853.3 1778.2 L854.6 1773.3 L854.6 1768.1 L855.2 1763.2 L856.6 1758.3 L856.6 1753.2 L856.8 1748.2 L858.3 1743.3 L858.3 1738.2 L858.3 1733.1 L859.4 1728.2 L860.0 1723.2 L860.0 1718.1 L860.1 1713.1 L861.4 1708.1 L861.4 1703.0 L861.4 1698.0 L862.2 1693.0 L862.2 1687.9 L862.2 1682.9 L863.1 1677.9 L863.6 1672.9 L863.6 1667.8 L864.6 1662.9 L865.9 1658.0 L865.9 1652.8 L866.1 1647.9 L867.5 1643.0 L867.6 1637.9 L867.7 1632.8 L869.3 1627.9 L869.7 1622.9 L869.7 1617.8 L870.6 1612.9 L871.5 1607.9 L871.5 1602.8 L872.2 1597.8 L873.9 1593.0 L874.0 1587.9 L874.5 1582.9 L876.3 1578.1 L877.1 1573.1 L877.4 1568.0 L879.1 1563.3 L880.3 1558.4 L880.3 1553.2 L881.9 1548.4 L884.0 1543.7 L884.3 1538.6 L885.3 1533.6 L887.9 1529.2 L889.0 1524.3 L890.9 1519.6 L893.8 1515.5 L895.1 1510.5 L895.1 1505.4 L896.8 1500.6 L899.7 1496.6 L901.8 1491.9 L905.3 1488.2 L909.6 1485.5 L913.0 1481.8 L916.9 1478.5 L921.6 1476.6 L926.1 1474.4 L930.6 1472.0 L935.5 1471.0 L940.4 1469.5 L944.4 1466.1 L949.0 1464.2 L953.8 1462.4 L957.4 1458.8 L961.2 1455.5 L966.2 1454.1 L970.7 1451.8 L974.9 1448.9 L980.0 1447.9 L984.9 1446.7 L989.4 1444.2 L994.3 1442.9 L999.3 1442.3 L1004.0 1440.4 L1008.7 1438.6 L1013.9 1438.1 L1018.2 1435.3 L1022.4 1432.4 L1027.4 1431.4 L1032.1 1429.7 L1036.7 1427.4 L1041.8 1426.8 L1046.8 1426.6 L1051.7 1425.0 L1056.6 1423.7 L1061.7 1423.7 L1066.7 1423.0 L1071.6 1421.7 L1076.7 1421.7 L1081.8 1421.7 L1086.7 1420.5 L1091.7 1420.5 L1096.8 1420.2 L1101.5 1418.1 L1106.6 1417.6 L1111.7 1417.6 L1116.7 1417.3 L1121.6 1416.0 L1126.7 1416.0 L1131.7 1415.9 L1136.5 1414.0 L1141.6 1413.8 L1146.6 1413.8 L1151.5 1412.0 L1156.4 1411.2 L1161.5 1410.7 L1166.2 1409.0 L1171.1 1407.7 L1176.0 1407.6 L1181.0 1407.3 L1186.0 1406.6 L1191.1 1406.6 L1196.1 1406.6 L1201.1 1406.6 L1206.2 1406.6 L1211.2 1406.6 L1216.3 1406.6 L1221.3 1406.6 L1226.3 1406.6 L1231.4 1406.6 L1236.4 1406.6 L1241.4 1406.6 L1246.5 1406.6 L1251.5 1406.6 L1256.6 1406.6 L1261.6 1406.6 L1266.6 1406.6 L1271.7 1406.6 L1276.7 1406.6 L1281.8 1406.6 L1286.8 1406.6 L1291.8 1406.6 L1296.9 1406.6 L1301.9 1406.6 L1306.9 1406.6 L1312.0 1406.6 L1317.0 1406.6 L1322.1 1406.6 L1327.1 1406.6 L1332.1 1406.6 L1337.2 1406.6 L1342.2 1406.6 L1347.2 1406.6 L1352.3 1406.6 L1357.3 1406.6 L1362.4 1406.6 L1367.4 1406.6 L1372.4 1406.6 L1377.5 1406.6 L1382.5 1406.6 L1387.5 1406.6 L1392.6 1406.6 L1397.6 1406.6 L1402.7 1406.6 L1407.7 1406.6" stroke="#dbe094"/>
<path d="M853.3 1798.0 L854.1 1793.0 L854.1 1787.9 L855.4 1783.0 L856.3 1778.0 L856.3 1772.9 L857.0 1767.9 L858.0 1763.0 L858.0 1757.9 L858.0 1752.8 L859.4 1747.9 L859.4 1742.8 L859.4 1737.7 L860.1 1732.7 L860.6 1727.7 L860.6 1722.6 L860.7 1717.6 L861.8 1712.6 L861.8 1707.5 L861.8 1702.4 L862.5 1697.5 L862.5 1692.4 L862.5 1687.3 L863.2 1682.3 L863.5 1677.3 L863.5 1672.2 L864.4 1667.2 L865.2 1662.2 L865.2 1657.1 L865.5 1652.1 L867.0 1647.2 L867.0 1642.1 L867.0 1637.0 L868.8 1632.2 L869.1 1627.1 L869.1 1622.0 L870.3 1617.1 L871.4 1612.1 L871.4 1606.9 L872.0 1602.0 L873.5 1597.2 L873.7 1592.1 L874.3 1587.0 L876.4 1582.3 L877.2 1577.3 L877.8 1572.3 L879.7 1567.5 L881.0 1562.6 L881.0 1557.5 L882.1 1552.6 L883.9 1547.7 L883.9 1542.6 L884.3 1537.6 L886.1 1532.8 L886.8 1527.7 L887.5 1522.6 L891.0 1518.7 L892.4 1513.8 L893.0 1508.6 L895.4 1504.1 L898.0 1499.8 L900.3 1495.4 L904.1 1492.0 L908.8 1489.9 L912.7 1486.8 L916.9 1483.9 L921.9 1482.4 L926.2 1479.8 L930.3 1476.7 L935.3 1475.6 L940.2 1474.5 L945.0 1472.9 L949.6 1471.1 L954.3 1469.3 L958.3 1466.1 L962.7 1463.6 L967.7 1462.1 L971.6 1458.9 L975.3 1455.3 L980.2 1453.8 L985.0 1452.0 L989.2 1449.0 L994.0 1447.5 L998.9 1446.0 L1003.2 1443.2 L1007.7 1441.0 L1012.9 1440.5 L1017.4 1438.0 L1021.7 1435.2 L1026.8 1434.3 L1031.7 1433.4 L1036.5 1431.5 L1041.5 1430.8 L1046.6 1430.6 L1051.3 1428.5 L1056.3 1427.7 L1061.5 1427.7 L1066.4 1427.1 L1071.3 1425.7 L1076.4 1425.4 L1081.3 1424.1 L1086.0 1421.9 L1091.1 1421.9 L1096.1 1421.2 L1100.5 1418.4 L1105.5 1417.4 L1110.7 1417.4 L1115.6 1417.1 L1120.6 1416.2 L1125.8 1416.2 L1130.8 1416.2 L1135.6 1414.2 L1140.7 1414.2 L1145.8 1414.2 L1150.7 1412.6 L1155.7 1412.4 L1160.9 1412.4 L1165.6 1410.5 L1170.5 1409.1 L1175.7 1409.1 L1180.6 1408.3 L1185.4 1406.6 L1190.5 1406.6 L1195.6 1406.6 L1200.6 1406.6 L1205.7 1406.6 L1210.7 1406.6 L1215.8 1406.6 L1220.8 1406.6 L1225.9 1406.6 L1230.9 1406.6 L1236.0 1406.6 L1241.0 1406.6 L1246.1 1406.6 L1251.1 1406.6 L1256.2 1406.6 L1261.2 1406.6 L1266.3 1406.6 L1271.3 1406.6 L1276.4 1406.6 L1281.4 1406.6 L1286.5 1406.6 L1291.5 1406.6 L1296.6 1406.6 L1301.6 1406.6 L1306.7 1406.6 L1311.7 1406.6 L1316.8 1406.6 L1321.8 1406.6 L1326.9 1406.6 L1331.9 1406.6 L1337.0 1406.6 L1342.0 1406.6 L1347.1 1406.6 L1352.1 1406.6 L1357.2 1406.6 L1362.2 1406.6 L1367.3 1406.6 L1372.3 1406.6 L1377.4 1406.6 L1382.4 1406.6 L1387.5 1406.6 L1392.6 1406.6 L1397.6 1406.6 L1402.6 1406.6 L1407.7 1406.6" stroke="#9ccca2"/>
<path d="M853.3 1849.6 L854.0 1844.6 L855.2 1839.7 L857.3 1834.9 L857.3 1829.8 L857.3 1824.7 L857.9 1819.8 L858.4 1814.7 L858.4 1809.6 L858.4 1804.6 L859.2 1799.6 L859.2 1794.5 L859.2 1789.5 L860.0 1784.5 L860.0 1779.4 L860.0 1774.4 L860.4 1769.4 L860.6 1764.3 L860.6 1759.3 L860.9 1754.2 L861.6 1749.2 L861.6 1744.1 L861.6 1739.1 L862.7 1734.1 L862.7 1729.0 L862.7 1724.0 L863.3 1719.0 L863.3 1713.9 L863.3 1708.9 L863.5 1703.9 L864.0 1698.8 L864.0 1693.7 L864.0 1688.7 L864.8 1683.7 L864.8 1678.6 L864.8 1673.6 L865.3 1668.6 L865.3 1663.5 L865.3 1658.4 L865.9 1653.5 L866.3 1648.5 L866.3 1643.4 L867.2 1638.4 L868.7 1633.5 L868.7 1628.4 L869.0 1623.4 L870.7 1618.5 L871.0 1613.5 L871.4 1608.4 L873.2 1603.6 L874.5 1598.8 L874.8 1593.6 L876.5 1588.9 L878.4 1584.2 L878.9 1579.0 L880.4 1574.2 L883.1 1569.8 L883.6 1564.7 L883.9 1559.6 L886.3 1554.9 L887.1 1549.9 L887.1 1544.8 L888.7 1540.0 L890.2 1535.1 L890.2 1530.0 L891.2 1525.0 L894.5 1521.0 L895.4 1515.9 L895.9 1510.9 L897.9 1506.2 L898.8 1501.2 L900.0 1496.4 L903.9 1492.9 L908.0 1490.0 L911.5 1486.2 L915.9 1483.7 L920.7 1482.0 L924.7 1478.9 L929.2 1476.5 L934.3 1475.7 L939.0 1473.9 L943.8 1472.5 L948.9 1472.0 L953.6 1470.3 L957.7 1467.1 L962.8 1466.1 L967.8 1465.3 L972.3 1463.0 L976.9 1460.9 L982.0 1460.0 L986.3 1457.2 L990.8 1454.7 L996.0 1454.6 L1000.9 1453.3 L1005.6 1451.3 L1010.6 1450.5 L1015.7 1449.8 L1020.1 1447.2 L1024.8 1445.4 L1029.9 1444.7 L1034.5 1442.6 L1039.0 1440.2 L1044.0 1439.1 L1048.4 1436.6 L1052.9 1434.1 L1058.0 1433.9 L1063.1 1433.3 L1067.6 1430.9 L1072.6 1429.9 L1077.7 1429.9 L1082.6 1428.8 L1087.6 1428.0 L1092.8 1428.0 L1097.7 1427.5 L1102.5 1425.7 L1107.6 1425.3 L1112.5 1424.2 L1117.3 1422.3 L1122.4 1422.3 L1127.5 1422.3 L1132.3 1420.9 L1136.9 1419.1 L1142.0 1418.5 L1146.4 1417.1 L1151.1 1414.9 L1156.2 1414.9 L1161.3 1414.5 L1166.0 1412.6 L1171.1 1412.2 L1176.1 1411.4 L1180.8 1409.3 L1185.8 1408.6 L1190.9 1408.6 L1195.8 1407.6 L1200.8 1406.6 L1205.9 1406.6 L1210.9 1406.6 L1216.0 1406.6 L1221.0 1406.6 L1226.1 1406.6 L1231.1 1406.6 L1236.2 1406.6 L1241.2 1406.6 L1246.3 1406.6 L1251.3 1406.6 L1256.3 1406.6 L1261.4 1406.6 L1266.4 1406.6 L1271.5 1406.6 L1276.5 1406.6 L1281.6 1406.6 L1286.6 1406.6 L1291.7 1406.6 L1296.7 1406.6 L1301.8 1406.6 L1306.8 1406.6 L1311.8 1406.6 L1316.9 1406.6 L1321.9 1406.6 L1327.0 1406.6 L1332.0 1406.6 L1337.1 1406.6 L1342.1 1406.6 L1347.2 1406.6 L1352.2 1406.6 L1357.3 1406.6 L1362.3 1406.6 L1367.3 1406.6 L1372.4 1406.6 L1377.4 1406.6 L1382.5 1406.6 L1387.5 1406.6 L1392.6 1406.6 L1397.6 1406.6 L1402.7 1406.6 L1407.7 1406.6" stroke="#5faf9e"/>
<path d="M853.3 1845.6 L854.0 1840.6 L855.6 1835.8 L857.6 1831.1 L857.6 1825.9 L857.6 1820.9 L858.6 1816.0 L858.6 1810.9 L858.6 1805.8 L859.3 1800.9 L859.3 1795.8 L859.3 1790.8 L859.6 1785.8 L860.5 1780.8 L860.5 1775.7 L860.5 1770.7 L861.3 1765.7 L861.3 1760.7 L861.3 1755.6 L862.0 1750.6 L862.0 1745.6 L862.0 1740.5 L862.3 1735.6 L862.8 1730.5 L862.8 1725.5 L862.8 1720.5 L863.8 1715.5 L863.8 1710.4 L863.8 1705.4 L864.2 1700.4 L864.2 1695.4 L864.2 1690.3 L864.9 1685.3 L865.2 1680.3 L865.2 1675.2 L865.2 1670.2 L866.1 1665.2 L866.1 1660.2 L866.1 1655.1 L866.7 1650.2 L866.7 1645.1 L866.7 1640.0 L868.2 1635.2 L868.8 1630.2 L868.8 1625.1 L869.9 1620.2 L871.4 1615.3 L871.4 1610.2 L872.0 1605.2 L874.3 1600.6 L874.8 1595.6 L875.4 1590.5 L877.8 1585.9 L879.0 1581.1 L879.5 1576.0 L881.6 1571.3 L883.2 1566.6 L883.2 1561.4 L884.2 1556.5 L885.9 1551.7 L885.9 1546.6 L886.3 1541.5 L888.3 1536.8 L888.9 1531.8 L889.0 1526.6 L891.6 1522.2 L894.1 1517.8 L894.3 1512.7 L895.4 1507.8 L897.4 1503.1 L898.0 1498.0 L901.1 1494.0 L905.5 1491.3 L909.2 1488.0 L913.0 1484.6 L917.8 1482.7 L922.2 1480.3 L926.3 1477.3 L931.2 1475.9 L936.1 1475.0 L940.8 1473.1 L945.7 1472.0 L950.7 1471.1 L954.9 1468.2 L959.1 1465.4 L964.2 1464.3 L968.7 1462.0 L972.1 1458.1 L976.8 1456.0 L981.5 1454.3 L985.8 1451.5 L990.6 1450.1 L995.7 1449.5 L1000.3 1447.2 L1004.8 1445.0 L1010.0 1444.6 L1014.8 1443.2 L1019.5 1441.1 L1024.5 1440.6 L1029.6 1440.0 L1033.9 1437.1 L1038.7 1435.4 L1043.7 1434.9 L1048.6 1433.5 L1053.5 1432.3 L1058.6 1432.1 L1063.4 1430.7 L1068.2 1428.8 L1073.3 1428.8 L1078.4 1428.8 L1083.3 1427.8 L1088.3 1427.7 L1093.4 1427.5 L1098.2 1425.8 L1103.0 1424.4 L1108.1 1424.2 L1113.0 1423.1 L1117.9 1422.0 L1123.0 1422.0 L1128.0 1421.5 L1132.3 1418.5 L1137.2 1417.7 L1142.2 1417.2 L1146.9 1415.1 L1151.9 1414.1 L1157.0 1414.1 L1161.9 1413.7 L1166.7 1412.1 L1171.8 1411.8 L1176.7 1410.5 L1181.4 1408.7 L1186.5 1408.3 L1191.5 1408.2 L1196.4 1406.8 L1201.5 1406.7 L1206.5 1406.7 L1211.5 1406.7 L1216.5 1406.6 L1221.6 1406.6 L1226.6 1406.6 L1231.6 1406.6 L1236.7 1406.6 L1241.7 1406.6 L1246.7 1406.6 L1251.8 1406.6 L1256.8 1406.6 L1261.8 1406.6 L1266.9 1406.6 L1271.9 1406.6 L1276.9 1406.6 L1281.9 1406.6 L1287.0 1406.6 L1292.0 1406.6 L1297.0 1406.6 L1302.1 1406.6 L1307.1 1406.6 L1312.1 1406.6 L1317.2 1406.6 L1322.2 1406.6 L1327.2 1406.6 L1332.2 1406.6 L1337.3 1406.6 L1342.3 1406.6 L1347.3 1406.6 L1352.4 1406.6 L1357.4 1406.6 L1362.4 1406.6 L1367.5 1406.6 L1372.5 1406.6 L1377.5 1406.6 L1382.5 1406.6 L1387.6 1406.6 L1392.6 1406.6 L1397.6 1406.6 L1402.7 1406.6 L1407.7 1406.6" stroke="#447ea6"/>
<path d="M853.3 1811.9 L853.4 1806.9 L854.9 1802.0 L855.4 1797.0 L855.4 1791.9 L856.4 1786.9 L857.7 1782.0 L857.7 1776.9 L857.7 1771.9 L859.4 1767.0 L859.4 1761.9 L859.4 1756.9 L860.2 1751.9 L860.6 1746.9 L860.6 1741.8 L861.4 1736.9 L862.0 1731.9 L862.0 1726.8 L862.0 1721.8 L863.1 1716.8 L863.1 1711.8 L863.1 1706.7 L864.0 1701.8 L864.0 1696.7 L864.0 1691.6 L864.4 1686.7 L865.0 1681.7 L865.0 1676.6 L865.0 1671.6 L865.7 1666.6 L865.7 1661.5 L865.7 1656.5 L866.2 1651.5 L866.2 1646.5 L866.2 1641.4 L868.0 1636.6 L868.8 1631.6 L868.8 1626.5 L869.7 1621.6 L871.0 1616.7 L871.0 1611.6 L872.0 1606.7 L873.9 1602.0 L874.6 1597.0 L875.3 1591.9 L877.6 1587.4 L878.9 1582.5 L879.5 1577.4 L881.5 1572.8 L883.3 1568.0 L883.3 1562.9 L884.0 1557.9 L885.6 1553.1 L885.7 1548.0 L886.0 1542.9 L888.2 1538.2 L889.4 1533.4 L889.7 1528.2 L892.4 1523.9 L895.6 1520.0 L896.9 1515.0 L898.9 1510.5 L901.0 1505.8 L901.4 1500.7 L902.8 1495.9 L906.7 1492.6 L910.3 1489.1 L913.6 1485.1 L918.2 1482.8 L922.4 1480.2 L926.2 1476.7 L931.1 1475.2 L936.0 1474.4 L940.8 1473.0 L945.7 1471.8 L950.8 1471.4 L955.4 1469.1 L959.9 1466.9 L965.1 1466.6 L970.0 1465.4 L974.6 1463.3 L979.5 1462.2 L984.5 1460.9 L988.4 1457.5 L993.0 1455.4 L998.2 1454.9 L1002.7 1452.8 L1007.4 1450.7 L1012.5 1450.1 L1017.3 1448.6 L1021.8 1446.2 L1026.8 1445.4 L1031.7 1444.6 L1036.5 1442.7 L1041.4 1441.8 L1046.5 1441.4 L1051.0 1438.9 L1055.6 1436.9 L1060.7 1436.2 L1065.6 1435.1 L1070.1 1432.9 L1075.0 1431.6 L1079.7 1430.0 L1084.5 1428.3 L1089.5 1427.8 L1094.5 1427.0 L1099.1 1424.9 L1103.9 1423.3 L1109.0 1423.3 L1114.0 1422.6 L1118.9 1421.4 L1124.0 1421.4 L1129.0 1421.4 L1133.7 1419.6 L1138.7 1418.9 L1143.7 1418.4 L1148.6 1417.4 L1151.8 1414.8 L1157.0 1414.8 L1161.9 1414.1 L1166.9 1413.0 L1172.0 1413.0 L1176.8 1411.7 L1181.5 1409.5 L1186.5 1409.2 L1191.6 1408.8 L1196.4 1407.2 L1201.5 1406.7 L1206.5 1406.7 L1211.5 1406.7 L1216.6 1406.6 L1221.6 1406.6 L1226.6 1406.6 L1231.7 1406.6 L1236.7 1406.6 L1241.7 1406.6 L1246.7 1406.6 L1251.8 1406.6 L1256.8 1406.6 L1261.8 1406.6 L1266.9 1406.6 L1271.9 1406.6 L1276.9 1406.6 L1282.0 1406.6 L1287.0 1406.6 L1292.0 1406.6 L1297.0 1406.6 L1302.1 1406.6 L1307.1 1406.6 L1312.1 1406.6 L1317.2 1406.6 L1322.2 1406.6 L1327.2 1406.6 L1332.2 1406.6 L1337.3 1406.6 L1342.3 1406.6 L1347.3 1406.6 L1352.4 1406.6 L1357.4 1406.6 L1362.4 1406.6 L1367.5 1406.6 L1372.5 1406.6 L1377.5 1406.6 L1382.5 1406.6 L1387.6 1406.6 L1392.6 1406.6 L1397.6 1406.6 L1402.7 1406.6 L1407.7 1406.6" stroke="#524d90"/>
</g>
<path d="M853.0 1406.6 H1407.7 V1961.7" fill="none" stroke="#000" stroke-width="2.4"/>
<path d="M853.0 1406.6 V1961.7 H1407.7" fill="none" stroke="#000" stroke-width="2.9" stroke-linecap="square"/>
<path d="M853.0 1961.7 h-11.0 M853.0 1961.7 v11.0 M853.0 1822.9 h-11.0 M991.7 1961.7 v11.0 M853.0 1684.2 h-11.0 M1130.3 1961.7 v11.0 M853.0 1545.4 h-11.0 M1269.0 1961.7 v11.0 M853.0 1406.6 h-11.0 M1407.7 1961.7 v11.0" stroke="#000" stroke-width="2.6" fill="none"/>
<g font-family='"Liberation Sans", sans-serif' font-size="28.4" fill="#000">
<text x="819.7" y="1967.0" text-anchor="end" font-size="27.9">0.00</text>
<text x="852.5" y="2006.4" text-anchor="middle" font-size="27.9">0.00</text>
<text x="819.7" y="1828.2" text-anchor="end" font-size="27.9">0.25</text>
<text x="991.2" y="2006.4" text-anchor="middle" font-size="27.9">0.25</text>
<text x="819.7" y="1689.5" text-anchor="end" font-size="27.9">0.50</text>
<text x="1129.8" y="2006.4" text-anchor="middle" font-size="27.9">0.50</text>
<text x="819.7" y="1550.7" text-anchor="end" font-size="27.9">0.75</text>
<text x="1268.5" y="2006.4" text-anchor="middle" font-size="27.9">0.75</text>
<text x="819.7" y="1411.9" text-anchor="end" font-size="27.9">1.00</text>
<text x="1407.2" y="2006.4" text-anchor="middle" font-size="27.9">1.00</text>
<text x="1130.6" y="2042.9" text-anchor="middle" font-size="28">1-Specificity</text>
<text transform="translate(744.4 1683.7) rotate(-90)" text-anchor="middle" font-size="28">Sensitivity</text>
<line x1="1441.8" y1="1406.6" x2="1490.2" y2="1406.6" stroke="#771f3e" stroke-width="2.4"/>
<text x="1513.6" y="1412.2" font-size="27.6">Factor 0</text>
<line x1="1441.8" y1="1468.3" x2="1490.2" y2="1468.3" stroke="#bd3756" stroke-width="2.4"/>
<text x="1513.6" y="1473.9" font-size="27.6">Factor 10</text>
<line x1="1441.8" y1="1530.0" x2="1490.2" y2="1530.0" stroke="#da6d50" stroke-width="2.4"/>
<text x="1513.6" y="1535.6" font-size="27.6">Factor 20</text>
<line x1="1441.8" y1="1591.6" x2="1490.2" y2="1591.6" stroke="#eaa06e" stroke-width="2.4"/>
<text x="1513.6" y="1597.2" font-size="27.6">Factor 30</text>
<line x1="1441.8" y1="1653.3" x2="1490.2" y2="1653.3" stroke="#f0d08a" stroke-width="2.4"/>
<text x="1513.6" y="1658.9" font-size="27.6">Factor 40</text>
<line x1="1441.8" y1="1715.0" x2="1490.2" y2="1715.0" stroke="#dbe094" stroke-width="2.4"/>
<text x="1513.6" y="1720.6" font-size="27.6">Factor 50</text>
<line x1="1441.8" y1="1776.7" x2="1490.2" y2="1776.7" stroke="#9ccca2" stroke-width="2.4"/>
<text x="1513.6" y="1782.3" font-size="27.6">Factor 60</text>
<line x1="1441.8" y1="1838.3" x2="1490.2" y2="1838.3" stroke="#5faf9e" stroke-width="2.4"/>
<text x="1513.6" y="1843.9" font-size="27.6">Factor 70</text>
<line x1="1441.8" y1="1900.0" x2="1490.2" y2="1900.0" stroke="#447ea6" stroke-width="2.4"/>
<text x="1513.6" y="1905.6" font-size="27.6">Factor 80</text>
<line x1="1441.8" y1="1961.7" x2="1490.2" y2="1961.7" stroke="#524d90" stroke-width="2.4"/>
<text x="1513.6" y="1967.3" font-size="27.6">Factor 90</text>
<text x="698.3" y="1353.5">g</text>
</g>
</g>
<g>
<line x1="853.4" y1="2624.4" x2="1408.8" y2="2069.5" stroke="#b7b7b7" stroke-width="2.5" stroke-dasharray="6.5 4.2 2.2 4.2" stroke-dashoffset="-4"/>
<g fill="none" stroke-width="2.5" stroke-linejoin="round" stroke-linecap="butt">
<path d="M854.9 2437.2 L856.3 2432.3 L859.1 2428.0 L860.4 2423.1 L860.4 2418.0 L860.8 2413.0 L861.8 2408.0 L861.8 2402.9 L861.8 2397.8 L863.1 2392.9 L863.1 2387.8 L863.1 2382.7 L865.0 2377.8 L865.8 2372.9 L865.8 2367.7 L867.0 2362.8 L868.2 2357.9 L868.2 2352.7 L869.0 2347.8 L870.2 2342.8 L870.2 2337.7 L870.2 2332.6 L870.2 2327.6 L870.3 2322.6 L870.3 2317.5 L870.4 2312.4 L870.8 2307.4 L870.8 2302.3 L870.8 2297.3 L871.6 2292.2 L871.6 2287.2 L871.6 2282.1 L872.0 2277.1 L872.0 2272.0 L872.0 2266.9 L872.0 2261.9 L872.6 2256.9 L872.6 2246.7 L873.0 2241.7 L873.0 2236.6 L873.0 2231.5 L873.8 2226.6 L873.8 2221.5 L873.8 2216.4 L874.6 2211.4 L875.0 2206.4 L875.0 2201.3 L875.2 2196.3 L876.3 2191.3 L876.3 2186.1 L877.2 2181.2 L879.5 2176.6 L879.9 2171.5 L881.2 2166.5 L884.4 2162.4 L886.2 2157.7 L887.8 2152.8 L891.2 2148.9 L894.8 2145.6 L898.1 2141.7 L902.1 2138.6 L906.4 2136.0 L910.5 2133.2 L915.1 2131.2 L920.3 2130.5 L924.9 2128.4 L929.2 2125.6 L934.1 2124.3 L938.7 2122.2 L942.9 2119.2 L947.8 2117.7 L952.6 2116.1 L956.5 2112.7 L960.5 2109.5 L965.5 2108.1 L969.7 2105.3 L973.8 2102.3 L978.6 2100.4 L983.0 2097.9 L986.7 2094.2 L991.8 2093.3 L996.9 2093.1 L1001.5 2090.6 L1006.3 2088.8 L1011.4 2088.8 L1016.4 2088.8 L1021.4 2088.0 L1026.4 2087.7 L1031.2 2086.2 L1035.9 2084.2 L1041.1 2084.2 L1046.1 2084.2 L1051.1 2084.2 L1055.8 2082.4 L1060.9 2081.8 L1065.6 2080.1 L1070.5 2078.4 L1075.7 2078.4 L1080.6 2078.0 L1085.6 2076.7 L1090.7 2076.7 L1095.8 2076.7 L1100.5 2074.7 L1105.4 2073.6 L1110.6 2073.6 L1115.6 2073.1 L1120.6 2072.4 L1125.7 2072.4 L1130.7 2071.8 L1135.6 2070.3 L1140.7 2070.3 L1145.7 2070.3 L1150.8 2069.7 L1155.8 2069.7 L1160.9 2069.7 L1166.0 2069.7 L1171.0 2069.7 L1176.1 2069.7 L1181.1 2069.7 L1186.2 2069.7 L1191.2 2069.7 L1196.3 2069.7 L1201.4 2069.5 L1206.4 2069.5 L1216.5 2069.5 L1221.6 2069.5 L1226.6 2069.5 L1231.7 2069.5 L1236.8 2069.5 L1241.8 2069.5 L1246.9 2069.5 L1251.9 2069.5 L1257.0 2069.5 L1262.0 2069.5 L1267.1 2069.5 L1272.2 2069.5 L1277.2 2069.5 L1282.3 2069.5 L1287.3 2069.5 L1292.4 2069.5 L1297.4 2069.5 L1302.5 2069.5 L1307.6 2069.5 L1312.6 2069.5 L1317.7 2069.5 L1322.7 2069.5 L1327.8 2069.5 L1332.8 2069.5 L1337.9 2069.5 L1343.0 2069.5 L1348.0 2069.5 L1353.1 2069.5 L1358.1 2069.5 L1363.2 2069.5 L1368.2 2069.5 L1373.3 2069.5 L1378.4 2069.5 L1383.4 2069.5 L1388.5 2069.5 L1393.5 2069.5 L1398.6 2069.5 L1403.6 2069.5 L1408.7 2069.5" stroke="#771f3e"/>
<path d="M854.9 2458.1 L857.2 2453.6 L860.8 2449.9 L862.6 2445.1 L863.9 2440.2 L866.6 2435.9 L868.3 2431.1 L868.3 2425.9 L869.0 2421.0 L870.2 2416.0 L870.2 2410.9 L870.4 2405.9 L871.9 2401.0 L871.9 2395.9 L871.9 2390.9 L872.4 2385.9 L872.4 2380.9 L872.4 2375.8 L872.8 2370.8 L873.7 2365.8 L873.7 2360.7 L873.7 2355.7 L874.9 2350.8 L874.9 2345.7 L874.9 2340.6 L875.5 2335.7 L875.5 2330.6 L875.5 2325.6 L875.6 2320.6 L876.0 2315.6 L876.0 2310.5 L876.8 2305.5 L878.3 2300.7 L878.3 2295.6 L878.8 2290.6 L881.0 2285.9 L881.7 2280.9 L882.1 2275.8 L884.1 2271.1 L885.4 2266.2 L885.4 2261.1 L887.3 2256.4 L889.1 2251.6 L889.5 2246.5 L890.8 2241.6 L893.9 2237.7 L896.5 2233.4 L899.0 2229.1 L902.5 2225.3 L905.0 2221.0 L906.7 2216.1 L910.5 2212.7 L914.5 2209.5 L916.5 2204.8 L919.1 2200.5 L922.5 2196.6 L924.2 2191.8 L925.6 2187.1 L927.8 2182.5 L928.8 2177.5 L929.0 2172.4 L931.0 2167.7 L933.1 2163.1 L934.2 2158.2 L936.4 2153.6 L939.6 2149.7 L942.0 2145.3 L944.6 2140.9 L948.6 2137.7 L952.2 2134.3 L955.5 2130.3 L960.1 2128.2 L964.7 2126.1 L968.7 2123.0 L973.4 2121.1 L978.2 2119.5 L982.5 2116.8 L987.1 2114.7 L992.1 2113.9 L997.0 2112.9 L1001.9 2111.7 L1007.1 2111.7 L1012.0 2111.0 L1016.5 2108.5 L1021.6 2107.8 L1026.5 2106.9 L1031.1 2104.5 L1035.8 2102.9 L1041.0 2102.9 L1045.9 2101.7 L1050.8 2100.6 L1055.9 2100.6 L1060.7 2099.0 L1065.2 2096.6 L1070.2 2095.7 L1075.2 2094.8 L1079.7 2092.2 L1084.5 2090.9 L1089.5 2089.8 L1093.8 2087.2 L1098.2 2084.5 L1103.3 2084.1 L1108.2 2083.2 L1113.1 2081.9 L1118.2 2081.8 L1123.1 2080.4 L1127.6 2078.1 L1132.6 2077.4 L1137.7 2077.4 L1142.7 2076.5 L1147.7 2076.3 L1152.7 2076.3 L1157.8 2076.3 L1162.5 2075.2 L1167.5 2074.5 L1172.3 2073.4 L1177.2 2072.1 L1182.3 2072.1 L1192.3 2072.1 L1197.4 2072.1 L1202.4 2072.1 L1207.4 2072.1 L1212.4 2071.5 L1217.5 2071.5 L1222.5 2071.5 L1227.5 2071.0 L1232.6 2071.0 L1237.6 2071.0 L1242.6 2070.7 L1247.7 2070.6 L1252.7 2070.6 L1257.7 2070.6 L1262.7 2069.9 L1267.8 2069.9 L1272.8 2069.9 L1277.8 2069.6 L1282.9 2069.6 L1292.9 2069.6 L1298.0 2069.6 L1308.0 2069.6 L1313.1 2069.5 L1323.1 2069.5 L1328.2 2069.5 L1333.2 2069.5 L1338.2 2069.5 L1343.3 2069.5 L1348.3 2069.5 L1358.4 2069.5 L1363.4 2069.5 L1368.4 2069.5 L1373.5 2069.5 L1378.5 2069.5 L1383.5 2069.5 L1388.6 2069.5 L1393.6 2069.5 L1398.6 2069.5 L1403.7 2069.5 L1408.7 2069.5" stroke="#bd3756"/>
<path d="M854.9 2470.0 L858.5 2466.4 L861.9 2462.6 L862.9 2457.5 L865.4 2453.1 L868.9 2449.3 L870.6 2444.5 L872.6 2439.9 L874.8 2435.4 L875.7 2430.4 L875.9 2425.3 L877.6 2420.6 L878.9 2415.7 L878.9 2410.6 L880.2 2405.7 L882.2 2400.9 L882.2 2395.8 L882.4 2390.8 L884.4 2386.0 L884.6 2380.9 L884.6 2375.8 L886.2 2371.0 L887.0 2366.0 L887.0 2360.9 L888.1 2356.0 L890.0 2351.2 L890.0 2346.0 L890.0 2341.0 L891.1 2336.1 L891.1 2331.0 L891.1 2325.9 L892.5 2321.1 L893.6 2316.1 L893.6 2311.0 L894.3 2306.1 L896.2 2301.4 L896.8 2296.3 L898.3 2291.5 L901.1 2287.1 L902.1 2282.1 L903.4 2277.2 L906.1 2273.0 L909.3 2269.2 L911.7 2264.6 L915.2 2261.0 L918.5 2257.2 L920.6 2252.4 L923.5 2248.4 L927.0 2244.6 L929.1 2240.0 L931.2 2235.4 L934.8 2231.6 L936.8 2227.0 L938.3 2222.2 L941.3 2218.0 L942.2 2213.0 L942.2 2207.9 L942.8 2202.9 L944.4 2198.0 L944.4 2192.9 L944.4 2187.9 L946.3 2183.1 L946.6 2178.0 L946.7 2172.9 L948.4 2168.1 L949.5 2163.3 L950.7 2158.4 L953.5 2154.2 L956.7 2150.2 L958.2 2145.2 L962.2 2142.2 L967.1 2140.8 L971.7 2138.7 L976.1 2136.1 L981.2 2135.3 L985.8 2133.5 L990.0 2130.5 L995.0 2129.3 L999.9 2128.0 L1004.3 2125.4 L1009.0 2123.6 L1013.9 2122.2 L1018.0 2119.2 L1021.9 2115.9 L1027.1 2115.0 L1031.7 2112.9 L1035.9 2110.1 L1040.8 2108.8 L1045.8 2107.6 L1050.3 2105.3 L1055.4 2104.9 L1060.5 2104.9 L1065.3 2103.7 L1070.1 2101.9 L1075.2 2101.9 L1080.2 2101.5 L1085.1 2100.4 L1090.2 2100.2 L1095.1 2099.0 L1099.6 2096.7 L1104.6 2095.7 L1109.7 2095.5 L1114.4 2093.3 L1119.2 2091.8 L1124.2 2091.0 L1128.9 2089.2 L1133.5 2087.0 L1138.5 2086.3 L1143.5 2085.2 L1148.1 2083.2 L1153.1 2082.3 L1158.2 2082.0 L1162.8 2079.6 L1167.6 2078.0 L1172.7 2077.8 L1177.5 2076.2 L1182.3 2074.4 L1187.4 2074.4 L1192.5 2074.4 L1197.4 2073.7 L1202.5 2073.7 L1207.5 2073.7 L1212.6 2073.7 L1217.6 2073.5 L1222.6 2073.5 L1227.7 2073.5 L1232.7 2072.9 L1237.7 2072.9 L1242.8 2072.9 L1247.8 2072.6 L1252.8 2072.6 L1257.9 2072.6 L1262.8 2071.8 L1267.8 2071.2 L1272.9 2071.2 L1277.8 2070.3 L1282.8 2069.7 L1287.9 2069.7 L1292.9 2069.7 L1297.9 2069.6 L1303.0 2069.6 L1313.0 2069.6 L1318.1 2069.6 L1328.1 2069.6 L1333.2 2069.5 L1338.2 2069.5 L1343.3 2069.5 L1348.3 2069.5 L1353.3 2069.5 L1358.4 2069.5 L1363.4 2069.5 L1368.4 2069.5 L1373.5 2069.5 L1378.5 2069.5 L1383.5 2069.5 L1388.6 2069.5 L1393.6 2069.5 L1398.6 2069.5 L1403.7 2069.5 L1408.7 2069.5" stroke="#da6d50"/>
<path d="M854.9 2525.5 L858.3 2521.7 L860.8 2517.3 L861.9 2512.3 L864.6 2508.0 L867.2 2503.9 L870.0 2499.7 L872.5 2495.6 L874.9 2491.1 L875.4 2486.0 L876.4 2481.0 L879.1 2476.6 L880.4 2471.7 L881.0 2466.7 L882.3 2461.9 L883.2 2456.9 L883.2 2451.8 L883.2 2446.8 L884.5 2441.8 L884.5 2436.7 L884.5 2431.7 L885.3 2426.7 L885.3 2421.7 L885.3 2416.6 L886.2 2411.7 L886.7 2406.6 L886.7 2401.5 L886.8 2396.6 L887.9 2391.6 L887.9 2386.5 L887.9 2381.5 L889.5 2376.6 L889.5 2371.5 L889.5 2366.4 L890.7 2361.5 L891.1 2356.5 L891.1 2351.4 L892.1 2346.5 L893.2 2341.7 L894.6 2336.9 L897.5 2332.9 L900.6 2328.8 L900.6 2323.6 L900.6 2318.5 L902.6 2313.7 L902.9 2308.7 L902.9 2303.6 L904.2 2298.7 L905.2 2293.7 L905.2 2288.6 L905.8 2283.7 L907.6 2278.8 L907.6 2273.7 L909.9 2269.4 L914.0 2266.2 L917.0 2262.3 L920.3 2258.3 L924.7 2255.8 L928.2 2252.2 L928.6 2247.0 L930.3 2242.2 L932.6 2237.6 L933.0 2232.5 L934.1 2227.5 L937.4 2223.7 L940.1 2219.4 L942.3 2214.8 L946.2 2211.4 L948.6 2207.0 L949.6 2201.9 L952.0 2197.5 L954.7 2193.1 L955.6 2188.0 L957.6 2183.4 L960.4 2179.1 L962.0 2174.4 L964.4 2169.9 L968.6 2167.0 L972.2 2163.5 L975.3 2159.3 L979.6 2156.7 L984.0 2154.2 L987.3 2150.2 L991.5 2147.3 L996.1 2145.1 L999.7 2141.5 L1003.6 2138.4 L1008.4 2136.4 L1012.3 2133.2 L1015.6 2129.3 L1019.8 2126.5 L1024.0 2123.6 L1027.2 2119.5 L1032.1 2117.9 L1036.9 2116.6 L1041.6 2114.7 L1046.5 2113.4 L1051.7 2113.4 L1056.5 2112.3 L1061.3 2110.5 L1066.4 2110.5 L1071.4 2109.9 L1076.4 2108.7 L1081.4 2108.7 L1086.5 2108.7 L1091.4 2107.8 L1096.4 2106.9 L1101.5 2106.9 L1106.4 2105.8 L1111.2 2104.4 L1116.3 2104.3 L1121.3 2103.9 L1126.2 2102.3 L1131.2 2102.0 L1136.1 2100.6 L1139.7 2097.4 L1144.6 2096.1 L1149.7 2095.7 L1154.5 2094.0 L1159.2 2092.4 L1164.3 2091.9 L1169.1 2090.3 L1173.6 2087.7 L1178.7 2087.1 L1183.7 2086.5 L1188.3 2084.0 L1193.2 2083.1 L1198.3 2082.6 L1203.1 2081.1 L1208.0 2079.9 L1213.1 2079.9 L1218.1 2079.3 L1222.8 2077.2 L1227.9 2076.8 L1232.8 2076.2 L1237.8 2074.8 L1242.8 2074.8 L1247.9 2074.8 L1252.9 2074.1 L1257.8 2073.2 L1263.0 2073.2 L1267.9 2072.9 L1272.8 2071.5 L1277.9 2071.5 L1282.9 2070.9 L1287.9 2070.0 L1292.9 2070.0 L1297.9 2070.0 L1303.0 2069.9 L1308.0 2069.9 L1313.0 2069.9 L1318.1 2069.9 L1323.1 2069.6 L1328.1 2069.6 L1333.2 2069.6 L1338.2 2069.5 L1343.2 2069.5 L1348.3 2069.5 L1353.3 2069.5 L1358.3 2069.5 L1368.4 2069.5 L1373.4 2069.5 L1378.5 2069.5 L1383.5 2069.5 L1388.5 2069.5 L1393.6 2069.5 L1398.6 2069.5 L1403.7 2069.5 L1408.7 2069.5" stroke="#eaa06e"/>
<path d="M854.9 2558.3 L857.5 2553.9 L859.3 2549.2 L860.5 2544.3 L863.0 2539.8 L864.1 2534.9 L864.9 2529.9 L866.6 2525.1 L868.1 2520.3 L868.1 2515.1 L869.2 2510.2 L871.0 2505.4 L871.0 2500.3 L871.3 2495.2 L873.1 2490.4 L873.3 2485.3 L873.3 2480.2 L874.5 2475.3 L875.2 2470.3 L875.2 2465.2 L876.2 2460.3 L877.8 2455.5 L877.9 2450.4 L878.8 2445.4 L881.0 2440.7 L881.3 2435.6 L881.8 2430.6 L883.8 2425.8 L884.9 2420.9 L884.9 2415.7 L886.3 2410.9 L887.5 2406.0 L887.5 2400.9 L887.8 2395.9 L889.8 2391.0 L889.8 2385.9 L889.8 2380.8 L891.8 2376.1 L892.3 2371.0 L892.3 2365.9 L893.7 2361.1 L895.0 2356.1 L895.0 2351.0 L895.9 2346.1 L898.3 2341.5 L898.7 2336.4 L899.3 2331.4 L901.2 2326.7 L901.9 2321.6 L901.9 2316.5 L903.2 2311.6 L904.3 2306.7 L904.3 2301.5 L904.7 2296.6 L906.4 2291.7 L906.4 2286.6 L906.5 2281.6 L908.5 2277.2 L912.1 2273.9 L915.3 2270.1 L919.0 2266.7 L922.0 2262.7 L923.9 2258.0 L926.5 2253.7 L928.8 2249.2 L929.5 2244.1 L930.9 2239.2 L933.6 2235.0 L936.4 2231.1 L939.7 2227.3 L944.1 2224.6 L946.6 2220.2 L948.0 2215.3 L951.2 2211.2 L954.2 2207.1 L955.2 2202.0 L957.4 2197.5 L960.1 2193.2 L961.7 2188.3 L963.7 2183.7 L966.7 2179.5 L968.8 2175.0 L971.7 2170.9 L976.2 2168.4 L980.4 2165.6 L983.6 2161.5 L987.6 2158.5 L992.1 2156.0 L995.8 2152.6 L999.8 2149.5 L1004.7 2147.7 L1008.6 2144.5 L1012.4 2141.2 L1016.8 2138.7 L1021.0 2135.8 L1024.1 2131.5 L1028.8 2129.6 L1033.9 2129.4 L1038.5 2127.1 L1043.0 2124.9 L1048.2 2124.2 L1052.8 2122.1 L1057.6 2120.8 L1062.7 2120.6 L1067.6 2119.1 L1072.1 2116.7 L1077.1 2116.0 L1082.2 2115.9 L1087.0 2114.2 L1092.1 2113.7 L1097.2 2113.7 L1102.1 2112.5 L1106.9 2110.8 L1112.0 2110.5 L1116.8 2109.1 L1121.5 2107.1 L1126.6 2106.4 L1131.6 2105.9 L1136.3 2103.8 L1140.4 2102.1 L1145.6 2101.8 L1150.3 2099.9 L1155.1 2098.1 L1160.3 2098.0 L1165.0 2096.1 L1169.4 2093.6 L1174.4 2092.6 L1179.3 2091.3 L1183.8 2088.8 L1188.7 2087.7 L1193.9 2087.3 L1198.4 2084.8 L1203.3 2083.4 L1208.4 2083.4 L1213.3 2082.2 L1218.1 2080.5 L1223.2 2080.0 L1228.1 2079.0 L1232.9 2077.3 L1238.0 2077.3 L1243.0 2077.3 L1248.0 2077.3 L1252.9 2076.5 L1258.1 2076.4 L1262.9 2074.9 L1267.7 2073.2 L1272.9 2073.2 L1277.8 2072.3 L1282.6 2070.5 L1287.7 2070.4 L1292.7 2070.4 L1297.8 2070.1 L1302.8 2069.9 L1307.9 2069.9 L1312.9 2069.9 L1317.9 2069.5 L1323.0 2069.5 L1328.0 2069.5 L1333.1 2069.5 L1338.1 2069.5 L1348.2 2069.5 L1353.2 2069.5 L1358.3 2069.5 L1363.3 2069.5 L1368.4 2069.5 L1373.4 2069.5 L1378.4 2069.5 L1383.5 2069.5 L1388.5 2069.5 L1393.6 2069.5 L1398.6 2069.5 L1403.6 2069.5 L1408.7 2069.5" stroke="#f0d08a"/>
<path d="M854.9 2562.2 L857.7 2558.0 L858.9 2553.0 L860.9 2548.4 L863.2 2543.9 L864.0 2538.8 L865.4 2534.0 L867.7 2529.4 L868.4 2524.4 L868.9 2519.4 L870.5 2514.5 L871.3 2509.5 L871.3 2504.4 L872.1 2499.5 L873.6 2494.6 L873.6 2489.4 L873.6 2484.4 L875.0 2479.5 L875.0 2474.5 L875.0 2469.4 L876.6 2464.5 L877.5 2459.6 L877.6 2454.5 L879.2 2449.6 L880.9 2444.8 L880.9 2439.7 L881.8 2434.7 L883.6 2430.0 L884.1 2424.9 L884.6 2419.9 L886.5 2415.1 L887.0 2410.1 L887.0 2405.0 L888.1 2400.1 L889.1 2395.1 L889.1 2390.0 L889.9 2385.0 L891.9 2380.3 L892.2 2375.2 L893.0 2370.2 L894.9 2365.5 L895.7 2360.5 L895.9 2355.4 L897.6 2350.6 L899.1 2345.8 L899.3 2340.7 L900.7 2335.9 L902.6 2331.1 L902.7 2326.0 L903.2 2320.9 L905.4 2316.2 L906.2 2311.3 L906.7 2306.2 L909.3 2301.7 L910.8 2296.9 L911.3 2291.7 L913.3 2287.1 L916.6 2283.2 L918.1 2278.2 L920.6 2273.8 L923.6 2269.7 L924.8 2264.7 L926.1 2259.8 L928.8 2255.5 L930.7 2250.8 L931.6 2245.7 L934.1 2241.3 L936.6 2236.9 L938.1 2232.1 L941.7 2228.5 L945.9 2225.6 L948.9 2221.4 L951.6 2217.1 L955.6 2213.9 L957.7 2209.2 L959.0 2204.2 L962.0 2200.1 L964.5 2195.7 L965.9 2190.8 L968.4 2186.4 L971.3 2182.3 L974.7 2178.7 L978.3 2175.1 L982.9 2172.8 L986.5 2169.2 L989.9 2165.4 L994.3 2162.8 L998.6 2160.3 L1002.6 2157.1 L1007.1 2154.9 L1011.6 2152.5 L1015.0 2148.7 L1018.8 2145.3 L1023.6 2143.4 L1027.6 2140.4 L1031.5 2137.0 L1036.5 2135.6 L1041.0 2133.6 L1045.6 2131.2 L1050.7 2131.2 L1055.8 2131.2 L1060.3 2128.9 L1064.8 2126.7 L1069.7 2125.2 L1074.2 2123.1 L1078.8 2120.8 L1083.9 2120.6 L1088.9 2119.7 L1093.7 2118.0 L1098.8 2117.7 L1103.9 2117.5 L1108.4 2115.1 L1113.3 2113.7 L1118.4 2113.1 L1123.0 2111.2 L1127.8 2109.5 L1133.0 2109.5 L1138.0 2109.0 L1141.0 2105.8 L1146.2 2105.8 L1151.3 2105.8 L1156.2 2104.4 L1161.2 2104.0 L1166.3 2103.7 L1170.9 2101.6 L1175.8 2100.1 L1180.9 2099.8 L1185.8 2099.0 L1190.6 2097.3 L1195.8 2097.3 L1200.8 2096.6 L1205.1 2093.8 L1210.0 2092.5 L1215.0 2091.3 L1219.4 2088.8 L1224.1 2086.9 L1229.1 2086.1 L1233.8 2084.3 L1238.6 2082.5 L1243.7 2082.4 L1248.6 2081.3 L1253.3 2079.3 L1258.4 2078.7 L1263.5 2078.5 L1268.2 2076.4 L1273.2 2075.5 L1278.3 2075.5 L1283.1 2073.9 L1287.9 2072.3 L1293.1 2072.3 L1297.9 2071.1 L1302.9 2069.8 L1307.9 2069.8 L1313.0 2069.8 L1318.0 2069.8 L1323.0 2069.8 L1328.1 2069.8 L1333.1 2069.8 L1338.1 2069.6 L1343.2 2069.6 L1348.2 2069.6 L1353.3 2069.5 L1358.3 2069.5 L1363.3 2069.5 L1368.4 2069.5 L1373.4 2069.5 L1378.5 2069.5 L1383.5 2069.5 L1388.5 2069.5 L1393.6 2069.5 L1398.6 2069.5 L1403.6 2069.5 L1408.7 2069.5" stroke="#dbe094"/>
<path d="M854.9 2568.2 L856.9 2563.6 L858.2 2558.6 L860.9 2554.3 L863.1 2549.7 L864.3 2544.7 L866.4 2540.1 L868.4 2535.5 L869.0 2530.4 L869.7 2525.4 L871.3 2520.5 L871.3 2515.4 L871.3 2510.3 L872.4 2505.4 L873.1 2500.4 L873.1 2495.3 L873.6 2490.3 L874.9 2485.3 L874.9 2480.2 L874.9 2475.2 L876.2 2470.3 L876.4 2465.2 L876.7 2460.1 L878.8 2455.4 L879.7 2450.4 L879.7 2445.2 L881.6 2440.5 L882.8 2435.6 L883.1 2430.5 L884.1 2425.5 L886.0 2420.7 L886.0 2415.6 L886.1 2410.5 L888.1 2405.7 L888.4 2400.6 L888.4 2395.5 L889.7 2390.6 L891.2 2385.8 L891.2 2380.6 L892.8 2375.8 L894.7 2371.1 L895.0 2366.0 L895.8 2361.0 L898.1 2356.3 L898.8 2351.3 L899.3 2346.2 L901.1 2341.4 L902.2 2336.5 L902.2 2331.3 L903.6 2326.5 L905.4 2321.7 L905.4 2316.5 L907.3 2311.8 L910.1 2307.5 L911.8 2302.7 L913.1 2297.8 L916.5 2293.8 L918.6 2289.2 L919.9 2284.3 L922.5 2279.9 L924.7 2275.3 L925.3 2270.2 L926.9 2265.4 L929.1 2260.8 L929.8 2255.7 L930.8 2250.8 L933.1 2246.2 L934.7 2241.5 L936.5 2236.7 L940.1 2233.1 L944.5 2230.7 L948.2 2227.1 L951.8 2223.9 L955.1 2219.9 L956.9 2215.1 L959.3 2210.6 L963.7 2207.8 L967.1 2204.1 L970.0 2199.8 L974.2 2196.9 L977.9 2193.4 L980.9 2189.3 L985.1 2186.4 L989.5 2183.7 L993.1 2180.1 L997.1 2177.1 L1002.0 2175.4 L1006.3 2172.9 L1010.9 2170.8 L1015.7 2169.4 L1019.5 2165.9 L1022.4 2161.7 L1026.2 2158.4 L1031.2 2157.4 L1035.6 2154.8 L1040.2 2152.7 L1045.2 2151.5 L1049.5 2148.7 L1052.8 2144.9 L1057.0 2142.1 L1061.3 2140.2 L1066.0 2138.3 L1071.1 2137.9 L1075.8 2136.0 L1080.2 2133.5 L1085.2 2132.7 L1090.5 2132.7 L1094.9 2130.3 L1099.4 2127.9 L1104.5 2127.4 L1109.3 2125.8 L1113.8 2123.5 L1118.7 2122.1 L1123.4 2120.3 L1127.5 2117.1 L1132.3 2115.4 L1137.4 2114.3 L1141.0 2111.0 L1145.8 2109.4 L1151.0 2109.4 L1155.8 2107.8 L1160.5 2105.6 L1165.5 2105.0 L1170.5 2104.0 L1175.0 2101.5 L1180.0 2100.4 L1185.0 2099.5 L1189.6 2097.3 L1194.4 2095.7 L1199.6 2095.3 L1204.2 2093.1 L1208.6 2090.5 L1213.8 2090.0 L1218.6 2088.5 L1223.2 2086.2 L1228.2 2085.4 L1233.3 2085.0 L1237.9 2082.6 L1242.9 2081.8 L1248.1 2081.8 L1253.0 2080.7 L1257.9 2079.4 L1263.0 2079.4 L1268.0 2078.3 L1272.7 2076.4 L1277.8 2076.1 L1282.9 2075.7 L1287.7 2074.0 L1292.7 2073.4 L1297.9 2073.4 L1302.8 2072.1 L1307.6 2070.6 L1312.8 2070.6 L1317.8 2070.4 L1322.8 2069.5 L1327.9 2069.5 L1332.9 2069.5 L1338.0 2069.5 L1343.0 2069.5 L1348.1 2069.5 L1353.1 2069.5 L1358.2 2069.5 L1363.2 2069.5 L1368.3 2069.5 L1373.3 2069.5 L1378.4 2069.5 L1383.4 2069.5 L1388.5 2069.5 L1393.5 2069.5 L1398.6 2069.5 L1403.6 2069.5 L1408.7 2069.5" stroke="#9ccca2"/>
<path d="M854.9 2572.1 L856.2 2567.2 L858.0 2562.5 L860.7 2558.2 L862.3 2553.4 L863.8 2548.5 L866.8 2544.3 L868.6 2539.5 L869.2 2534.5 L870.2 2529.6 L871.3 2524.6 L871.3 2519.5 L871.3 2514.4 L872.8 2509.5 L872.8 2504.4 L872.8 2499.3 L873.9 2494.3 L874.3 2489.3 L874.3 2484.2 L875.2 2479.2 L876.1 2474.2 L876.1 2469.1 L877.0 2464.2 L879.0 2459.4 L879.0 2454.2 L879.3 2449.1 L881.7 2444.5 L882.3 2439.4 L882.3 2434.3 L884.2 2429.5 L885.6 2424.6 L885.6 2419.4 L886.4 2414.5 L887.9 2409.6 L887.9 2404.4 L888.2 2399.4 L889.7 2394.5 L890.3 2389.5 L890.6 2384.4 L892.9 2379.7 L894.3 2374.9 L894.9 2369.8 L896.7 2365.1 L898.9 2360.4 L899.3 2355.3 L900.1 2350.3 L901.9 2345.5 L902.5 2340.5 L903.2 2335.4 L905.2 2330.7 L906.6 2325.9 L906.9 2320.7 L909.7 2316.3 L912.5 2312.1 L913.9 2307.1 L916.1 2302.6 L919.5 2298.6 L921.0 2293.7 L922.5 2288.9 L925.1 2284.4 L926.2 2279.5 L926.4 2274.3 L928.4 2269.6 L930.1 2264.8 L930.1 2259.6 L931.1 2254.7 L933.2 2250.0 L933.5 2244.9 L936.1 2240.4 L940.3 2237.5 L944.3 2234.5 L948.0 2231.1 L952.1 2228.2 L954.8 2223.9 L956.4 2219.0 L959.6 2215.0 L964.1 2212.5 L967.5 2208.7 L971.7 2205.7 L976.5 2203.9 L980.4 2200.7 L983.7 2196.8 L988.3 2194.4 L992.5 2191.6 L996.4 2188.3 L1001.2 2186.6 L1006.2 2185.5 L1010.7 2183.0 L1015.1 2180.9 L1019.4 2178.2 L1022.5 2174.1 L1026.1 2170.5 L1031.2 2169.3 L1035.7 2166.9 L1039.5 2163.4 L1044.0 2161.1 L1048.6 2158.9 L1052.8 2156.1 L1057.4 2154.1 L1062.2 2152.3 L1066.0 2148.9 L1069.9 2145.5 L1075.0 2144.5 L1079.5 2142.3 L1084.3 2140.6 L1089.5 2140.5 L1094.1 2138.5 L1097.7 2134.7 L1102.1 2132.1 L1107.2 2131.3 L1111.7 2129.0 L1116.3 2126.9 L1121.4 2125.9 L1125.9 2123.6 L1130.3 2120.9 L1135.2 2119.7 L1139.9 2117.6 L1141.4 2113.0 L1146.3 2111.1 L1151.2 2109.6 L1155.3 2106.5 L1159.9 2104.1 L1165.1 2104.1 L1170.1 2103.7 L1175.0 2102.5 L1180.2 2102.5 L1185.1 2101.4 L1189.6 2098.8 L1194.6 2098.0 L1199.7 2097.2 L1204.0 2094.3 L1208.8 2092.6 L1213.8 2091.7 L1218.3 2089.1 L1223.0 2087.3 L1228.2 2087.2 L1233.2 2086.4 L1237.9 2084.4 L1243.0 2084.0 L1248.1 2083.7 L1252.9 2081.6 L1257.8 2080.7 L1262.9 2080.5 L1267.8 2078.9 L1272.7 2077.6 L1277.8 2077.6 L1282.8 2076.6 L1287.7 2075.0 L1292.7 2074.9 L1297.8 2074.7 L1302.6 2072.6 L1307.7 2072.3 L1312.8 2072.3 L1317.7 2070.8 L1322.7 2069.5 L1332.8 2069.5 L1337.9 2069.5 L1342.9 2069.5 L1348.0 2069.5 L1353.1 2069.5 L1358.1 2069.5 L1363.2 2069.5 L1368.2 2069.5 L1373.3 2069.5 L1378.3 2069.5 L1383.4 2069.5 L1388.5 2069.5 L1393.5 2069.5 L1398.6 2069.5 L1403.6 2069.5 L1408.7 2069.5" stroke="#5faf9e"/>
<path d="M854.9 2574.1 L856.1 2569.2 L858.3 2564.6 L860.8 2560.2 L862.4 2555.4 L864.8 2551.0 L867.8 2546.8 L868.6 2541.7 L869.5 2536.8 L870.9 2531.9 L871.2 2526.8 L871.2 2521.7 L871.9 2516.7 L873.0 2511.8 L873.0 2506.6 L873.0 2501.6 L874.5 2496.7 L874.5 2491.5 L874.5 2486.5 L875.9 2481.6 L876.0 2476.5 L876.0 2471.4 L877.7 2466.5 L878.8 2461.6 L878.8 2456.5 L879.8 2451.5 L881.7 2446.7 L881.7 2441.6 L882.5 2436.6 L884.4 2431.8 L885.1 2426.8 L885.1 2421.7 L886.8 2416.8 L887.5 2411.8 L887.5 2406.7 L888.4 2401.8 L889.8 2396.8 L889.8 2391.7 L890.8 2386.8 L893.1 2382.1 L893.8 2377.1 L894.7 2372.1 L897.4 2367.6 L898.9 2362.8 L899.4 2357.7 L901.0 2352.9 L902.8 2348.1 L902.8 2342.9 L904.2 2338.1 L906.9 2333.6 L907.8 2328.6 L909.4 2323.8 L912.9 2319.9 L915.3 2315.5 L916.9 2310.6 L919.5 2306.3 L922.0 2301.8 L923.1 2296.8 L925.3 2292.3 L927.4 2287.6 L927.8 2282.5 L928.6 2277.5 L931.0 2272.9 L931.9 2267.9 L932.2 2262.7 L934.3 2258.1 L935.9 2253.4 L938.3 2249.0 L941.6 2245.1 L945.6 2241.9 L948.6 2237.8 L952.0 2234.1 L955.6 2230.5 L957.7 2225.9 L959.7 2221.1 L963.6 2218.0 L967.6 2214.9 L971.0 2211.0 L975.3 2208.4 L979.9 2205.9 L982.6 2201.4 L986.2 2197.8 L990.4 2195.0 L994.4 2192.1 L998.6 2189.1 L1003.6 2187.9 L1008.4 2186.2 L1012.7 2183.4 L1017.7 2182.3 L1021.8 2179.4 L1024.7 2175.1 L1029.0 2172.4 L1034.0 2171.1 L1038.2 2168.1 L1042.4 2165.3 L1047.5 2164.0 L1052.0 2161.7 L1056.1 2158.6 L1060.9 2157.0 L1065.8 2155.8 L1070.2 2153.2 L1074.9 2151.4 L1079.8 2149.9 L1084.1 2147.0 L1088.6 2144.9 L1093.8 2144.2 L1098.4 2142.2 L1102.6 2139.2 L1107.5 2137.8 L1112.3 2136.2 L1116.7 2133.6 L1121.6 2132.3 L1126.5 2130.8 L1130.8 2128.1 L1135.3 2125.8 L1140.3 2124.5 L1144.1 2121.1 L1147.8 2117.5 L1152.5 2115.6 L1157.2 2113.9 L1161.7 2111.2 L1166.7 2110.3 L1171.7 2109.6 L1176.3 2107.2 L1181.0 2105.4 L1186.1 2104.5 L1190.6 2102.2 L1195.0 2099.6 L1200.1 2098.9 L1204.9 2097.2 L1209.3 2094.6 L1214.3 2093.5 L1219.2 2092.4 L1223.8 2090.0 L1228.6 2088.5 L1233.7 2087.9 L1238.4 2085.9 L1243.2 2084.3 L1248.4 2084.3 L1253.3 2083.2 L1258.1 2081.3 L1263.2 2081.3 L1268.3 2081.3 L1273.2 2079.7 L1278.3 2079.5 L1283.4 2079.5 L1288.2 2077.7 L1293.1 2076.3 L1298.3 2076.3 L1303.2 2075.2 L1308.0 2073.5 L1313.1 2073.2 L1318.1 2072.4 L1322.8 2070.2 L1327.8 2069.9 L1332.9 2069.9 L1337.9 2069.8 L1343.0 2069.6 L1348.0 2069.6 L1353.1 2069.6 L1358.1 2069.5 L1363.2 2069.5 L1368.3 2069.5 L1373.3 2069.5 L1378.4 2069.5 L1383.4 2069.5 L1388.5 2069.5 L1393.5 2069.5 L1398.6 2069.5 L1403.6 2069.5 L1408.7 2069.5" stroke="#447ea6"/>
<path d="M854.9 2576.1 L856.4 2571.3 L859.1 2567.0 L861.4 2562.6 L863.5 2557.9 L866.9 2554.2 L868.7 2549.4 L868.7 2544.3 L869.9 2539.4 L871.6 2534.5 L871.6 2529.4 L871.6 2524.4 L872.8 2519.5 L873.2 2514.5 L873.2 2509.4 L874.1 2504.4 L874.8 2499.4 L874.8 2494.3 L875.1 2489.4 L876.5 2484.4 L876.5 2479.3 L877.1 2474.4 L880.1 2470.0 L881.1 2465.1 L881.3 2460.0 L883.4 2455.3 L884.5 2450.4 L884.5 2445.2 L885.6 2440.3 L887.2 2435.5 L887.2 2430.4 L887.2 2425.3 L888.6 2420.4 L888.7 2415.4 L888.7 2410.3 L890.1 2405.4 L890.6 2400.4 L890.6 2395.2 L891.8 2390.5 L893.6 2385.7 L894.0 2380.6 L895.6 2375.8 L897.9 2371.3 L899.0 2366.4 L900.0 2361.4 L901.9 2356.7 L902.7 2351.7 L902.7 2346.6 L904.4 2341.9 L906.9 2337.5 L908.1 2332.5 L910.6 2328.1 L913.9 2324.2 L915.7 2319.4 L917.6 2314.8 L920.7 2310.7 L922.7 2306.0 L923.7 2301.0 L926.6 2296.8 L928.1 2291.9 L928.2 2286.8 L929.9 2282.0 L931.9 2277.3 L932.4 2272.2 L933.2 2267.3 L935.4 2262.6 L936.3 2257.7 L938.2 2253.0 L941.9 2249.4 L945.0 2245.5 L947.7 2241.2 L951.6 2237.9 L955.4 2234.5 L957.2 2229.7 L959.6 2225.3 L963.1 2221.7 L966.3 2217.9 L969.7 2214.1 L974.1 2211.6 L978.2 2208.6 L981.4 2204.6 L985.3 2201.4 L989.3 2198.4 L992.2 2194.1 L996.8 2191.8 L1001.8 2190.6 L1006.1 2188.0 L1010.6 2185.7 L1015.7 2184.9 L1020.2 2182.7 L1023.6 2178.7 L1027.8 2176.0 L1032.5 2174.1 L1036.4 2170.8 L1041.0 2168.7 L1045.8 2167.1 L1050.0 2164.2 L1054.3 2161.6 L1059.2 2160.0 L1063.5 2157.6 L1068.0 2155.1 L1073.0 2154.1 L1077.8 2152.5 L1082.0 2149.7 L1086.7 2147.8 L1091.6 2146.6 L1096.1 2144.2 L1100.6 2142.0 L1105.5 2140.6 L1109.9 2138.0 L1114.2 2135.3 L1119.4 2134.8 L1124.1 2133.2 L1128.4 2130.2 L1133.3 2128.9 L1138.2 2127.7 L1142.6 2125.2 L1147.4 2123.7 L1152.3 2122.5 L1156.5 2119.5 L1160.6 2116.6 L1165.5 2115.2 L1170.2 2113.3 L1174.3 2110.3 L1179.2 2108.7 L1184.0 2107.3 L1188.3 2104.5 L1193.0 2102.8 L1198.1 2101.8 L1202.5 2099.5 L1207.1 2097.2 L1212.2 2096.5 L1216.9 2094.8 L1221.6 2092.7 L1226.7 2092.7 L1231.8 2092.7 L1235.8 2089.5 L1240.2 2087.0 L1245.1 2086.2 L1249.9 2084.7 L1254.8 2083.7 L1260.0 2083.7 L1264.9 2083.3 L1269.9 2082.2 L1275.0 2082.2 L1280.0 2081.9 L1284.5 2079.3 L1289.5 2078.6 L1294.6 2078.6 L1299.6 2077.9 L1304.6 2077.5 L1309.8 2077.5 L1314.3 2075.7 L1318.6 2072.9 L1323.5 2071.7 L1328.2 2070.5 L1333.2 2069.5 L1338.2 2069.5 L1348.3 2069.5 L1353.3 2069.5 L1358.4 2069.5 L1363.4 2069.5 L1368.4 2069.5 L1373.5 2069.5 L1378.5 2069.5 L1383.5 2069.5 L1388.6 2069.5 L1393.6 2069.5 L1398.6 2069.5 L1403.7 2069.5 L1408.7 2069.5" stroke="#524d90"/>
</g>
<path d="M853.4 2069.5 H1408.8 V2624.4" fill="none" stroke="#000" stroke-width="2.4"/>
<path d="M853.4 2069.5 V2624.4 H1408.8" fill="none" stroke="#000" stroke-width="2.9" stroke-linecap="square"/>
<path d="M853.4 2624.4 h-11.0 M853.4 2624.4 v11.0 M853.4 2485.7 h-11.0 M992.2 2624.4 v11.0 M853.4 2346.9 h-11.0 M1131.1 2624.4 v11.0 M853.4 2208.2 h-11.0 M1269.9 2624.4 v11.0 M853.4 2069.5 h-11.0 M1408.8 2624.4 v11.0" stroke="#000" stroke-width="2.6" fill="none"/>
<g font-family='"Liberation Sans", sans-serif' font-size="28.4" fill="#000">
<text x="819.7" y="2629.2" text-anchor="end" font-size="27.9">0.00</text>
<text x="852.9" y="2666.9" text-anchor="middle" font-size="27.9">0.00</text>
<text x="819.7" y="2490.5" text-anchor="end" font-size="27.9">0.25</text>
<text x="991.8" y="2666.9" text-anchor="middle" font-size="27.9">0.25</text>
<text x="819.7" y="2351.8" text-anchor="end" font-size="27.9">0.50</text>
<text x="1130.6" y="2666.9" text-anchor="middle" font-size="27.9">0.50</text>
<text x="819.7" y="2213.0" text-anchor="end" font-size="27.9">0.75</text>
<text x="1269.4" y="2666.9" text-anchor="middle" font-size="27.9">0.75</text>
<text x="819.7" y="2074.3" text-anchor="end" font-size="27.9">1.00</text>
<text x="1408.3" y="2666.9" text-anchor="middle" font-size="27.9">1.00</text>
<text x="1131.4" y="2702.8" text-anchor="middle" font-size="28">1-Specificity</text>
<text transform="translate(744.4 2346.4) rotate(-90)" text-anchor="middle" font-size="28">Sensitivity.</text>
<line x1="1441.8" y1="2069.5" x2="1490.2" y2="2069.5" stroke="#771f3e" stroke-width="2.4"/>
<text x="1513.6" y="2074.6" font-size="27.6">Factor 0</text>
<line x1="1441.8" y1="2131.2" x2="1490.2" y2="2131.2" stroke="#bd3756" stroke-width="2.4"/>
<text x="1513.6" y="2136.3" font-size="27.6">Factor 200</text>
<line x1="1441.8" y1="2192.8" x2="1490.2" y2="2192.8" stroke="#da6d50" stroke-width="2.4"/>
<text x="1513.6" y="2197.9" font-size="27.6">Factor 400</text>
<line x1="1441.8" y1="2254.5" x2="1490.2" y2="2254.5" stroke="#eaa06e" stroke-width="2.4"/>
<text x="1513.6" y="2259.6" font-size="27.6">Factor 600</text>
<line x1="1441.8" y1="2316.1" x2="1490.2" y2="2316.1" stroke="#f0d08a" stroke-width="2.4"/>
<text x="1513.6" y="2321.2" font-size="27.6">Factor 800</text>
<line x1="1441.8" y1="2377.8" x2="1490.2" y2="2377.8" stroke="#dbe094" stroke-width="2.4"/>
<text x="1513.6" y="2382.9" font-size="27.6">Factor 1000</text>
<line x1="1441.8" y1="2439.4" x2="1490.2" y2="2439.4" stroke="#9ccca2" stroke-width="2.4"/>
<text x="1513.6" y="2444.5" font-size="27.6">Factor 1200</text>
<line x1="1441.8" y1="2501.1" x2="1490.2" y2="2501.1" stroke="#5faf9e" stroke-width="2.4"/>
<text x="1513.6" y="2506.2" font-size="27.6">Factor 1400</text>
<line x1="1441.8" y1="2562.7" x2="1490.2" y2="2562.7" stroke="#447ea6" stroke-width="2.4"/>
<text x="1513.6" y="2567.8" font-size="27.6">Factor 1600</text>
<line x1="1441.8" y1="2624.4" x2="1490.2" y2="2624.4" stroke="#524d90" stroke-width="2.4"/>
<text x="1513.6" y="2629.5" font-size="27.6">Factor 1800</text>
<text x="699.2" y="2020.2">h</text>
</g>
</g>
</svg></body></html>
